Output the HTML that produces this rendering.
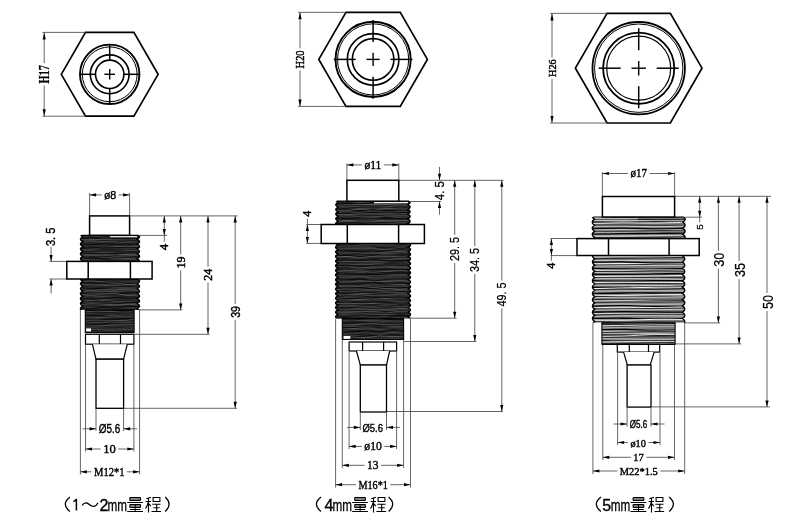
<!DOCTYPE html>
<html><head><meta charset="utf-8"><style>
html,body{margin:0;padding:0;background:#fff;}
body{width:790px;height:522px;overflow:hidden;font-family:"Liberation Sans",sans-serif;}
svg{display:block;will-change:transform;}
</style></head><body>
<svg width="790" height="522" viewBox="0 0 790 522">
<rect width="790" height="522" fill="#fff"/>
<path d="M61.3 74.3 L85.5 32.38 L133.9 32.38 L158.1 74.3 L133.9 116.22 L85.5 116.22 Z" stroke="#000" stroke-width="1.7" fill="none"/>
<circle cx="109.7" cy="74.3" r="29.7" stroke="#000" stroke-width="1.9" fill="none"/>
<circle cx="109.7" cy="74.3" r="27.4" stroke="#000" stroke-width="1.0" fill="none"/>
<circle cx="109.7" cy="74.3" r="19.4" stroke="#000" stroke-width="1.6" fill="none"/>
<circle cx="109.7" cy="74.3" r="14.2" stroke="#000" stroke-width="1.6" fill="none"/>
<line x1="79.7" y1="74.3" x2="95.5" y2="74.3" stroke="#000" stroke-width="1.5"/>
<line x1="109.7" y1="44.3" x2="109.7" y2="60.1" stroke="#000" stroke-width="1.5"/>
<line x1="123.9" y1="74.3" x2="139.7" y2="74.3" stroke="#000" stroke-width="1.5"/>
<line x1="109.7" y1="88.5" x2="109.7" y2="104.3" stroke="#000" stroke-width="1.5"/>
<line x1="104.4" y1="74.3" x2="115" y2="74.3" stroke="#000" stroke-width="1.4"/>
<line x1="109.7" y1="69" x2="109.7" y2="79.6" stroke="#000" stroke-width="1.4"/>
<line x1="42.4" y1="32.38" x2="85.5" y2="32.38" stroke="#555" stroke-width="0.9"/>
<line x1="42.4" y1="116.22" x2="85.5" y2="116.22" stroke="#555" stroke-width="0.9"/>
<line x1="44.2" y1="32.38" x2="44.2" y2="63.05" stroke="#555" stroke-width="0.9"/>
<line x1="44.2" y1="85.55" x2="44.2" y2="116.22" stroke="#555" stroke-width="0.9"/>
<path d="M44.2 32.38 L45.8 39.38 L42.6 39.38 Z" fill="#000"/>
<path d="M44.2 116.22 L42.6 109.22 L45.8 109.22 Z" fill="#000"/>
<text x="44" y="74.3" font-family="Liberation Serif" font-size="14.5" font-weight="bold" text-anchor="middle" dominant-baseline="central" textLength="18.5" lengthAdjust="spacingAndGlyphs" transform="rotate(-90 44 74.3)" fill="#000" stroke="#000" stroke-width="0.2">H17</text>
<path d="M318.8 59.4 L345.95 12.37 L400.25 12.37 L427.4 59.4 L400.25 106.43 L345.95 106.43 Z" stroke="#000" stroke-width="1.7" fill="none"/>
<circle cx="373.1" cy="59.4" r="37.6" stroke="#000" stroke-width="1.9" fill="none"/>
<circle cx="373.1" cy="59.4" r="35.6" stroke="#000" stroke-width="1.0" fill="none"/>
<circle cx="373.1" cy="59.4" r="25.8" stroke="#000" stroke-width="1.6" fill="none"/>
<circle cx="373.1" cy="59.4" r="20.8" stroke="#000" stroke-width="1.6" fill="none"/>
<line x1="333.8" y1="59.4" x2="355.7" y2="59.4" stroke="#000" stroke-width="1.5"/>
<line x1="373.1" y1="20.1" x2="373.1" y2="42" stroke="#000" stroke-width="1.5"/>
<line x1="390.5" y1="59.4" x2="412.4" y2="59.4" stroke="#000" stroke-width="1.5"/>
<line x1="373.1" y1="76.8" x2="373.1" y2="98.7" stroke="#000" stroke-width="1.5"/>
<line x1="366.5" y1="59.4" x2="379.7" y2="59.4" stroke="#000" stroke-width="1.4"/>
<line x1="373.1" y1="52.8" x2="373.1" y2="66" stroke="#000" stroke-width="1.4"/>
<line x1="298.2" y1="12.37" x2="345.95" y2="12.37" stroke="#555" stroke-width="0.9"/>
<line x1="298.2" y1="106.43" x2="345.95" y2="106.43" stroke="#555" stroke-width="0.9"/>
<line x1="300" y1="12.37" x2="300" y2="48.4" stroke="#555" stroke-width="0.9"/>
<line x1="300" y1="70.4" x2="300" y2="106.43" stroke="#555" stroke-width="0.9"/>
<path d="M300 12.37 L301.6 19.37 L298.4 19.37 Z" fill="#000"/>
<path d="M300 106.43 L298.4 99.43 L301.6 99.43 Z" fill="#000"/>
<text x="300.3" y="59.4" font-family="Liberation Serif" font-size="12.5" font-weight="normal" text-anchor="middle" dominant-baseline="central" textLength="18" lengthAdjust="spacingAndGlyphs" transform="rotate(-90 300.3 59.4)" fill="#000" stroke="#000" stroke-width="0.45">H20</text>
<path d="M575.4 68.2 L607.05 13.38 L670.35 13.38 L702 68.2 L670.35 123.02 L607.05 123.02 Z" stroke="#000" stroke-width="1.7" fill="none"/>
<circle cx="638.7" cy="68.2" r="46.2" stroke="#000" stroke-width="1.8" fill="none"/>
<circle cx="638.7" cy="68.2" r="44.2" stroke="#000" stroke-width="1.0" fill="none"/>
<circle cx="638.7" cy="68.2" r="35.6" stroke="#000" stroke-width="1.8" fill="none"/>
<circle cx="638.7" cy="68.2" r="32" stroke="#000" stroke-width="1.2" fill="none"/>
<line x1="598.7" y1="68.2" x2="620.7" y2="68.2" stroke="#000" stroke-width="1.5"/>
<line x1="638.7" y1="28.2" x2="638.7" y2="50.2" stroke="#000" stroke-width="1.5"/>
<line x1="656.7" y1="68.2" x2="678.7" y2="68.2" stroke="#000" stroke-width="1.5"/>
<line x1="638.7" y1="86.2" x2="638.7" y2="108.2" stroke="#000" stroke-width="1.5"/>
<line x1="631.5" y1="68.2" x2="645.9" y2="68.2" stroke="#000" stroke-width="1.4"/>
<line x1="638.7" y1="61" x2="638.7" y2="75.4" stroke="#000" stroke-width="1.4"/>
<line x1="550.2" y1="13.38" x2="607.05" y2="13.38" stroke="#555" stroke-width="0.9"/>
<line x1="550.2" y1="123.02" x2="607.05" y2="123.02" stroke="#555" stroke-width="0.9"/>
<line x1="552" y1="13.38" x2="552" y2="57.45" stroke="#555" stroke-width="0.9"/>
<line x1="552" y1="78.95" x2="552" y2="123.02" stroke="#555" stroke-width="0.9"/>
<path d="M552 13.38 L553.6 20.38 L550.4 20.38 Z" fill="#000"/>
<path d="M552 123.02 L550.4 116.02 L553.6 116.02 Z" fill="#000"/>
<text x="552.3" y="68.2" font-family="Liberation Serif" font-size="11" font-weight="normal" text-anchor="middle" dominant-baseline="central" textLength="17.5" lengthAdjust="spacingAndGlyphs" transform="rotate(-90 552.3 68.2)" fill="#000" stroke="#000" stroke-width="0.4">H26</text>
<line x1="89.6" y1="193" x2="89.6" y2="215" stroke="#555" stroke-width="0.9"/>
<line x1="129.6" y1="193" x2="129.6" y2="215" stroke="#555" stroke-width="0.9"/>
<line x1="130" y1="215.9" x2="237.5" y2="215.9" stroke="#555" stroke-width="0.9"/>
<line x1="140" y1="235.4" x2="167" y2="235.4" stroke="#555" stroke-width="0.9"/>
<line x1="140" y1="309.9" x2="182.3" y2="309.9" stroke="#555" stroke-width="0.9"/>
<line x1="134.5" y1="334.3" x2="209.5" y2="334.3" stroke="#555" stroke-width="0.9"/>
<line x1="124" y1="408.3" x2="237" y2="408.3" stroke="#555" stroke-width="0.9"/>
<line x1="49.5" y1="261.4" x2="66.8" y2="261.4" stroke="#555" stroke-width="0.9"/>
<line x1="49.5" y1="279" x2="66.8" y2="279" stroke="#555" stroke-width="0.9"/>
<line x1="96" y1="409" x2="96" y2="431" stroke="#555" stroke-width="0.9"/>
<line x1="123.6" y1="409" x2="123.6" y2="431" stroke="#555" stroke-width="0.9"/>
<line x1="85.5" y1="345" x2="85.5" y2="451.5" stroke="#555" stroke-width="0.9"/>
<line x1="133.9" y1="345" x2="133.9" y2="451.5" stroke="#555" stroke-width="0.9"/>
<line x1="80.4" y1="310" x2="80.4" y2="474.5" stroke="#555" stroke-width="0.9"/>
<line x1="139.6" y1="310" x2="139.6" y2="474.5" stroke="#555" stroke-width="0.9"/>
<clipPath id="th1b"><rect x="76.4" y="235.3" width="67.2" height="26.1"/></clipPath>
<g clip-path="url(#th1b)">
<clipPath id="th1"><path d="M137.2 226.95 L82.8 226.95 L82.8 226.95 Q78 229.4 82.8 231.85 L82.8 231.85 Q78 234.3 82.8 236.75 L82.8 236.75 Q78 239.2 82.8 241.65 L82.8 241.65 Q78 244.1 82.8 246.55 L82.8 246.55 Q78 249 82.8 251.45 L82.8 251.45 Q78 253.9 82.8 256.35 L82.8 256.35 Q78 258.8 82.8 261.25 L82.8 261.25 Q78 263.7 82.8 266.15 L82.8 266.15 Q78 268.6 82.8 271.05 L82.8 271.05 Q78 273.5 82.8 275.95 L82.8 275.95 Q78 278.4 82.8 280.85 L137.2 283.3 L137.2 283.3 Q142 280.85 137.2 278.4 L137.2 278.4 Q142 275.95 137.2 273.5 L137.2 273.5 Q142 271.05 137.2 268.6 L137.2 268.6 Q142 266.15 137.2 263.7 L137.2 263.7 Q142 261.25 137.2 258.8 L137.2 258.8 Q142 256.35 137.2 253.9 L137.2 253.9 Q142 251.45 137.2 249 L137.2 249 Q142 246.55 137.2 244.1 L137.2 244.1 Q142 241.65 137.2 239.2 L137.2 239.2 Q142 236.75 137.2 234.3 L137.2 234.3 Q142 231.85 137.2 229.4 L137.2 229.4 Q142 226.95 137.2 224.5 Z"/></clipPath>
<g clip-path="url(#th1)">
<path d="M137.2 226.95 L82.8 226.95 L82.8 226.95 Q78 229.4 82.8 231.85 L82.8 231.85 Q78 234.3 82.8 236.75 L82.8 236.75 Q78 239.2 82.8 241.65 L82.8 241.65 Q78 244.1 82.8 246.55 L82.8 246.55 Q78 249 82.8 251.45 L82.8 251.45 Q78 253.9 82.8 256.35 L82.8 256.35 Q78 258.8 82.8 261.25 L82.8 261.25 Q78 263.7 82.8 266.15 L82.8 266.15 Q78 268.6 82.8 271.05 L82.8 271.05 Q78 273.5 82.8 275.95 L82.8 275.95 Q78 278.4 82.8 280.85 L137.2 283.3 L137.2 283.3 Q142 280.85 137.2 278.4 L137.2 278.4 Q142 275.95 137.2 273.5 L137.2 273.5 Q142 271.05 137.2 268.6 L137.2 268.6 Q142 266.15 137.2 263.7 L137.2 263.7 Q142 261.25 137.2 258.8 L137.2 258.8 Q142 256.35 137.2 253.9 L137.2 253.9 Q142 251.45 137.2 249 L137.2 249 Q142 246.55 137.2 244.1 L137.2 244.1 Q142 241.65 137.2 239.2 L137.2 239.2 Q142 236.75 137.2 234.3 L137.2 234.3 Q142 231.85 137.2 229.4 L137.2 229.4 Q142 226.95 137.2 224.5 Z" fill="#2c2c2c"/>
<path d="M79.4 229.46 C81.44 229.46 87.56 229.62 91.64 229.48 C95.72 229.34 99.8 228.57 103.88 228.61 C107.96 228.64 112.04 229.53 116.12 229.69 C120.2 229.85 124.28 229.73 128.36 229.58 C132.44 229.43 138.56 228.93 140.6 228.8" stroke="#050505" stroke-width="0.9" fill="none"/>
<path d="M79.4 230.5 C81.44 230.47 87.56 230.44 91.64 230.29 C95.72 230.15 99.8 229.83 103.88 229.66 C107.96 229.49 112.04 229.13 116.12 229.25 C120.2 229.38 124.28 230.41 128.36 230.41 C132.44 230.41 138.56 229.45 140.6 229.26" stroke="#8a8a8a" stroke-width="0.5" fill="none"/>
<path d="M79.4 231.66 C81.44 231.73 87.56 232.14 91.64 232.08 C95.72 232.01 99.8 231.52 103.88 231.26 C107.96 231.01 112.04 230.73 116.12 230.52 C120.2 230.31 124.28 230.09 128.36 230.02 C132.44 229.96 138.56 230.14 140.6 230.16" stroke="#111" stroke-width="0.7" fill="none"/>
<path d="M79.4 232.23 C81.44 232.28 87.56 232.47 91.64 232.49 C95.72 232.5 99.8 232.54 103.88 232.32 C107.96 232.1 112.04 231.15 116.12 231.14 C120.2 231.14 124.28 232.21 128.36 232.29 C132.44 232.38 138.56 231.75 140.6 231.64" stroke="#737373" stroke-width="0.45" fill="none"/>
<path d="M79.4 233.46 C81.44 233.52 87.56 233.91 91.64 233.79 C95.72 233.68 99.8 232.93 103.88 232.76 C107.96 232.59 112.04 232.72 116.12 232.79 C120.2 232.85 124.28 232.95 128.36 233.15 C132.44 233.36 138.56 233.85 140.6 233.99" stroke="#0a0a0a" stroke-width="0.7" fill="none"/>
<path d="M79.4 234.16 C81.44 234.09 87.56 233.64 91.64 233.71 C95.72 233.78 99.8 234.67 103.88 234.59 C107.96 234.51 112.04 233.41 116.12 233.23 C120.2 233.05 124.28 233.51 128.36 233.51 C132.44 233.51 138.56 233.28 140.6 233.23" stroke="#5a5a5a" stroke-width="0.4" fill="none"/>
<path d="M79.4 234.25 C81.44 234.23 87.56 234.11 91.64 234.13 C95.72 234.14 99.8 234.59 103.88 234.35 C107.96 234.11 112.04 232.99 116.12 232.69 C120.2 232.38 124.28 232.51 128.36 232.53 C132.44 232.55 138.56 232.75 140.6 232.79" stroke="#050505" stroke-width="0.9" fill="none"/>
<path d="M79.4 235.21 C81.44 235.16 87.56 234.9 91.64 234.9 C95.72 234.9 99.8 235.29 103.88 235.24 C107.96 235.19 112.04 234.81 116.12 234.61 C120.2 234.42 124.28 234.22 128.36 234.06 C132.44 233.91 138.56 233.75 140.6 233.69" stroke="#8a8a8a" stroke-width="0.5" fill="none"/>
<path d="M79.4 236.45 C81.44 236.43 87.56 236.45 91.64 236.33 C95.72 236.2 99.8 235.76 103.88 235.69 C107.96 235.61 112.04 236.06 116.12 235.89 C120.2 235.71 124.28 234.77 128.36 234.66 C132.44 234.54 138.56 235.09 140.6 235.18" stroke="#111" stroke-width="0.7" fill="none"/>
<path d="M79.4 237.22 C81.44 237.06 87.56 236.26 91.64 236.27 C95.72 236.28 99.8 237.11 103.88 237.28 C107.96 237.44 112.04 237.5 116.12 237.28 C120.2 237.06 124.28 236.21 128.36 235.97 C132.44 235.73 138.56 235.85 140.6 235.83" stroke="#737373" stroke-width="0.45" fill="none"/>
<path d="M79.4 237.91 C81.44 237.8 87.56 237.28 91.64 237.24 C95.72 237.21 99.8 237.82 103.88 237.72 C107.96 237.61 112.04 236.86 116.12 236.63 C120.2 236.39 124.28 236.26 128.36 236.3 C132.44 236.33 138.56 236.75 140.6 236.85" stroke="#0a0a0a" stroke-width="0.7" fill="none"/>
<path d="M79.4 238.67 C81.44 238.68 87.56 238.7 91.64 238.72 C95.72 238.75 99.8 238.86 103.88 238.82 C107.96 238.78 112.04 238.68 116.12 238.49 C120.2 238.29 124.28 237.82 128.36 237.65 C132.44 237.47 138.56 237.47 140.6 237.44" stroke="#5a5a5a" stroke-width="0.4" fill="none"/>
<path d="M79.4 239.08 C81.44 238.89 87.56 237.93 91.64 237.96 C95.72 237.99 99.8 239.18 103.88 239.25 C107.96 239.31 112.04 238.53 116.12 238.36 C120.2 238.18 124.28 238.19 128.36 238.2 C132.44 238.22 138.56 238.4 140.6 238.43" stroke="#050505" stroke-width="0.9" fill="none"/>
<path d="M79.4 239.84 C81.44 239.85 87.56 239.96 91.64 239.89 C95.72 239.81 99.8 239.32 103.88 239.38 C107.96 239.43 112.04 240.16 116.12 240.21 C120.2 240.27 124.28 239.86 128.36 239.7 C132.44 239.54 138.56 239.31 140.6 239.23" stroke="#8a8a8a" stroke-width="0.5" fill="none"/>
<path d="M79.4 240.86 C81.44 240.98 87.56 241.61 91.64 241.59 C95.72 241.56 99.8 240.85 103.88 240.72 C107.96 240.59 112.04 240.97 116.12 240.79 C120.2 240.61 124.28 239.69 128.36 239.63 C132.44 239.56 138.56 240.28 140.6 240.41" stroke="#111" stroke-width="0.7" fill="none"/>
<path d="M79.4 241.89 C81.44 241.83 87.56 241.64 91.64 241.57 C95.72 241.51 99.8 241.47 103.88 241.49 C107.96 241.52 112.04 241.71 116.12 241.71 C120.2 241.71 124.28 241.56 128.36 241.5 C132.44 241.43 138.56 241.33 140.6 241.3" stroke="#737373" stroke-width="0.45" fill="none"/>
<path d="M79.4 242.87 C81.44 242.81 87.56 242.43 91.64 242.5 C95.72 242.58 99.8 243.4 103.88 243.31 C107.96 243.22 112.04 242.35 116.12 241.96 C120.2 241.56 124.28 241 128.36 240.95 C132.44 240.9 138.56 241.52 140.6 241.63" stroke="#0a0a0a" stroke-width="0.7" fill="none"/>
<path d="M79.4 243.21 C81.44 243.05 87.56 242.39 91.64 242.23 C95.72 242.07 99.8 242.24 103.88 242.23 C107.96 242.22 112.04 242.08 116.12 242.18 C120.2 242.27 124.28 242.68 128.36 242.78 C132.44 242.89 138.56 242.79 140.6 242.79" stroke="#5a5a5a" stroke-width="0.4" fill="none"/>
<path d="M79.4 244.49 C81.44 244.46 87.56 244.36 91.64 244.3 C95.72 244.25 99.8 244.18 103.88 244.15 C107.96 244.13 112.04 244.21 116.12 244.18 C120.2 244.14 124.28 244 128.36 243.96 C132.44 243.93 138.56 243.96 140.6 243.96" stroke="#050505" stroke-width="0.9" fill="none"/>
<path d="M79.4 245.26 C81.44 245.34 87.56 245.73 91.64 245.73 C95.72 245.73 99.8 245.25 103.88 245.26 C107.96 245.27 112.04 245.6 116.12 245.79 C120.2 245.97 124.28 246.41 128.36 246.38 C132.44 246.36 138.56 245.76 140.6 245.64" stroke="#8a8a8a" stroke-width="0.5" fill="none"/>
<path d="M79.4 245.68 C81.44 245.69 87.56 245.72 91.64 245.71 C95.72 245.7 99.8 245.69 103.88 245.63 C107.96 245.56 112.04 245.43 116.12 245.32 C120.2 245.22 124.28 245.12 128.36 245 C132.44 244.88 138.56 244.67 140.6 244.61" stroke="#111" stroke-width="0.7" fill="none"/>
<path d="M79.4 247.06 C81.44 247.14 87.56 247.45 91.64 247.56 C95.72 247.68 99.8 247.93 103.88 247.76 C107.96 247.6 112.04 246.67 116.12 246.6 C120.2 246.53 124.28 247.35 128.36 247.34 C132.44 247.32 138.56 246.65 140.6 246.51" stroke="#737373" stroke-width="0.45" fill="none"/>
<path d="M79.4 247.95 C81.44 247.81 87.56 246.95 91.64 247.11 C95.72 247.27 99.8 248.65 103.88 248.92 C107.96 249.18 112.04 248.66 116.12 248.7 C120.2 248.74 124.28 249.22 128.36 249.16 C132.44 249.09 138.56 248.45 140.6 248.3" stroke="#0a0a0a" stroke-width="0.7" fill="none"/>
<path d="M79.4 248.9 C81.44 248.92 87.56 249.23 91.64 249.04 C95.72 248.86 99.8 247.88 103.88 247.79 C107.96 247.7 112.04 248.31 116.12 248.5 C120.2 248.7 124.28 249.05 128.36 248.96 C132.44 248.86 138.56 248.1 140.6 247.92" stroke="#5a5a5a" stroke-width="0.4" fill="none"/>
<path d="M79.4 248.75 C81.44 248.59 87.56 247.9 91.64 247.75 C95.72 247.59 99.8 247.82 103.88 247.81 C107.96 247.8 112.04 247.76 116.12 247.67 C120.2 247.58 124.28 247.24 128.36 247.28 C132.44 247.32 138.56 247.82 140.6 247.92" stroke="#050505" stroke-width="0.9" fill="none"/>
<path d="M79.4 250.38 C81.44 250.38 87.56 250.27 91.64 250.38 C95.72 250.48 99.8 250.91 103.88 251.01 C107.96 251.11 112.04 251.03 116.12 250.98 C120.2 250.93 124.28 250.75 128.36 250.71 C132.44 250.67 138.56 250.73 140.6 250.73" stroke="#8a8a8a" stroke-width="0.5" fill="none"/>
<path d="M79.4 250.8 C81.44 250.81 87.56 250.97 91.64 250.88 C95.72 250.8 99.8 250.35 103.88 250.28 C107.96 250.2 112.04 250.33 116.12 250.45 C120.2 250.56 124.28 250.91 128.36 250.94 C132.44 250.98 138.56 250.71 140.6 250.66" stroke="#111" stroke-width="0.7" fill="none"/>
<path d="M79.4 251.8 C81.44 251.8 87.56 251.74 91.64 251.79 C95.72 251.84 99.8 252.08 103.88 252.09 C107.96 252.1 112.04 252.01 116.12 251.86 C120.2 251.71 124.28 251.39 128.36 251.19 C132.44 250.99 138.56 250.75 140.6 250.66" stroke="#737373" stroke-width="0.45" fill="none"/>
<path d="M79.4 252.33 C81.44 252.17 87.56 251.57 91.64 251.38 C95.72 251.18 99.8 251.16 103.88 251.17 C107.96 251.19 112.04 251.35 116.12 251.44 C120.2 251.53 124.28 251.67 128.36 251.71 C132.44 251.75 138.56 251.67 140.6 251.66" stroke="#0a0a0a" stroke-width="0.7" fill="none"/>
<path d="M79.4 253.62 C81.44 253.54 87.56 253.09 91.64 253.14 C95.72 253.19 99.8 253.86 103.88 253.92 C107.96 253.98 112.04 253.58 116.12 253.5 C120.2 253.42 124.28 253.48 128.36 253.46 C132.44 253.44 138.56 253.41 140.6 253.4" stroke="#5a5a5a" stroke-width="0.4" fill="none"/>
<path d="M79.4 253.71 C81.44 253.64 87.56 253.23 91.64 253.27 C95.72 253.3 99.8 253.91 103.88 253.91 C107.96 253.92 112.04 253.43 116.12 253.3 C120.2 253.16 124.28 253.14 128.36 253.1 C132.44 253.07 138.56 253.09 140.6 253.08" stroke="#050505" stroke-width="0.9" fill="none"/>
<path d="M79.4 254.86 C81.44 254.91 87.56 255.1 91.64 255.13 C95.72 255.17 99.8 255.08 103.88 255.08 C107.96 255.08 112.04 255.28 116.12 255.14 C120.2 255 124.28 254.37 128.36 254.24 C132.44 254.1 138.56 254.3 140.6 254.32" stroke="#8a8a8a" stroke-width="0.5" fill="none"/>
<path d="M79.4 256 C81.44 256.18 87.56 256.98 91.64 257.09 C95.72 257.19 99.8 256.92 103.88 256.65 C107.96 256.37 112.04 255.36 116.12 255.44 C120.2 255.52 124.28 256.93 128.36 257.11 C132.44 257.29 138.56 256.62 140.6 256.52" stroke="#111" stroke-width="0.7" fill="none"/>
<path d="M79.4 256.86 C81.44 256.75 87.56 256.37 91.64 256.21 C95.72 256.04 99.8 255.85 103.88 255.88 C107.96 255.92 112.04 256.41 116.12 256.41 C120.2 256.4 124.28 256.02 128.36 255.83 C132.44 255.65 138.56 255.39 140.6 255.3" stroke="#737373" stroke-width="0.45" fill="none"/>
<path d="M79.4 257.4 C81.44 257.25 87.56 256.71 91.64 256.5 C95.72 256.29 99.8 255.99 103.88 256.12 C107.96 256.24 112.04 257.07 116.12 257.27 C120.2 257.47 124.28 257.5 128.36 257.32 C132.44 257.14 138.56 256.4 140.6 256.21" stroke="#0a0a0a" stroke-width="0.7" fill="none"/>
<path d="M79.4 258.09 C81.44 258.24 87.56 259.1 91.64 259 C95.72 258.9 99.8 257.61 103.88 257.48 C107.96 257.36 112.04 258.17 116.12 258.25 C120.2 258.34 124.28 258.02 128.36 258 C132.44 257.97 138.56 258.1 140.6 258.12" stroke="#5a5a5a" stroke-width="0.4" fill="none"/>
<path d="M79.4 259.18 C81.44 259.03 87.56 258.35 91.64 258.27 C95.72 258.2 99.8 258.41 103.88 258.71 C107.96 259.01 112.04 259.92 116.12 260.06 C120.2 260.21 124.28 259.67 128.36 259.58 C132.44 259.48 138.56 259.51 140.6 259.49" stroke="#050505" stroke-width="0.9" fill="none"/>
<path d="M79.4 259.8 C81.44 259.89 87.56 260.2 91.64 260.36 C95.72 260.53 99.8 260.91 103.88 260.78 C107.96 260.65 112.04 259.85 116.12 259.56 C120.2 259.27 124.28 258.97 128.36 259.04 C132.44 259.11 138.56 259.82 140.6 259.98" stroke="#8a8a8a" stroke-width="0.5" fill="none"/>
<path d="M79.4 260.82 C81.44 260.79 87.56 260.63 91.64 260.65 C95.72 260.67 99.8 261.09 103.88 260.94 C107.96 260.78 112.04 259.9 116.12 259.72 C120.2 259.53 124.28 259.89 128.36 259.83 C132.44 259.76 138.56 259.41 140.6 259.33" stroke="#111" stroke-width="0.7" fill="none"/>
<path d="M79.4 261.23 C81.44 261.23 87.56 261.16 91.64 261.19 C95.72 261.23 99.8 261.41 103.88 261.46 C107.96 261.51 112.04 261.84 116.12 261.48 C120.2 261.12 124.28 259.54 128.36 259.29 C132.44 259.04 138.56 259.86 140.6 259.98" stroke="#737373" stroke-width="0.45" fill="none"/>
<path d="M79.4 262.81 C81.44 262.75 87.56 262.48 91.64 262.42 C95.72 262.35 99.8 262.37 103.88 262.42 C107.96 262.46 112.04 262.73 116.12 262.68 C120.2 262.63 124.28 262.18 128.36 262.13 C132.44 262.07 138.56 262.3 140.6 262.34" stroke="#0a0a0a" stroke-width="0.7" fill="none"/>
<path d="M79.4 262.93 C81.44 263.01 87.56 263.34 91.64 263.4 C95.72 263.46 99.8 263.24 103.88 263.27 C107.96 263.29 112.04 263.41 116.12 263.55 C120.2 263.7 124.28 264.2 128.36 264.14 C132.44 264.09 138.56 263.38 140.6 263.23" stroke="#5a5a5a" stroke-width="0.4" fill="none"/>
<path d="M79.4 263.44 C81.44 263.55 87.56 264.17 91.64 264.13 C95.72 264.09 99.8 263.29 103.88 263.21 C107.96 263.14 112.04 263.63 116.12 263.69 C120.2 263.74 124.28 263.53 128.36 263.53 C132.44 263.52 138.56 263.63 140.6 263.65" stroke="#050505" stroke-width="0.9" fill="none"/>
<path d="M79.4 264.44 C81.44 264.3 87.56 263.51 91.64 263.61 C95.72 263.71 99.8 265.07 103.88 265.04 C107.96 265.01 112.04 263.56 116.12 263.42 C120.2 263.28 124.28 264.12 128.36 264.19 C132.44 264.25 138.56 263.85 140.6 263.79" stroke="#8a8a8a" stroke-width="0.5" fill="none"/>
<path d="M79.4 265.62 C81.44 265.73 87.56 266.32 91.64 266.31 C95.72 266.3 99.8 265.66 103.88 265.56 C107.96 265.45 112.04 265.76 116.12 265.7 C120.2 265.63 124.28 265.08 128.36 265.15 C132.44 265.23 138.56 265.99 140.6 266.16" stroke="#111" stroke-width="0.7" fill="none"/>
<path d="M79.4 266.04 C81.44 266.16 87.56 266.96 91.64 266.75 C95.72 266.54 99.8 265.09 103.88 264.77 C107.96 264.45 112.04 264.71 116.12 264.84 C120.2 264.97 124.28 265.53 128.36 265.58 C132.44 265.62 138.56 265.2 140.6 265.12" stroke="#737373" stroke-width="0.45" fill="none"/>
<path d="M79.4 267.26 C81.44 267.37 87.56 268.15 91.64 267.92 C95.72 267.69 99.8 266.07 103.88 265.87 C107.96 265.68 112.04 266.7 116.12 266.74 C120.2 266.79 124.28 266.28 128.36 266.17 C132.44 266.06 138.56 266.09 140.6 266.07" stroke="#0a0a0a" stroke-width="0.7" fill="none"/>
<path d="M79.4 267.99 C81.44 267.83 87.56 267.19 91.64 267.08 C95.72 266.97 99.8 267.21 103.88 267.33 C107.96 267.45 112.04 267.85 116.12 267.79 C120.2 267.73 124.28 267.15 128.36 266.99 C132.44 266.82 138.56 266.84 140.6 266.82" stroke="#5a5a5a" stroke-width="0.4" fill="none"/>
<path d="M79.4 268.82 C81.44 268.72 87.56 268.09 91.64 268.23 C95.72 268.38 99.8 269.56 103.88 269.71 C107.96 269.87 112.04 269.32 116.12 269.18 C120.2 269.05 124.28 268.93 128.36 268.93 C132.44 268.92 138.56 269.12 140.6 269.15" stroke="#050505" stroke-width="0.9" fill="none"/>
<path d="M79.4 269.59 C81.44 269.57 87.56 269.56 91.64 269.45 C95.72 269.33 99.8 268.71 103.88 268.92 C107.96 269.14 112.04 270.69 116.12 270.72 C120.2 270.76 124.28 269.24 128.36 269.11 C132.44 268.98 138.56 269.81 140.6 269.95" stroke="#8a8a8a" stroke-width="0.5" fill="none"/>
<path d="M79.4 270.15 C81.44 270.08 87.56 269.84 91.64 269.77 C95.72 269.7 99.8 269.61 103.88 269.72 C107.96 269.83 112.04 270.24 116.12 270.44 C120.2 270.64 124.28 270.97 128.36 270.92 C132.44 270.87 138.56 270.27 140.6 270.14" stroke="#111" stroke-width="0.7" fill="none"/>
<path d="M79.4 271.17 C81.44 271.22 87.56 271.43 91.64 271.49 C95.72 271.55 99.8 271.55 103.88 271.55 C107.96 271.54 112.04 271.65 116.12 271.47 C120.2 271.3 124.28 270.5 128.36 270.51 C132.44 270.53 138.56 271.39 140.6 271.57" stroke="#737373" stroke-width="0.45" fill="none"/>
<path d="M79.4 272 C81.44 272.06 87.56 272.51 91.64 272.37 C95.72 272.22 99.8 271.18 103.88 271.15 C107.96 271.12 112.04 272.09 116.12 272.21 C120.2 272.33 124.28 271.91 128.36 271.86 C132.44 271.81 138.56 271.89 140.6 271.89" stroke="#0a0a0a" stroke-width="0.7" fill="none"/>
<path d="M79.4 273.07 C81.44 272.95 87.56 272.46 91.64 272.36 C95.72 272.27 99.8 272.29 103.88 272.49 C107.96 272.7 112.04 273.68 116.12 273.58 C120.2 273.47 124.28 272.08 128.36 271.87 C132.44 271.67 138.56 272.27 140.6 272.35" stroke="#5a5a5a" stroke-width="0.4" fill="none"/>
<path d="M79.4 273.79 C81.44 273.63 87.56 272.78 91.64 272.85 C95.72 272.93 99.8 274.29 103.88 274.24 C107.96 274.19 112.04 272.59 116.12 272.57 C120.2 272.55 124.28 273.99 128.36 274.12 C132.44 274.25 138.56 273.49 140.6 273.36" stroke="#050505" stroke-width="0.9" fill="none"/>
<path d="M79.4 274.35 C81.44 274.44 87.56 274.91 91.64 274.89 C95.72 274.87 99.8 274.24 103.88 274.24 C107.96 274.23 112.04 274.62 116.12 274.85 C120.2 275.09 124.28 275.67 128.36 275.66 C132.44 275.65 138.56 274.92 140.6 274.77" stroke="#8a8a8a" stroke-width="0.5" fill="none"/>
<path d="M79.4 275.1 C81.44 274.99 87.56 274.42 91.64 274.45 C95.72 274.48 99.8 275.37 103.88 275.28 C107.96 275.19 112.04 274.17 116.12 273.9 C120.2 273.64 124.28 273.67 128.36 273.67 C132.44 273.68 138.56 273.9 140.6 273.95" stroke="#111" stroke-width="0.7" fill="none"/>
<path d="M79.4 276.29 C81.44 276.25 87.56 276.07 91.64 276.06 C95.72 276.06 99.8 276.41 103.88 276.26 C107.96 276.11 112.04 275.36 116.12 275.16 C120.2 274.96 124.28 274.91 128.36 275.05 C132.44 275.18 138.56 275.82 140.6 275.97" stroke="#737373" stroke-width="0.45" fill="none"/>
<path d="M79.4 276.8 C81.44 276.84 87.56 276.98 91.64 277.04 C95.72 277.1 99.8 277.48 103.88 277.16 C107.96 276.85 112.04 275.46 116.12 275.16 C120.2 274.86 124.28 275.36 128.36 275.38 C132.44 275.41 138.56 275.33 140.6 275.32" stroke="#0a0a0a" stroke-width="0.7" fill="none"/>
<path d="M79.4 277.52 C81.44 277.55 87.56 277.72 91.64 277.72 C95.72 277.71 99.8 277.47 103.88 277.51 C107.96 277.55 112.04 278 116.12 277.94 C120.2 277.87 124.28 277.29 128.36 277.11 C132.44 276.93 138.56 276.92 140.6 276.88" stroke="#5a5a5a" stroke-width="0.4" fill="none"/>
<path d="M79.4 278.04 C81.44 278 87.56 277.91 91.64 277.81 C95.72 277.7 99.8 277.6 103.88 277.41 C107.96 277.21 112.04 276.6 116.12 276.65 C120.2 276.69 124.28 277.58 128.36 277.68 C132.44 277.78 138.56 277.34 140.6 277.27" stroke="#050505" stroke-width="0.9" fill="none"/>
<path d="M79.4 279.37 C81.44 279.32 87.56 279.24 91.64 279.09 C95.72 278.95 99.8 278.53 103.88 278.5 C107.96 278.46 112.04 278.85 116.12 278.88 C120.2 278.91 124.28 278.62 128.36 278.69 C132.44 278.77 138.56 279.22 140.6 279.33" stroke="#8a8a8a" stroke-width="0.5" fill="none"/>
<path d="M79.4 280.23 C81.44 280.05 87.56 279.21 91.64 279.14 C95.72 279.06 99.8 279.84 103.88 279.78 C107.96 279.71 112.04 278.98 116.12 278.75 C120.2 278.53 124.28 278.39 128.36 278.43 C132.44 278.47 138.56 278.88 140.6 278.97" stroke="#111" stroke-width="0.7" fill="none"/>
<path d="M79.4 280.79 C81.44 280.89 87.56 281.29 91.64 281.39 C95.72 281.5 99.8 281.47 103.88 281.39 C107.96 281.31 112.04 280.98 116.12 280.91 C120.2 280.85 124.28 281.05 128.36 281.02 C132.44 280.99 138.56 280.79 140.6 280.74" stroke="#737373" stroke-width="0.45" fill="none"/>
<path d="M79.4 282.28 C81.44 282.26 87.56 282.14 91.64 282.17 C95.72 282.19 99.8 282.44 103.88 282.44 C107.96 282.44 112.04 282.23 116.12 282.15 C120.2 282.07 124.28 282.06 128.36 281.97 C132.44 281.88 138.56 281.68 140.6 281.62" stroke="#0a0a0a" stroke-width="0.7" fill="none"/>
<path d="M79.4 282.93 C81.44 282.82 87.56 282.36 91.64 282.27 C95.72 282.18 99.8 282.24 103.88 282.37 C107.96 282.5 112.04 283.05 116.12 283.06 C120.2 283.07 124.28 282.52 128.36 282.43 C132.44 282.34 138.56 282.49 140.6 282.51" stroke="#5a5a5a" stroke-width="0.4" fill="none"/>
<line x1="110" y1="236.6" x2="137" y2="236.6" stroke="#e8e8e8" stroke-width="1.2"/>
</g>
<path d="M137.2 226.95 L82.8 226.95 L82.8 226.95 Q78 229.4 82.8 231.85 L82.8 231.85 Q78 234.3 82.8 236.75 L82.8 236.75 Q78 239.2 82.8 241.65 L82.8 241.65 Q78 244.1 82.8 246.55 L82.8 246.55 Q78 249 82.8 251.45 L82.8 251.45 Q78 253.9 82.8 256.35 L82.8 256.35 Q78 258.8 82.8 261.25 L82.8 261.25 Q78 263.7 82.8 266.15 L82.8 266.15 Q78 268.6 82.8 271.05 L82.8 271.05 Q78 273.5 82.8 275.95 L82.8 275.95 Q78 278.4 82.8 280.85 L137.2 283.3 L137.2 283.3 Q142 280.85 137.2 278.4 L137.2 278.4 Q142 275.95 137.2 273.5 L137.2 273.5 Q142 271.05 137.2 268.6 L137.2 268.6 Q142 266.15 137.2 263.7 L137.2 263.7 Q142 261.25 137.2 258.8 L137.2 258.8 Q142 256.35 137.2 253.9 L137.2 253.9 Q142 251.45 137.2 249 L137.2 249 Q142 246.55 137.2 244.1 L137.2 244.1 Q142 241.65 137.2 239.2 L137.2 239.2 Q142 236.75 137.2 234.3 L137.2 234.3 Q142 231.85 137.2 229.4 L137.2 229.4 Q142 226.95 137.2 224.5 Z" fill="none" stroke="#000" stroke-width="1.4"/>
</g>
<clipPath id="th2b"><rect x="76.4" y="279" width="67.2" height="30.9"/></clipPath>
<g clip-path="url(#th2b)">
<clipPath id="th2"><path d="M137.2 271.43 L82.8 271.43 L82.8 271.43 Q78 273.9 82.8 276.38 L82.8 276.38 Q78 278.85 82.8 281.33 L82.8 281.32 Q78 283.8 82.8 286.28 L82.8 286.27 Q78 288.75 82.8 291.23 L82.8 291.22 Q78 293.7 82.8 296.18 L82.8 296.18 Q78 298.65 82.8 301.13 L82.8 301.12 Q78 303.6 82.8 306.08 L82.8 306.07 Q78 308.55 82.8 311.03 L82.8 311.02 Q78 313.5 82.8 315.98 L82.8 315.97 Q78 318.45 82.8 320.93 L82.8 320.93 Q78 323.4 82.8 325.88 L82.8 325.88 Q78 328.35 82.8 330.83 L137.2 333.3 L137.2 333.3 Q142 330.83 137.2 328.35 L137.2 328.35 Q142 325.88 137.2 323.4 L137.2 323.4 Q142 320.93 137.2 318.45 L137.2 318.45 Q142 315.97 137.2 313.5 L137.2 313.5 Q142 311.02 137.2 308.55 L137.2 308.55 Q142 306.07 137.2 303.6 L137.2 303.6 Q142 301.12 137.2 298.65 L137.2 298.65 Q142 296.18 137.2 293.7 L137.2 293.7 Q142 291.22 137.2 288.75 L137.2 288.75 Q142 286.27 137.2 283.8 L137.2 283.8 Q142 281.32 137.2 278.85 L137.2 278.85 Q142 276.38 137.2 273.9 L137.2 273.9 Q142 271.43 137.2 268.95 Z"/></clipPath>
<g clip-path="url(#th2)">
<path d="M137.2 271.43 L82.8 271.43 L82.8 271.43 Q78 273.9 82.8 276.38 L82.8 276.38 Q78 278.85 82.8 281.33 L82.8 281.32 Q78 283.8 82.8 286.28 L82.8 286.27 Q78 288.75 82.8 291.23 L82.8 291.22 Q78 293.7 82.8 296.18 L82.8 296.18 Q78 298.65 82.8 301.13 L82.8 301.12 Q78 303.6 82.8 306.08 L82.8 306.07 Q78 308.55 82.8 311.03 L82.8 311.02 Q78 313.5 82.8 315.98 L82.8 315.97 Q78 318.45 82.8 320.93 L82.8 320.93 Q78 323.4 82.8 325.88 L82.8 325.88 Q78 328.35 82.8 330.83 L137.2 333.3 L137.2 333.3 Q142 330.83 137.2 328.35 L137.2 328.35 Q142 325.88 137.2 323.4 L137.2 323.4 Q142 320.93 137.2 318.45 L137.2 318.45 Q142 315.97 137.2 313.5 L137.2 313.5 Q142 311.02 137.2 308.55 L137.2 308.55 Q142 306.07 137.2 303.6 L137.2 303.6 Q142 301.12 137.2 298.65 L137.2 298.65 Q142 296.18 137.2 293.7 L137.2 293.7 Q142 291.22 137.2 288.75 L137.2 288.75 Q142 286.27 137.2 283.8 L137.2 283.8 Q142 281.32 137.2 278.85 L137.2 278.85 Q142 276.38 137.2 273.9 L137.2 273.9 Q142 271.43 137.2 268.95 Z" fill="#2c2c2c"/>
<path d="M79.4 273.86 C81.44 273.99 87.56 274.67 91.64 274.64 C95.72 274.6 99.8 273.81 103.88 273.65 C107.96 273.48 112.04 273.64 116.12 273.66 C120.2 273.67 124.28 273.77 128.36 273.74 C132.44 273.71 138.56 273.53 140.6 273.49" stroke="#050505" stroke-width="0.9" fill="none"/>
<path d="M79.4 274.64 C81.44 274.67 87.56 274.74 91.64 274.8 C95.72 274.87 99.8 275.24 103.88 275.03 C107.96 274.82 112.04 273.74 116.12 273.54 C120.2 273.35 124.28 273.76 128.36 273.87 C132.44 273.97 138.56 274.11 140.6 274.16" stroke="#8a8a8a" stroke-width="0.5" fill="none"/>
<path d="M79.4 275.45 C81.44 275.52 87.56 276.02 91.64 275.88 C95.72 275.74 99.8 274.5 103.88 274.61 C107.96 274.72 112.04 276.21 116.12 276.53 C120.2 276.85 124.28 276.68 128.36 276.53 C132.44 276.38 138.56 275.78 140.6 275.63" stroke="#111" stroke-width="0.7" fill="none"/>
<path d="M79.4 276.75 C81.44 276.62 87.56 276.19 91.64 276.01 C95.72 275.83 99.8 275.57 103.88 275.68 C107.96 275.78 112.04 276.66 116.12 276.65 C120.2 276.65 124.28 275.69 128.36 275.67 C132.44 275.64 138.56 276.36 140.6 276.5" stroke="#737373" stroke-width="0.45" fill="none"/>
<path d="M79.4 277.36 C81.44 277.17 87.56 276.29 91.64 276.21 C95.72 276.13 99.8 276.8 103.88 276.87 C107.96 276.93 112.04 276.55 116.12 276.61 C120.2 276.66 124.28 277.25 128.36 277.2 C132.44 277.14 138.56 276.45 140.6 276.3" stroke="#0a0a0a" stroke-width="0.7" fill="none"/>
<path d="M79.4 278.37 C81.44 278.36 87.56 278.29 91.64 278.33 C95.72 278.37 99.8 278.65 103.88 278.62 C107.96 278.59 112.04 278.31 116.12 278.17 C120.2 278.03 124.28 277.77 128.36 277.77 C132.44 277.78 138.56 278.11 140.6 278.18" stroke="#5a5a5a" stroke-width="0.4" fill="none"/>
<path d="M79.4 279.25 C81.44 279.38 87.56 279.94 91.64 280.05 C95.72 280.16 99.8 280.04 103.88 279.9 C107.96 279.76 112.04 279.35 116.12 279.23 C120.2 279.11 124.28 279.08 128.36 279.18 C132.44 279.28 138.56 279.73 140.6 279.84" stroke="#050505" stroke-width="0.9" fill="none"/>
<path d="M79.4 279.67 C81.44 279.71 87.56 280.04 91.64 279.91 C95.72 279.79 99.8 278.96 103.88 278.89 C107.96 278.82 112.04 279.6 116.12 279.5 C120.2 279.4 124.28 278.5 128.36 278.29 C132.44 278.08 138.56 278.24 140.6 278.23" stroke="#8a8a8a" stroke-width="0.5" fill="none"/>
<path d="M79.4 281.1 C81.44 280.94 87.56 280.23 91.64 280.15 C95.72 280.07 99.8 280.3 103.88 280.62 C107.96 280.94 112.04 281.97 116.12 282.08 C120.2 282.18 124.28 281.37 128.36 281.25 C132.44 281.13 138.56 281.34 140.6 281.36" stroke="#111" stroke-width="0.7" fill="none"/>
<path d="M79.4 281.96 C81.44 281.79 87.56 280.96 91.64 280.96 C95.72 280.95 99.8 281.74 103.88 281.93 C107.96 282.11 112.04 282.25 116.12 282.08 C120.2 281.91 124.28 281.06 128.36 280.92 C132.44 280.77 138.56 281.18 140.6 281.23" stroke="#737373" stroke-width="0.45" fill="none"/>
<path d="M79.4 282.23 C81.44 282.36 87.56 282.96 91.64 282.99 C95.72 283.01 99.8 282.74 103.88 282.4 C107.96 282.06 112.04 281.18 116.12 280.95 C120.2 280.72 124.28 280.96 128.36 281.03 C132.44 281.1 138.56 281.31 140.6 281.36" stroke="#0a0a0a" stroke-width="0.7" fill="none"/>
<path d="M79.4 282.99 C81.44 283.04 87.56 283.49 91.64 283.29 C95.72 283.08 99.8 281.93 103.88 281.75 C107.96 281.58 112.04 282.23 116.12 282.22 C120.2 282.22 124.28 281.82 128.36 281.71 C132.44 281.59 138.56 281.55 140.6 281.52" stroke="#5a5a5a" stroke-width="0.4" fill="none"/>
<path d="M79.4 283.55 C81.44 283.43 87.56 282.77 91.64 282.82 C95.72 282.87 99.8 283.85 103.88 283.84 C107.96 283.84 112.04 282.87 116.12 282.79 C120.2 282.72 124.28 283.27 128.36 283.4 C132.44 283.53 138.56 283.54 140.6 283.56" stroke="#050505" stroke-width="0.9" fill="none"/>
<path d="M79.4 284.56 C81.44 284.68 87.56 285.27 91.64 285.3 C95.72 285.33 99.8 285.05 103.88 284.76 C107.96 284.48 112.04 283.6 116.12 283.56 C120.2 283.52 124.28 284.53 128.36 284.52 C132.44 284.52 138.56 283.72 140.6 283.55" stroke="#8a8a8a" stroke-width="0.5" fill="none"/>
<path d="M79.4 285.45 C81.44 285.54 87.56 286.01 91.64 286.01 C95.72 286.01 99.8 285.74 103.88 285.44 C107.96 285.14 112.04 284.14 116.12 284.21 C120.2 284.28 124.28 285.76 128.36 285.84 C132.44 285.93 138.56 284.9 140.6 284.72" stroke="#111" stroke-width="0.7" fill="none"/>
<path d="M79.4 286.29 C81.44 286.35 87.56 286.76 91.64 286.63 C95.72 286.51 99.8 285.77 103.88 285.54 C107.96 285.31 112.04 285.42 116.12 285.27 C120.2 285.11 124.28 284.62 128.36 284.61 C132.44 284.61 138.56 285.15 140.6 285.26" stroke="#737373" stroke-width="0.45" fill="none"/>
<path d="M79.4 287.18 C81.44 287.09 87.56 286.59 91.64 286.61 C95.72 286.62 99.8 287.24 103.88 287.26 C107.96 287.28 112.04 286.81 116.12 286.74 C120.2 286.67 124.28 286.82 128.36 286.84 C132.44 286.86 138.56 286.86 140.6 286.87" stroke="#0a0a0a" stroke-width="0.7" fill="none"/>
<path d="M79.4 288.62 C81.44 288.63 87.56 288.58 91.64 288.66 C95.72 288.75 99.8 289.31 103.88 289.14 C107.96 288.97 112.04 287.94 116.12 287.67 C120.2 287.39 124.28 287.43 128.36 287.5 C132.44 287.57 138.56 287.99 140.6 288.09" stroke="#5a5a5a" stroke-width="0.4" fill="none"/>
<path d="M79.4 289.08 C81.44 289 87.56 288.71 91.64 288.62 C95.72 288.53 99.8 288.36 103.88 288.54 C107.96 288.71 112.04 289.41 116.12 289.68 C120.2 289.94 124.28 290.18 128.36 290.12 C132.44 290.05 138.56 289.42 140.6 289.28" stroke="#050505" stroke-width="0.9" fill="none"/>
<path d="M79.4 289.5 C81.44 289.64 87.56 290.29 91.64 290.36 C95.72 290.43 99.8 290.02 103.88 289.9 C107.96 289.78 112.04 289.77 116.12 289.63 C120.2 289.5 124.28 289.04 128.36 289.1 C132.44 289.16 138.56 289.84 140.6 289.99" stroke="#8a8a8a" stroke-width="0.5" fill="none"/>
<path d="M79.4 290.26 C81.44 290.19 87.56 289.74 91.64 289.84 C95.72 289.95 99.8 290.84 103.88 290.88 C107.96 290.92 112.04 290.01 116.12 290.09 C120.2 290.16 124.28 291.21 128.36 291.32 C132.44 291.44 138.56 290.87 140.6 290.78" stroke="#111" stroke-width="0.7" fill="none"/>
<path d="M79.4 291.55 C81.44 291.41 87.56 290.7 91.64 290.71 C95.72 290.72 99.8 291.71 103.88 291.61 C107.96 291.51 112.04 290.34 116.12 290.11 C120.2 289.89 124.28 290.16 128.36 290.24 C132.44 290.32 138.56 290.54 140.6 290.6" stroke="#737373" stroke-width="0.45" fill="none"/>
<path d="M79.4 292.51 C81.44 292.56 87.56 292.85 91.64 292.79 C95.72 292.74 99.8 292.06 103.88 292.18 C107.96 292.3 112.04 293.52 116.12 293.51 C120.2 293.5 124.28 292.26 128.36 292.14 C132.44 292.02 138.56 292.68 140.6 292.79" stroke="#0a0a0a" stroke-width="0.7" fill="none"/>
<path d="M79.4 292.82 C81.44 292.77 87.56 292.72 91.64 292.51 C95.72 292.29 99.8 291.69 103.88 291.54 C107.96 291.38 112.04 291.53 116.12 291.57 C120.2 291.6 124.28 291.71 128.36 291.75 C132.44 291.79 138.56 291.8 140.6 291.81" stroke="#5a5a5a" stroke-width="0.4" fill="none"/>
<path d="M79.4 293.76 C81.44 293.67 87.56 293.18 91.64 293.22 C95.72 293.26 99.8 293.9 103.88 294.02 C107.96 294.13 112.04 294.1 116.12 293.93 C120.2 293.77 124.28 293.27 128.36 293.02 C132.44 292.78 138.56 292.54 140.6 292.45" stroke="#050505" stroke-width="0.9" fill="none"/>
<path d="M79.4 294.84 C81.44 294.71 87.56 294.24 91.64 294.06 C95.72 293.88 99.8 293.85 103.88 293.79 C107.96 293.73 112.04 293.42 116.12 293.69 C120.2 293.96 124.28 295.27 128.36 295.41 C132.44 295.55 138.56 294.68 140.6 294.53" stroke="#8a8a8a" stroke-width="0.5" fill="none"/>
<path d="M79.4 295.74 C81.44 295.6 87.56 294.81 91.64 294.89 C95.72 294.97 99.8 296.03 103.88 296.22 C107.96 296.41 112.04 295.95 116.12 296.02 C120.2 296.08 124.28 296.58 128.36 296.62 C132.44 296.66 138.56 296.32 140.6 296.26" stroke="#111" stroke-width="0.7" fill="none"/>
<path d="M79.4 296.28 C81.44 296.16 87.56 295.49 91.64 295.55 C95.72 295.6 99.8 296.35 103.88 296.61 C107.96 296.87 112.04 296.95 116.12 297.11 C120.2 297.27 124.28 297.6 128.36 297.56 C132.44 297.52 138.56 296.99 140.6 296.88" stroke="#737373" stroke-width="0.45" fill="none"/>
<path d="M79.4 297.6 C81.44 297.7 87.56 298.04 91.64 298.18 C95.72 298.31 99.8 298.56 103.88 298.41 C107.96 298.26 112.04 297.35 116.12 297.27 C120.2 297.19 124.28 297.89 128.36 297.93 C132.44 297.98 138.56 297.61 140.6 297.55" stroke="#0a0a0a" stroke-width="0.7" fill="none"/>
<path d="M79.4 298.48 C81.44 298.46 87.56 298.26 91.64 298.37 C95.72 298.49 99.8 299.01 103.88 299.18 C107.96 299.35 112.04 299.44 116.12 299.39 C120.2 299.34 124.28 298.97 128.36 298.87 C132.44 298.77 138.56 298.81 140.6 298.79" stroke="#5a5a5a" stroke-width="0.4" fill="none"/>
<path d="M79.4 298.75 C81.44 298.75 87.56 298.78 91.64 298.76 C95.72 298.75 99.8 298.88 103.88 298.66 C107.96 298.45 112.04 297.5 116.12 297.46 C120.2 297.41 124.28 298.33 128.36 298.42 C132.44 298.51 138.56 298.06 140.6 297.99" stroke="#050505" stroke-width="0.9" fill="none"/>
<path d="M79.4 300.03 C81.44 300.12 87.56 300.57 91.64 300.56 C95.72 300.54 99.8 299.92 103.88 299.95 C107.96 299.97 112.04 300.62 116.12 300.71 C120.2 300.79 124.28 300.52 128.36 300.46 C132.44 300.41 138.56 300.39 140.6 300.37" stroke="#8a8a8a" stroke-width="0.5" fill="none"/>
<path d="M79.4 300.48 C81.44 300.35 87.56 299.6 91.64 299.7 C95.72 299.8 99.8 301.08 103.88 301.08 C107.96 301.08 112.04 299.72 116.12 299.69 C120.2 299.66 124.28 300.71 128.36 300.88 C132.44 301.05 138.56 300.75 140.6 300.73" stroke="#111" stroke-width="0.7" fill="none"/>
<path d="M79.4 301.36 C81.44 301.39 87.56 301.61 91.64 301.54 C95.72 301.46 99.8 301.02 103.88 300.91 C107.96 300.81 112.04 300.86 116.12 300.93 C120.2 301 124.28 301.43 128.36 301.32 C132.44 301.21 138.56 300.44 140.6 300.26" stroke="#737373" stroke-width="0.45" fill="none"/>
<path d="M79.4 302.17 C81.44 302.05 87.56 301.5 91.64 301.45 C95.72 301.41 99.8 302.03 103.88 301.89 C107.96 301.76 112.04 300.9 116.12 300.63 C120.2 300.35 124.28 300.25 128.36 300.25 C132.44 300.24 138.56 300.53 140.6 300.59" stroke="#0a0a0a" stroke-width="0.7" fill="none"/>
<path d="M79.4 303.43 C81.44 303.41 87.56 303.16 91.64 303.28 C95.72 303.4 99.8 304.2 103.88 304.15 C107.96 304.11 112.04 303.08 116.12 302.99 C120.2 302.91 124.28 303.6 128.36 303.64 C132.44 303.69 138.56 303.34 140.6 303.28" stroke="#5a5a5a" stroke-width="0.4" fill="none"/>
<path d="M79.4 303.36 C81.44 303.44 87.56 303.75 91.64 303.84 C95.72 303.93 99.8 303.95 103.88 303.93 C107.96 303.91 112.04 303.95 116.12 303.73 C120.2 303.51 124.28 302.78 128.36 302.61 C132.44 302.44 138.56 302.69 140.6 302.71" stroke="#050505" stroke-width="0.9" fill="none"/>
<path d="M79.4 304.66 C81.44 304.51 87.56 303.81 91.64 303.75 C95.72 303.69 99.8 304.11 103.88 304.29 C107.96 304.46 112.04 304.73 116.12 304.79 C120.2 304.85 124.28 304.8 128.36 304.63 C132.44 304.46 138.56 303.9 140.6 303.75" stroke="#8a8a8a" stroke-width="0.5" fill="none"/>
<path d="M79.4 305.65 C81.44 305.59 87.56 305.38 91.64 305.3 C95.72 305.22 99.8 305.09 103.88 305.18 C107.96 305.27 112.04 305.78 116.12 305.85 C120.2 305.91 124.28 305.54 128.36 305.59 C132.44 305.64 138.56 306.05 140.6 306.14" stroke="#111" stroke-width="0.7" fill="none"/>
<path d="M79.4 306.09 C81.44 306.11 87.56 306.26 91.64 306.21 C95.72 306.16 99.8 305.96 103.88 305.81 C107.96 305.66 112.04 305.24 116.12 305.31 C120.2 305.38 124.28 306.21 128.36 306.22 C132.44 306.24 138.56 305.54 140.6 305.4" stroke="#737373" stroke-width="0.45" fill="none"/>
<path d="M79.4 307.7 C81.44 307.54 87.56 306.92 91.64 306.73 C95.72 306.53 99.8 306.29 103.88 306.52 C107.96 306.75 112.04 308.12 116.12 308.08 C120.2 308.04 124.28 306.46 128.36 306.3 C132.44 306.13 138.56 306.96 140.6 307.09" stroke="#0a0a0a" stroke-width="0.7" fill="none"/>
<path d="M79.4 308.22 C81.44 308.15 87.56 307.7 91.64 307.77 C95.72 307.85 99.8 308.79 103.88 308.67 C107.96 308.55 112.04 307.29 116.12 307.05 C120.2 306.81 124.28 307.08 128.36 307.22 C132.44 307.36 138.56 307.77 140.6 307.88" stroke="#5a5a5a" stroke-width="0.4" fill="none"/>
<path d="M79.4 308.51 C81.44 308.57 87.56 309.05 91.64 308.86 C95.72 308.67 99.8 307.7 103.88 307.37 C107.96 307.04 112.04 307.03 116.12 306.87 C120.2 306.7 124.28 306.35 128.36 306.37 C132.44 306.39 138.56 306.87 140.6 306.97" stroke="#050505" stroke-width="0.9" fill="none"/>
<path d="M79.4 309.64 C81.44 309.67 87.56 309.77 91.64 309.78 C95.72 309.79 99.8 309.69 103.88 309.71 C107.96 309.72 112.04 309.83 116.12 309.89 C120.2 309.95 124.28 310.21 128.36 310.07 C132.44 309.92 138.56 309.2 140.6 309.03" stroke="#8a8a8a" stroke-width="0.5" fill="none"/>
<path d="M79.4 310.58 C81.44 310.53 87.56 310.48 91.64 310.3 C95.72 310.11 99.8 309.7 103.88 309.47 C107.96 309.24 112.04 308.88 116.12 308.9 C120.2 308.92 124.28 309.51 128.36 309.59 C132.44 309.68 138.56 309.45 140.6 309.42" stroke="#111" stroke-width="0.7" fill="none"/>
<path d="M79.4 311.44 C81.44 311.33 87.56 310.88 91.64 310.75 C95.72 310.62 99.8 310.59 103.88 310.65 C107.96 310.71 112.04 311.14 116.12 311.11 C120.2 311.09 124.28 310.67 128.36 310.52 C132.44 310.37 138.56 310.28 140.6 310.24" stroke="#737373" stroke-width="0.45" fill="none"/>
<path d="M79.4 312.35 C81.44 312.32 87.56 312.05 91.64 312.15 C95.72 312.26 99.8 312.79 103.88 312.96 C107.96 313.14 112.04 313.44 116.12 313.2 C120.2 312.97 124.28 311.71 128.36 311.58 C132.44 311.45 138.56 312.28 140.6 312.42" stroke="#0a0a0a" stroke-width="0.7" fill="none"/>
<path d="M79.4 313.35 C81.44 313.23 87.56 312.62 91.64 312.61 C95.72 312.59 99.8 313.09 103.88 313.25 C107.96 313.42 112.04 313.44 116.12 313.6 C120.2 313.75 124.28 314.2 128.36 314.16 C132.44 314.12 138.56 313.48 140.6 313.34" stroke="#5a5a5a" stroke-width="0.4" fill="none"/>
<path d="M79.4 313.4 C81.44 313.52 87.56 314.01 91.64 314.09 C95.72 314.17 99.8 313.86 103.88 313.86 C107.96 313.85 112.04 314.22 116.12 314.08 C120.2 313.95 124.28 313.22 128.36 313.05 C132.44 312.88 138.56 313.05 140.6 313.05" stroke="#050505" stroke-width="0.9" fill="none"/>
<path d="M79.4 314.61 C81.44 314.65 87.56 314.8 91.64 314.83 C95.72 314.85 99.8 314.89 103.88 314.79 C107.96 314.68 112.04 314.31 116.12 314.2 C120.2 314.09 124.28 314.25 128.36 314.13 C132.44 314 138.56 313.57 140.6 313.46" stroke="#8a8a8a" stroke-width="0.5" fill="none"/>
<path d="M79.4 315.15 C81.44 315.32 87.56 316 91.64 316.19 C95.72 316.37 99.8 316.38 103.88 316.26 C107.96 316.14 112.04 315.49 116.12 315.45 C120.2 315.42 124.28 316.02 128.36 316.04 C132.44 316.05 138.56 315.62 140.6 315.53" stroke="#111" stroke-width="0.7" fill="none"/>
<path d="M79.4 316.08 C81.44 316.21 87.56 316.89 91.64 316.87 C95.72 316.85 99.8 316.17 103.88 315.94 C107.96 315.71 112.04 315.43 116.12 315.49 C120.2 315.54 124.28 316.12 128.36 316.28 C132.44 316.45 138.56 316.45 140.6 316.48" stroke="#737373" stroke-width="0.45" fill="none"/>
<path d="M79.4 317.25 C81.44 317.25 87.56 317.4 91.64 317.25 C95.72 317.09 99.8 316.23 103.88 316.35 C107.96 316.46 112.04 317.91 116.12 317.93 C120.2 317.94 124.28 316.55 128.36 316.45 C132.44 316.36 138.56 317.19 140.6 317.34" stroke="#0a0a0a" stroke-width="0.7" fill="none"/>
<path d="M79.4 318.19 C81.44 318.1 87.56 317.61 91.64 317.62 C95.72 317.64 99.8 318.43 103.88 318.28 C107.96 318.14 112.04 317.04 116.12 316.74 C120.2 316.45 124.28 316.48 128.36 316.52 C132.44 316.56 138.56 316.9 140.6 316.98" stroke="#5a5a5a" stroke-width="0.4" fill="none"/>
<path d="M79.4 318.46 C81.44 318.58 87.56 319.08 91.64 319.14 C95.72 319.2 99.8 318.8 103.88 318.84 C107.96 318.87 112.04 319.42 116.12 319.35 C120.2 319.28 124.28 318.59 128.36 318.44 C132.44 318.29 138.56 318.45 140.6 318.46" stroke="#050505" stroke-width="0.9" fill="none"/>
<path d="M79.4 319.8 C81.44 319.66 87.56 319.05 91.64 318.96 C95.72 318.87 99.8 319.36 103.88 319.29 C107.96 319.22 112.04 318.56 116.12 318.53 C120.2 318.51 124.28 319.15 128.36 319.13 C132.44 319.1 138.56 318.51 140.6 318.39" stroke="#8a8a8a" stroke-width="0.5" fill="none"/>
<path d="M79.4 320.44 C81.44 320.54 87.56 321.05 91.64 321.04 C95.72 321.03 99.8 320.59 103.88 320.38 C107.96 320.17 112.04 319.89 116.12 319.8 C120.2 319.71 124.28 319.81 128.36 319.84 C132.44 319.88 138.56 319.97 140.6 319.99" stroke="#111" stroke-width="0.7" fill="none"/>
<path d="M79.4 321.45 C81.44 321.36 87.56 320.8 91.64 320.94 C95.72 321.08 99.8 322.02 103.88 322.3 C107.96 322.58 112.04 322.7 116.12 322.61 C120.2 322.53 124.28 321.93 128.36 321.8 C132.44 321.67 138.56 321.83 140.6 321.83" stroke="#737373" stroke-width="0.45" fill="none"/>
<path d="M79.4 322.22 C81.44 322.19 87.56 322.14 91.64 322.06 C95.72 321.98 99.8 321.82 103.88 321.76 C107.96 321.71 112.04 321.97 116.12 321.74 C120.2 321.5 124.28 320.46 128.36 320.35 C132.44 320.24 138.56 320.94 140.6 321.06" stroke="#0a0a0a" stroke-width="0.7" fill="none"/>
<path d="M79.4 323.28 C81.44 323.23 87.56 322.92 91.64 322.99 C95.72 323.06 99.8 323.67 103.88 323.7 C107.96 323.72 112.04 323.26 116.12 323.13 C120.2 322.99 124.28 322.94 128.36 322.89 C132.44 322.84 138.56 322.83 140.6 322.82" stroke="#5a5a5a" stroke-width="0.4" fill="none"/>
<path d="M79.4 323.55 C81.44 323.52 87.56 323.46 91.64 323.34 C95.72 323.21 99.8 322.76 103.88 322.8 C107.96 322.84 112.04 323.52 116.12 323.59 C120.2 323.67 124.28 323.48 128.36 323.24 C132.44 322.99 138.56 322.29 140.6 322.1" stroke="#050505" stroke-width="0.9" fill="none"/>
<path d="M79.4 324.21 C81.44 324.06 87.56 323.41 91.64 323.35 C95.72 323.29 99.8 323.66 103.88 323.85 C107.96 324.04 112.04 324.38 116.12 324.5 C120.2 324.62 124.28 324.7 128.36 324.56 C132.44 324.42 138.56 323.8 140.6 323.65" stroke="#8a8a8a" stroke-width="0.5" fill="none"/>
<path d="M79.4 325.26 C81.44 325.13 87.56 324.49 91.64 324.46 C95.72 324.44 99.8 324.95 103.88 325.14 C107.96 325.32 112.04 325.79 116.12 325.57 C120.2 325.35 124.28 324 128.36 323.8 C132.44 323.6 138.56 324.27 140.6 324.36" stroke="#111" stroke-width="0.7" fill="none"/>
<path d="M79.4 326.35 C81.44 326.19 87.56 325.62 91.64 325.42 C95.72 325.23 99.8 325.12 103.88 325.18 C107.96 325.24 112.04 325.86 116.12 325.79 C120.2 325.72 124.28 324.92 128.36 324.75 C132.44 324.58 138.56 324.79 140.6 324.8" stroke="#737373" stroke-width="0.45" fill="none"/>
<path d="M79.4 327 C81.44 326.86 87.56 326.1 91.64 326.16 C95.72 326.22 99.8 327.37 103.88 327.36 C107.96 327.35 112.04 326.19 116.12 326.1 C120.2 326.01 124.28 326.72 128.36 326.83 C132.44 326.94 138.56 326.77 140.6 326.76" stroke="#0a0a0a" stroke-width="0.7" fill="none"/>
<path d="M79.4 327.66 C81.44 327.63 87.56 327.58 91.64 327.48 C95.72 327.38 99.8 327.19 103.88 327.06 C107.96 326.93 112.04 326.79 116.12 326.71 C120.2 326.62 124.28 326.59 128.36 326.55 C132.44 326.51 138.56 326.5 140.6 326.49" stroke="#5a5a5a" stroke-width="0.4" fill="none"/>
<path d="M79.4 328.37 C81.44 328.23 87.56 327.57 91.64 327.53 C95.72 327.49 99.8 328.08 103.88 328.14 C107.96 328.2 112.04 328.02 116.12 327.9 C120.2 327.78 124.28 327.56 128.36 327.43 C132.44 327.3 138.56 327.18 140.6 327.12" stroke="#050505" stroke-width="0.9" fill="none"/>
<path d="M79.4 329.62 C81.44 329.73 87.56 330.39 91.64 330.28 C95.72 330.18 99.8 329.04 103.88 328.98 C107.96 328.93 112.04 329.77 116.12 329.95 C120.2 330.13 124.28 330.14 128.36 330.04 C132.44 329.94 138.56 329.48 140.6 329.37" stroke="#8a8a8a" stroke-width="0.5" fill="none"/>
<path d="M79.4 330.55 C81.44 330.46 87.56 329.92 91.64 330 C95.72 330.08 99.8 331.13 103.88 331.04 C107.96 330.94 112.04 329.48 116.12 329.45 C120.2 329.41 124.28 330.79 128.36 330.83 C132.44 330.86 138.56 329.84 140.6 329.65" stroke="#111" stroke-width="0.7" fill="none"/>
<path d="M79.4 331.38 C81.44 331.25 87.56 330.61 91.64 330.6 C95.72 330.59 99.8 331.39 103.88 331.31 C107.96 331.23 112.04 330.42 116.12 330.12 C120.2 329.82 124.28 329.54 128.36 329.53 C132.44 329.53 138.56 329.99 140.6 330.08" stroke="#737373" stroke-width="0.45" fill="none"/>
<path d="M79.4 332.33 C81.44 332.4 87.56 332.94 91.64 332.77 C95.72 332.6 99.8 331.49 103.88 331.31 C107.96 331.14 112.04 331.59 116.12 331.73 C120.2 331.87 124.28 332.17 128.36 332.16 C132.44 332.15 138.56 331.74 140.6 331.66" stroke="#0a0a0a" stroke-width="0.7" fill="none"/>
<path d="M79.4 332.42 C81.44 332.44 87.56 332.49 91.64 332.55 C95.72 332.61 99.8 332.76 103.88 332.78 C107.96 332.8 112.04 333 116.12 332.66 C120.2 332.32 124.28 330.96 128.36 330.72 C132.44 330.49 138.56 331.17 140.6 331.26" stroke="#5a5a5a" stroke-width="0.4" fill="none"/>
</g>
<path d="M137.2 271.43 L82.8 271.43 L82.8 271.43 Q78 273.9 82.8 276.38 L82.8 276.38 Q78 278.85 82.8 281.33 L82.8 281.32 Q78 283.8 82.8 286.28 L82.8 286.27 Q78 288.75 82.8 291.23 L82.8 291.22 Q78 293.7 82.8 296.18 L82.8 296.18 Q78 298.65 82.8 301.13 L82.8 301.12 Q78 303.6 82.8 306.08 L82.8 306.07 Q78 308.55 82.8 311.03 L82.8 311.02 Q78 313.5 82.8 315.98 L82.8 315.97 Q78 318.45 82.8 320.93 L82.8 320.93 Q78 323.4 82.8 325.88 L82.8 325.88 Q78 328.35 82.8 330.83 L137.2 333.3 L137.2 333.3 Q142 330.83 137.2 328.35 L137.2 328.35 Q142 325.88 137.2 323.4 L137.2 323.4 Q142 320.93 137.2 318.45 L137.2 318.45 Q142 315.97 137.2 313.5 L137.2 313.5 Q142 311.02 137.2 308.55 L137.2 308.55 Q142 306.07 137.2 303.6 L137.2 303.6 Q142 301.12 137.2 298.65 L137.2 298.65 Q142 296.18 137.2 293.7 L137.2 293.7 Q142 291.22 137.2 288.75 L137.2 288.75 Q142 286.27 137.2 283.8 L137.2 283.8 Q142 281.32 137.2 278.85 L137.2 278.85 Q142 276.38 137.2 273.9 L137.2 273.9 Q142 271.43 137.2 268.95 Z" fill="none" stroke="#000" stroke-width="1.4"/>
</g>
<clipPath id="th3"><rect x="85.3" y="309.9" width="48.8" height="22.7"/></clipPath>
<g clip-path="url(#th3)">
<rect x="85.3" y="309.9" width="48.8" height="22.7" fill="#2a2a2a"/>
<path d="M84.3 306.7 C86.42 306.75 92.77 307.13 97 307 C101.23 306.86 105.47 306.14 109.7 305.91 C113.93 305.68 118.17 305.5 122.4 305.61 C126.63 305.71 132.98 306.39 135.1 306.55" stroke="#050505" stroke-width="0.9" fill="none"/>
<path d="M84.3 307.53 C86.42 307.59 92.77 307.92 97 307.9 C101.23 307.88 105.47 307.57 109.7 307.41 C113.93 307.26 118.17 307.13 122.4 306.98 C126.63 306.84 132.98 306.61 135.1 306.53" stroke="#808080" stroke-width="0.5" fill="none"/>
<path d="M84.3 308.49 C86.42 308.37 92.77 307.78 97 307.75 C101.23 307.72 105.47 308.31 109.7 308.3 C113.93 308.29 118.17 307.7 122.4 307.71 C126.63 307.72 132.98 308.24 135.1 308.35" stroke="#111" stroke-width="0.7" fill="none"/>
<path d="M84.3 309.54 C86.42 309.59 92.77 310.08 97 309.81 C101.23 309.55 105.47 308.12 109.7 307.96 C113.93 307.79 118.17 308.8 122.4 308.81 C126.63 308.83 132.98 308.2 135.1 308.07" stroke="#6a6a6a" stroke-width="0.45" fill="none"/>
<path d="M84.3 310 C86.42 310.08 92.77 310.72 97 310.5 C101.23 310.28 105.47 309 109.7 308.68 C113.93 308.36 118.17 308.48 122.4 308.59 C126.63 308.69 132.98 309.17 135.1 309.29" stroke="#0a0a0a" stroke-width="0.7" fill="none"/>
<path d="M84.3 311.14 C86.42 310.98 92.77 310.08 97 310.2 C101.23 310.32 105.47 311.63 109.7 311.87 C113.93 312.12 118.17 311.88 122.4 311.67 C126.63 311.47 132.98 310.83 135.1 310.66" stroke="#555" stroke-width="0.4" fill="none"/>
<path d="M84.3 310.95 C86.42 310.8 92.77 310.17 97 310.05 C101.23 309.94 105.47 310.14 109.7 310.24 C113.93 310.35 118.17 310.69 122.4 310.69 C126.63 310.7 132.98 310.35 135.1 310.28" stroke="#050505" stroke-width="0.9" fill="none"/>
<path d="M84.3 311.9 C86.42 311.75 92.77 311.1 97 310.99 C101.23 310.87 105.47 310.96 109.7 311.21 C113.93 311.46 118.17 312.38 122.4 312.48 C126.63 312.59 132.98 311.94 135.1 311.83" stroke="#808080" stroke-width="0.5" fill="none"/>
<path d="M84.3 312.91 C86.42 312.91 92.77 312.99 97 312.93 C101.23 312.87 105.47 312.65 109.7 312.52 C113.93 312.39 118.17 312.22 122.4 312.17 C126.63 312.12 132.98 312.22 135.1 312.23" stroke="#111" stroke-width="0.7" fill="none"/>
<path d="M84.3 313.38 C86.42 313.54 92.77 314.16 97 314.32 C101.23 314.48 105.47 314.44 109.7 314.33 C113.93 314.23 118.17 313.87 122.4 313.71 C126.63 313.55 132.98 313.44 135.1 313.38" stroke="#6a6a6a" stroke-width="0.45" fill="none"/>
<path d="M84.3 314.55 C86.42 314.58 92.77 314.74 97 314.73 C101.23 314.72 105.47 314.76 109.7 314.5 C113.93 314.24 118.17 313.3 122.4 313.18 C126.63 313.05 132.98 313.66 135.1 313.75" stroke="#0a0a0a" stroke-width="0.7" fill="none"/>
<path d="M84.3 315.14 C86.42 315.11 92.77 314.92 97 314.96 C101.23 315 105.47 315.43 109.7 315.36 C113.93 315.29 118.17 314.71 122.4 314.54 C126.63 314.37 132.98 314.37 135.1 314.34" stroke="#555" stroke-width="0.4" fill="none"/>
<path d="M84.3 315.42 C86.42 315.41 92.77 315.31 97 315.34 C101.23 315.36 105.47 315.62 109.7 315.57 C113.93 315.52 118.17 315.01 122.4 315.03 C126.63 315.04 132.98 315.53 135.1 315.63" stroke="#050505" stroke-width="0.9" fill="none"/>
<path d="M84.3 316.65 C86.42 316.71 92.77 317.2 97 317.01 C101.23 316.81 105.47 315.62 109.7 315.48 C113.93 315.35 118.17 316.12 122.4 316.19 C126.63 316.26 132.98 315.95 135.1 315.91" stroke="#808080" stroke-width="0.5" fill="none"/>
<path d="M84.3 317.27 C86.42 317.11 92.77 316.41 97 316.33 C101.23 316.25 105.47 316.69 109.7 316.79 C113.93 316.88 118.17 316.84 122.4 316.91 C126.63 316.97 132.98 317.15 135.1 317.2" stroke="#111" stroke-width="0.7" fill="none"/>
<path d="M84.3 318.41 C86.42 318.33 92.77 318.18 97 317.96 C101.23 317.73 105.47 317.27 109.7 317.08 C113.93 316.9 118.17 316.88 122.4 316.86 C126.63 316.83 132.98 316.91 135.1 316.92" stroke="#6a6a6a" stroke-width="0.45" fill="none"/>
<path d="M84.3 319.19 C86.42 319.2 92.77 319.08 97 319.28 C101.23 319.47 105.47 320.42 109.7 320.35 C113.93 320.29 118.17 319.01 122.4 318.91 C126.63 318.8 132.98 319.57 135.1 319.7" stroke="#0a0a0a" stroke-width="0.7" fill="none"/>
<path d="M84.3 320.23 C86.42 320.09 92.77 319.39 97 319.41 C101.23 319.42 105.47 320.15 109.7 320.33 C113.93 320.5 118.17 320.6 122.4 320.45 C126.63 320.3 132.98 319.6 135.1 319.43" stroke="#555" stroke-width="0.4" fill="none"/>
<path d="M84.3 319.95 C86.42 320 92.77 320.37 97 320.24 C101.23 320.1 105.47 319.39 109.7 319.13 C113.93 318.87 118.17 318.7 122.4 318.67 C126.63 318.64 132.98 318.89 135.1 318.94" stroke="#050505" stroke-width="0.9" fill="none"/>
<path d="M84.3 320.86 C86.42 320.83 92.77 320.68 97 320.72 C101.23 320.75 105.47 321.07 109.7 321.07 C113.93 321.07 118.17 321.01 122.4 320.72 C126.63 320.43 132.98 319.57 135.1 319.34" stroke="#808080" stroke-width="0.5" fill="none"/>
<path d="M84.3 322.07 C86.42 321.95 92.77 321.36 97 321.33 C101.23 321.29 105.47 321.83 109.7 321.87 C113.93 321.91 118.17 321.8 122.4 321.57 C126.63 321.35 132.98 320.7 135.1 320.52" stroke="#111" stroke-width="0.7" fill="none"/>
<path d="M84.3 322.95 C86.42 322.91 92.77 322.83 97 322.73 C101.23 322.63 105.47 322.42 109.7 322.36 C113.93 322.3 118.17 322.47 122.4 322.38 C126.63 322.3 132.98 321.94 135.1 321.86" stroke="#6a6a6a" stroke-width="0.45" fill="none"/>
<path d="M84.3 323.56 C86.42 323.71 92.77 324.54 97 324.47 C101.23 324.39 105.47 323.28 109.7 323.12 C113.93 322.96 118.17 323.35 122.4 323.5 C126.63 323.65 132.98 323.95 135.1 324.04" stroke="#0a0a0a" stroke-width="0.7" fill="none"/>
<path d="M84.3 324.73 C86.42 324.83 92.77 325.44 97 325.37 C101.23 325.29 105.47 324.43 109.7 324.26 C113.93 324.1 118.17 324.47 122.4 324.38 C126.63 324.29 132.98 323.85 135.1 323.74" stroke="#555" stroke-width="0.4" fill="none"/>
<path d="M84.3 325.05 C86.42 324.93 92.77 324.51 97 324.33 C101.23 324.16 105.47 323.95 109.7 323.99 C113.93 324.03 118.17 324.58 122.4 324.57 C126.63 324.55 132.98 324.02 135.1 323.92" stroke="#050505" stroke-width="0.9" fill="none"/>
<path d="M84.3 325.95 C86.42 326.02 92.77 326.53 97 326.39 C101.23 326.25 105.47 325.46 109.7 325.13 C113.93 324.81 118.17 324.53 122.4 324.45 C126.63 324.36 132.98 324.6 135.1 324.64" stroke="#808080" stroke-width="0.5" fill="none"/>
<path d="M84.3 326.56 C86.42 326.6 92.77 326.73 97 326.81 C101.23 326.9 105.47 326.92 109.7 327.08 C113.93 327.25 118.17 327.81 122.4 327.81 C126.63 327.82 132.98 327.23 135.1 327.11" stroke="#111" stroke-width="0.7" fill="none"/>
<path d="M84.3 327.75 C86.42 327.72 92.77 327.57 97 327.6 C101.23 327.64 105.47 327.79 109.7 327.96 C113.93 328.13 118.17 328.63 122.4 328.61 C126.63 328.58 132.98 327.95 135.1 327.82" stroke="#6a6a6a" stroke-width="0.45" fill="none"/>
<path d="M84.3 328.52 C86.42 328.45 92.77 328.2 97 328.13 C101.23 328.06 105.47 327.99 109.7 328.09 C113.93 328.2 118.17 328.73 122.4 328.75 C126.63 328.76 132.98 328.29 135.1 328.19" stroke="#0a0a0a" stroke-width="0.7" fill="none"/>
<path d="M84.3 329.02 C86.42 329.02 92.77 329.04 97 329.05 C101.23 329.05 105.47 329.15 109.7 329.05 C113.93 328.94 118.17 328.71 122.4 328.44 C126.63 328.18 132.98 327.62 135.1 327.46" stroke="#555" stroke-width="0.4" fill="none"/>
<path d="M84.3 329.74 C86.42 329.77 92.77 329.78 97 329.91 C101.23 330.04 105.47 330.54 109.7 330.52 C113.93 330.5 118.17 329.86 122.4 329.8 C126.63 329.74 132.98 330.09 135.1 330.14" stroke="#050505" stroke-width="0.9" fill="none"/>
<path d="M84.3 330.01 C86.42 329.91 92.77 329.35 97 329.43 C101.23 329.5 105.47 330.41 109.7 330.47 C113.93 330.52 118.17 329.98 122.4 329.77 C126.63 329.56 132.98 329.28 135.1 329.19" stroke="#808080" stroke-width="0.5" fill="none"/>
<path d="M84.3 331.18 C86.42 331.05 92.77 330.38 97 330.37 C101.23 330.36 105.47 330.96 109.7 331.13 C113.93 331.31 118.17 331.44 122.4 331.41 C126.63 331.38 132.98 331.03 135.1 330.95" stroke="#111" stroke-width="0.7" fill="none"/>
<path d="M84.3 331.83 C86.42 331.76 92.77 331.53 97 331.38 C101.23 331.24 105.47 330.95 109.7 330.95 C113.93 330.96 118.17 331.44 122.4 331.41 C126.63 331.38 132.98 330.88 135.1 330.77" stroke="#6a6a6a" stroke-width="0.45" fill="none"/>
<path d="M84.3 332.54 C86.42 332.42 92.77 331.87 97 331.82 C101.23 331.76 105.47 332.2 109.7 332.23 C113.93 332.26 118.17 332.19 122.4 332.01 C126.63 331.83 132.98 331.28 135.1 331.14" stroke="#0a0a0a" stroke-width="0.7" fill="none"/>
<path d="M84.3 333.64 C86.42 333.61 92.77 333.6 97 333.48 C101.23 333.36 105.47 332.84 109.7 332.92 C113.93 333 118.17 333.76 122.4 333.95 C126.63 334.15 132.98 334.07 135.1 334.09" stroke="#555" stroke-width="0.4" fill="none"/>
<path d="M84.3 333.92 C86.42 333.92 92.77 334.1 97 333.95 C101.23 333.8 105.47 333.24 109.7 333 C113.93 332.75 118.17 332.54 122.4 332.49 C126.63 332.44 132.98 332.67 135.1 332.71" stroke="#050505" stroke-width="0.9" fill="none"/>
<path d="M84.3 334.73 C86.42 334.59 92.77 333.87 97 333.87 C101.23 333.86 105.47 334.56 109.7 334.69 C113.93 334.82 118.17 334.56 122.4 334.65 C126.63 334.73 132.98 335.12 135.1 335.21" stroke="#808080" stroke-width="0.5" fill="none"/>
<path d="M84.3 335.45 C86.42 335.33 92.77 334.64 97 334.73 C101.23 334.81 105.47 335.92 109.7 335.96 C113.93 336 118.17 335.16 122.4 334.96 C126.63 334.77 132.98 334.83 135.1 334.8" stroke="#111" stroke-width="0.7" fill="none"/>
<path d="M84.3 336.62 C86.42 336.55 92.77 336.3 97 336.24 C101.23 336.17 105.47 336.19 109.7 336.21 C113.93 336.23 118.17 336.51 122.4 336.37 C126.63 336.23 132.98 335.54 135.1 335.37" stroke="#6a6a6a" stroke-width="0.45" fill="none"/>
<path d="M84.3 337.17 C86.42 337.26 92.77 337.67 97 337.73 C101.23 337.79 105.47 337.79 109.7 337.54 C113.93 337.28 118.17 336.34 122.4 336.18 C126.63 336.02 132.98 336.51 135.1 336.58" stroke="#0a0a0a" stroke-width="0.7" fill="none"/>
<path d="M84.3 338.08 C86.42 338.05 92.77 337.82 97 337.89 C101.23 337.95 105.47 338.37 109.7 338.46 C113.93 338.56 118.17 338.51 122.4 338.46 C126.63 338.41 132.98 338.2 135.1 338.15" stroke="#555" stroke-width="0.4" fill="none"/>
<path d="M84.3 338.88 C86.42 338.92 92.77 339.23 97 339.15 C101.23 339.06 105.47 338.4 109.7 338.39 C113.93 338.38 118.17 339.04 122.4 339.06 C126.63 339.08 132.98 338.59 135.1 338.5" stroke="#050505" stroke-width="0.9" fill="none"/>
<path d="M84.3 339.27 C86.42 339.2 92.77 338.97 97 338.86 C101.23 338.76 105.47 338.75 109.7 338.63 C113.93 338.52 118.17 338.14 122.4 338.16 C126.63 338.19 132.98 338.67 135.1 338.77" stroke="#808080" stroke-width="0.5" fill="none"/>
<path d="M84.3 340.01 C86.42 339.91 92.77 339.6 97 339.41 C101.23 339.23 105.47 338.75 109.7 338.9 C113.93 339.05 118.17 340.2 122.4 340.31 C126.63 340.43 132.98 339.72 135.1 339.61" stroke="#111" stroke-width="0.7" fill="none"/>
<path d="M84.3 340.83 C86.42 340.88 92.77 341.14 97 341.14 C101.23 341.14 105.47 340.71 109.7 340.84 C113.93 340.97 118.17 341.84 122.4 341.92 C126.63 341.99 132.98 341.39 135.1 341.29" stroke="#6a6a6a" stroke-width="0.45" fill="none"/>
<path d="M84.3 342.22 C86.42 342.06 92.77 341.28 97 341.25 C101.23 341.23 105.47 341.9 109.7 342.06 C113.93 342.22 118.17 342.36 122.4 342.24 C126.63 342.12 132.98 341.48 135.1 341.33" stroke="#0a0a0a" stroke-width="0.7" fill="none"/>
<path d="M84.3 342.67 C86.42 342.65 92.77 342.48 97 342.53 C101.23 342.58 105.47 343.01 109.7 342.97 C113.93 342.93 118.17 342.32 122.4 342.3 C126.63 342.27 132.98 342.72 135.1 342.8" stroke="#555" stroke-width="0.4" fill="none"/>
</g>
<rect x="85.3" y="309.9" width="48.8" height="22.7" fill="none" stroke="#000" stroke-width="1.1"/>
<line x1="81.4" y1="235.3" x2="138.6" y2="235.3" stroke="#000" stroke-width="1.2"/>
<rect x="86.1" y="328.4" width="4.9" height="3" fill="#fff"/>
<rect x="89.6" y="215.9" width="40" height="19.4" stroke="#000" stroke-width="1.5" fill="#fff"/>
<rect x="66.8" y="261.4" width="85.3" height="17.6" stroke="#000" stroke-width="1.5" fill="#fff"/>
<line x1="88.2" y1="261.4" x2="88.2" y2="279" stroke="#000" stroke-width="1.5"/>
<line x1="130.4" y1="261.4" x2="130.4" y2="279" stroke="#000" stroke-width="1.5"/>
<rect x="85.5" y="334.3" width="48.4" height="9.9" stroke="#000" stroke-width="1.2" fill="#fff"/>
<line x1="99.3" y1="334.3" x2="99.3" y2="344.2" stroke="#000" stroke-width="1.2"/>
<line x1="120.5" y1="334.3" x2="120.5" y2="344.2" stroke="#000" stroke-width="1.2"/>
<path d="M92.4 344.2 L96 359.2 L123.6 359.2 L127.3 344.2" stroke="#000" stroke-width="1.2" fill="#fff"/>
<rect x="96" y="359.2" width="27.6" height="49.1" stroke="#000" stroke-width="1.3" fill="#fff"/>
<line x1="89.6" y1="194.9" x2="101.7" y2="194.9" stroke="#555" stroke-width="0.9"/>
<line x1="118.7" y1="194.9" x2="129.6" y2="194.9" stroke="#555" stroke-width="0.9"/>
<path d="M89.6 194.9 L96.1 193.3 L96.1 196.5 Z" fill="#000"/>
<path d="M129.6 194.9 L123.1 196.5 L123.1 193.3 Z" fill="#000"/>
<text x="110.2" y="194.9" font-family="Liberation Serif" font-size="13" font-weight="normal" text-anchor="middle" dominant-baseline="central" textLength="12" lengthAdjust="spacingAndGlyphs" fill="#000" stroke="#000" stroke-width="0.4">ø8</text>
<line x1="164.3" y1="215.9" x2="164.3" y2="241.75" stroke="#555" stroke-width="0.9"/>
<path d="M164.3 215.9 L165.9 222.4 L162.7 222.4 Z" fill="#000"/>
<path d="M164.3 235.4 L162.7 228.9 L165.9 228.9 Z" fill="#000"/>
<text x="164.3" y="247" font-family="Liberation Serif" font-size="12.5" font-weight="normal" text-anchor="middle" dominant-baseline="central" textLength="6.5" lengthAdjust="spacingAndGlyphs" transform="rotate(-90 164.3 247)" fill="#000" stroke="#000" stroke-width="0.45">4</text>
<line x1="180.7" y1="215.9" x2="180.7" y2="254.5" stroke="#555" stroke-width="0.9"/>
<line x1="180.7" y1="270.5" x2="180.7" y2="309.9" stroke="#555" stroke-width="0.9"/>
<path d="M180.7 215.9 L182.3 222.4 L179.1 222.4 Z" fill="#000"/>
<path d="M180.7 309.9 L179.1 303.4 L182.3 303.4 Z" fill="#000"/>
<text x="180.7" y="262.5" font-family="Liberation Serif" font-size="13" font-weight="normal" text-anchor="middle" dominant-baseline="central" textLength="12" lengthAdjust="spacingAndGlyphs" transform="rotate(-90 180.7 262.5)" fill="#000" stroke="#000" stroke-width="0.45">19</text>
<line x1="208" y1="215.9" x2="208" y2="266.7" stroke="#555" stroke-width="0.9"/>
<line x1="208" y1="282.7" x2="208" y2="334.3" stroke="#555" stroke-width="0.9"/>
<path d="M208 215.9 L209.6 222.4 L206.4 222.4 Z" fill="#000"/>
<path d="M208 334.3 L206.4 327.8 L209.6 327.8 Z" fill="#000"/>
<text x="208" y="274.7" font-family="Liberation Serif" font-size="13" font-weight="normal" text-anchor="middle" dominant-baseline="central" textLength="12" lengthAdjust="spacingAndGlyphs" transform="rotate(-90 208 274.7)" fill="#000" stroke="#000" stroke-width="0.45">24</text>
<line x1="235.2" y1="215.9" x2="235.2" y2="304" stroke="#555" stroke-width="0.9"/>
<line x1="235.2" y1="319.8" x2="235.2" y2="408.3" stroke="#555" stroke-width="0.9"/>
<path d="M235.2 215.9 L236.8 222.4 L233.6 222.4 Z" fill="#000"/>
<path d="M235.2 408.3 L233.6 401.8 L236.8 401.8 Z" fill="#000"/>
<text x="235.2" y="311.9" font-family="Liberation Sans" font-size="13" font-weight="normal" text-anchor="middle" dominant-baseline="central" textLength="11.8" lengthAdjust="spacingAndGlyphs" transform="rotate(-90 235.2 311.9)" fill="#000" stroke="#000" stroke-width="0.4">39</text>
<line x1="51.1" y1="246.9" x2="51.1" y2="261.4" stroke="#555" stroke-width="0.9"/>
<line x1="51.1" y1="279" x2="51.1" y2="293.5" stroke="#555" stroke-width="0.9"/>
<path d="M51.1 261.4 L49.5 254.9 L52.7 254.9 Z" fill="#000"/>
<path d="M51.1 279 L52.7 285.5 L49.5 285.5 Z" fill="#000"/>
<text x="51.1" y="236.8" font-family="Liberation Sans" font-size="12.5" font-weight="normal" text-anchor="middle" dominant-baseline="central" textLength="18.5" lengthAdjust="spacingAndGlyphs" transform="rotate(-90 51.1 236.8)" fill="#000" stroke="#000" stroke-width="0.4">3. 5</text>
<line x1="82.5" y1="428.8" x2="96" y2="428.8" stroke="#555" stroke-width="0.9"/>
<line x1="123.6" y1="428.8" x2="137.1" y2="428.8" stroke="#555" stroke-width="0.9"/>
<path d="M96 428.8 L89.5 430.4 L89.5 427.2 Z" fill="#000"/>
<path d="M123.6 428.8 L130.1 427.2 L130.1 430.4 Z" fill="#000"/>
<text x="109.6" y="428.8" font-family="Liberation Sans" font-size="12.5" font-weight="normal" text-anchor="middle" dominant-baseline="central" textLength="21.5" lengthAdjust="spacingAndGlyphs" fill="#000" stroke="#000" stroke-width="0.4">Ø5.6</text>
<line x1="85.5" y1="449" x2="100.65" y2="449" stroke="#555" stroke-width="0.9"/>
<line x1="118.15" y1="449" x2="133.9" y2="449" stroke="#555" stroke-width="0.9"/>
<path d="M85.5 449 L92 447.4 L92 450.6 Z" fill="#000"/>
<path d="M133.9 449 L127.4 450.6 L127.4 447.4 Z" fill="#000"/>
<text x="109.4" y="449" font-family="Liberation Serif" font-size="12.5" font-weight="normal" text-anchor="middle" dominant-baseline="central" textLength="12.5" lengthAdjust="spacingAndGlyphs" fill="#000" stroke="#000" stroke-width="0.4">10</text>
<line x1="80.4" y1="471.8" x2="91.55" y2="471.8" stroke="#555" stroke-width="0.9"/>
<line x1="127.05" y1="471.8" x2="139.6" y2="471.8" stroke="#555" stroke-width="0.9"/>
<path d="M80.4 471.8 L86.9 470.2 L86.9 473.4 Z" fill="#000"/>
<path d="M139.6 471.8 L133.1 473.4 L133.1 470.2 Z" fill="#000"/>
<text x="109.3" y="471.8" font-family="Liberation Serif" font-size="12" font-weight="normal" text-anchor="middle" dominant-baseline="central" textLength="30.5" lengthAdjust="spacingAndGlyphs" fill="#000" stroke="#000" stroke-width="0.4">M12*1</text>
<line x1="346.9" y1="163.3" x2="346.9" y2="180" stroke="#555" stroke-width="0.9"/>
<line x1="398.8" y1="163.3" x2="398.8" y2="180" stroke="#555" stroke-width="0.9"/>
<line x1="399" y1="180.3" x2="503.5" y2="180.3" stroke="#555" stroke-width="0.9"/>
<line x1="410.5" y1="201.5" x2="441" y2="201.5" stroke="#555" stroke-width="0.9"/>
<line x1="411" y1="318.2" x2="456.6" y2="318.2" stroke="#555" stroke-width="0.9"/>
<line x1="404" y1="341.5" x2="476.5" y2="341.5" stroke="#555" stroke-width="0.9"/>
<line x1="387" y1="411.5" x2="503" y2="411.5" stroke="#555" stroke-width="0.9"/>
<line x1="306.3" y1="224.5" x2="321.2" y2="224.5" stroke="#555" stroke-width="0.9"/>
<line x1="306.3" y1="243.4" x2="321.2" y2="243.4" stroke="#555" stroke-width="0.9"/>
<line x1="360.3" y1="413" x2="360.3" y2="430" stroke="#555" stroke-width="0.9"/>
<line x1="386.5" y1="413" x2="386.5" y2="430" stroke="#555" stroke-width="0.9"/>
<line x1="349.1" y1="352" x2="349.1" y2="449" stroke="#555" stroke-width="0.9"/>
<line x1="396.6" y1="352" x2="396.6" y2="449" stroke="#555" stroke-width="0.9"/>
<line x1="342.3" y1="340" x2="342.3" y2="468" stroke="#555" stroke-width="0.9"/>
<line x1="403.6" y1="340" x2="403.6" y2="468" stroke="#555" stroke-width="0.9"/>
<line x1="335.6" y1="319" x2="335.6" y2="487.5" stroke="#555" stroke-width="0.9"/>
<line x1="410.5" y1="319" x2="410.5" y2="487.5" stroke="#555" stroke-width="0.9"/>
<clipPath id="th4b"><rect x="331.7" y="201.2" width="82.5" height="23.3"/></clipPath>
<g clip-path="url(#th4b)">
<clipPath id="th4"><path d="M407.8 192.95 L338.1 192.95 L338.1 192.95 Q333.3 195.3 338.1 197.65 L338.1 197.65 Q333.3 200 338.1 202.35 L338.1 202.35 Q333.3 204.7 338.1 207.05 L338.1 207.05 Q333.3 209.4 338.1 211.75 L338.1 211.75 Q333.3 214.1 338.1 216.45 L338.1 216.45 Q333.3 218.8 338.1 221.15 L338.1 221.15 Q333.3 223.5 338.1 225.85 L338.1 225.85 Q333.3 228.2 338.1 230.55 L338.1 230.55 Q333.3 232.9 338.1 235.25 L338.1 235.25 Q333.3 237.6 338.1 239.95 L407.8 242.3 L407.8 242.3 Q412.6 239.95 407.8 237.6 L407.8 237.6 Q412.6 235.25 407.8 232.9 L407.8 232.9 Q412.6 230.55 407.8 228.2 L407.8 228.2 Q412.6 225.85 407.8 223.5 L407.8 223.5 Q412.6 221.15 407.8 218.8 L407.8 218.8 Q412.6 216.45 407.8 214.1 L407.8 214.1 Q412.6 211.75 407.8 209.4 L407.8 209.4 Q412.6 207.05 407.8 204.7 L407.8 204.7 Q412.6 202.35 407.8 200 L407.8 200 Q412.6 197.65 407.8 195.3 L407.8 195.3 Q412.6 192.95 407.8 190.6 Z"/></clipPath>
<g clip-path="url(#th4)">
<path d="M407.8 192.95 L338.1 192.95 L338.1 192.95 Q333.3 195.3 338.1 197.65 L338.1 197.65 Q333.3 200 338.1 202.35 L338.1 202.35 Q333.3 204.7 338.1 207.05 L338.1 207.05 Q333.3 209.4 338.1 211.75 L338.1 211.75 Q333.3 214.1 338.1 216.45 L338.1 216.45 Q333.3 218.8 338.1 221.15 L338.1 221.15 Q333.3 223.5 338.1 225.85 L338.1 225.85 Q333.3 228.2 338.1 230.55 L338.1 230.55 Q333.3 232.9 338.1 235.25 L338.1 235.25 Q333.3 237.6 338.1 239.95 L407.8 242.3 L407.8 242.3 Q412.6 239.95 407.8 237.6 L407.8 237.6 Q412.6 235.25 407.8 232.9 L407.8 232.9 Q412.6 230.55 407.8 228.2 L407.8 228.2 Q412.6 225.85 407.8 223.5 L407.8 223.5 Q412.6 221.15 407.8 218.8 L407.8 218.8 Q412.6 216.45 407.8 214.1 L407.8 214.1 Q412.6 211.75 407.8 209.4 L407.8 209.4 Q412.6 207.05 407.8 204.7 L407.8 204.7 Q412.6 202.35 407.8 200 L407.8 200 Q412.6 197.65 407.8 195.3 L407.8 195.3 Q412.6 192.95 407.8 190.6 Z" fill="#2c2c2c"/>
<path d="M334.7 195.62 C336.82 195.71 343.2 196.01 347.45 196.14 C351.7 196.27 355.95 196.58 360.2 196.4 C364.45 196.23 368.7 195.19 372.95 195.1 C377.2 195 381.45 195.63 385.7 195.84 C389.95 196.05 394.2 196.41 398.45 196.36 C402.7 196.31 409.07 195.67 411.2 195.53" stroke="#050505" stroke-width="0.9" fill="none"/>
<path d="M334.7 196.54 C336.82 196.42 343.2 195.87 347.45 195.82 C351.7 195.77 355.95 195.99 360.2 196.25 C364.45 196.5 368.7 197.48 372.95 197.36 C377.2 197.23 381.45 195.76 385.7 195.52 C389.95 195.27 394.2 195.78 398.45 195.89 C402.7 196.01 409.07 196.15 411.2 196.2" stroke="#8a8a8a" stroke-width="0.5" fill="none"/>
<path d="M334.7 197.45 C336.82 197.33 343.2 196.86 347.45 196.76 C351.7 196.67 355.95 196.68 360.2 196.88 C364.45 197.08 368.7 197.99 372.95 197.96 C377.2 197.93 381.45 196.9 385.7 196.71 C389.95 196.52 394.2 196.77 398.45 196.79 C402.7 196.81 409.07 196.83 411.2 196.83" stroke="#111" stroke-width="0.7" fill="none"/>
<path d="M334.7 197.99 C336.82 197.99 343.2 198.13 347.45 198 C351.7 197.87 355.95 197.17 360.2 197.21 C364.45 197.24 368.7 198.23 372.95 198.22 C377.2 198.21 381.45 197.32 385.7 197.17 C389.95 197.02 394.2 197.16 398.45 197.32 C402.7 197.48 409.07 198.02 411.2 198.16" stroke="#737373" stroke-width="0.45" fill="none"/>
<path d="M334.7 198.58 C336.82 198.5 343.2 198.07 347.45 198.13 C351.7 198.19 355.95 198.98 360.2 198.93 C364.45 198.89 368.7 198.06 372.95 197.87 C377.2 197.67 381.45 197.81 385.7 197.76 C389.95 197.71 394.2 197.44 398.45 197.56 C402.7 197.69 409.07 198.35 411.2 198.5" stroke="#0a0a0a" stroke-width="0.7" fill="none"/>
<path d="M334.7 199.69 C336.82 199.61 343.2 199.25 347.45 199.18 C351.7 199.11 355.95 199.32 360.2 199.27 C364.45 199.21 368.7 198.71 372.95 198.87 C377.2 199.02 381.45 200.07 385.7 200.18 C389.95 200.29 394.2 199.57 398.45 199.54 C402.7 199.51 409.07 199.91 411.2 199.98" stroke="#5a5a5a" stroke-width="0.4" fill="none"/>
<path d="M334.7 199.71 C336.82 199.74 343.2 199.91 347.45 199.88 C351.7 199.85 355.95 199.7 360.2 199.55 C364.45 199.39 368.7 198.87 372.95 198.93 C377.2 198.98 381.45 199.74 385.7 199.87 C389.95 199.99 394.2 199.73 398.45 199.67 C402.7 199.62 409.07 199.56 411.2 199.53" stroke="#050505" stroke-width="0.9" fill="none"/>
<path d="M334.7 200.89 C336.82 200.99 343.2 201.49 347.45 201.54 C351.7 201.59 355.95 201.35 360.2 201.2 C364.45 201.05 368.7 200.67 372.95 200.65 C377.2 200.62 381.45 201.16 385.7 201.05 C389.95 200.95 394.2 200.25 398.45 200.02 C402.7 199.78 409.07 199.71 411.2 199.65" stroke="#8a8a8a" stroke-width="0.5" fill="none"/>
<path d="M334.7 201.66 C336.82 201.66 343.2 201.72 347.45 201.65 C351.7 201.59 355.95 201.38 360.2 201.25 C364.45 201.12 368.7 200.78 372.95 200.86 C377.2 200.95 381.45 201.69 385.7 201.75 C389.95 201.81 394.2 201.46 398.45 201.22 C402.7 200.98 409.07 200.47 411.2 200.32" stroke="#111" stroke-width="0.7" fill="none"/>
<path d="M334.7 202.28 C336.82 202.12 343.2 201.27 347.45 201.34 C351.7 201.41 355.95 202.57 360.2 202.69 C364.45 202.82 368.7 202.03 372.95 202.08 C377.2 202.13 381.45 202.74 385.7 202.97 C389.95 203.2 394.2 203.53 398.45 203.47 C402.7 203.41 409.07 202.76 411.2 202.62" stroke="#737373" stroke-width="0.45" fill="none"/>
<path d="M334.7 203.55 C336.82 203.4 343.2 202.61 347.45 202.67 C351.7 202.73 355.95 203.88 360.2 203.91 C364.45 203.94 368.7 202.89 372.95 202.82 C377.2 202.76 381.45 203.44 385.7 203.51 C389.95 203.59 394.2 203.26 398.45 203.28 C402.7 203.3 409.07 203.57 411.2 203.63" stroke="#0a0a0a" stroke-width="0.7" fill="none"/>
<path d="M334.7 203.89 C336.82 203.75 343.2 203.16 347.45 203.08 C351.7 203 355.95 203.42 360.2 203.42 C364.45 203.42 368.7 202.94 372.95 203.08 C377.2 203.22 381.45 204.17 385.7 204.24 C389.95 204.32 394.2 203.58 398.45 203.53 C402.7 203.48 409.07 203.86 411.2 203.93" stroke="#5a5a5a" stroke-width="0.4" fill="none"/>
<path d="M334.7 204.34 C336.82 204.2 343.2 203.6 347.45 203.52 C351.7 203.43 355.95 203.99 360.2 203.84 C364.45 203.68 368.7 202.84 372.95 202.59 C377.2 202.34 381.45 202.22 385.7 202.36 C389.95 202.49 394.2 203.31 398.45 203.39 C402.7 203.46 409.07 202.89 411.2 202.8" stroke="#050505" stroke-width="0.9" fill="none"/>
<path d="M334.7 205.66 C336.82 205.56 343.2 205.27 347.45 205.07 C351.7 204.87 355.95 204.56 360.2 204.48 C364.45 204.39 368.7 204.55 372.95 204.56 C377.2 204.58 381.45 204.66 385.7 204.57 C389.95 204.48 394.2 204.05 398.45 204.01 C402.7 203.98 409.07 204.3 411.2 204.36" stroke="#8a8a8a" stroke-width="0.5" fill="none"/>
<path d="M334.7 206.24 C336.82 206.15 343.2 205.71 347.45 205.66 C351.7 205.62 355.95 205.85 360.2 205.99 C364.45 206.12 368.7 206.5 372.95 206.47 C377.2 206.44 381.45 206.01 385.7 205.81 C389.95 205.6 394.2 205.33 398.45 205.22 C402.7 205.11 409.07 205.16 411.2 205.14" stroke="#111" stroke-width="0.7" fill="none"/>
<path d="M334.7 206.89 C336.82 206.9 343.2 207.06 347.45 206.96 C351.7 206.86 355.95 206.3 360.2 206.3 C364.45 206.31 368.7 206.89 372.95 206.99 C377.2 207.09 381.45 207.16 385.7 206.92 C389.95 206.67 394.2 205.7 398.45 205.49 C402.7 205.29 409.07 205.67 411.2 205.7" stroke="#737373" stroke-width="0.45" fill="none"/>
<path d="M334.7 208.12 C336.82 208.15 343.2 208.5 347.45 208.31 C351.7 208.13 355.95 207.19 360.2 207 C364.45 206.81 368.7 206.99 372.95 207.2 C377.2 207.4 381.45 208.26 385.7 208.24 C389.95 208.22 394.2 207.26 398.45 207.08 C402.7 206.9 409.07 207.16 411.2 207.17" stroke="#0a0a0a" stroke-width="0.7" fill="none"/>
<path d="M334.7 209.31 C336.82 209.4 343.2 209.91 347.45 209.86 C351.7 209.81 355.95 209.27 360.2 208.99 C364.45 208.7 368.7 208.14 372.95 208.14 C377.2 208.14 381.45 208.98 385.7 208.98 C389.95 208.97 394.2 208.19 398.45 208.12 C402.7 208.05 409.07 208.5 411.2 208.58" stroke="#5a5a5a" stroke-width="0.4" fill="none"/>
<path d="M334.7 209.73 C336.82 209.74 343.2 209.65 347.45 209.78 C351.7 209.92 355.95 210.56 360.2 210.56 C364.45 210.56 368.7 209.79 372.95 209.8 C377.2 209.81 381.45 210.58 385.7 210.63 C389.95 210.68 394.2 210.27 398.45 210.12 C402.7 209.96 409.07 209.75 411.2 209.68" stroke="#050505" stroke-width="0.9" fill="none"/>
<path d="M334.7 210.08 C336.82 210.17 343.2 210.8 347.45 210.62 C351.7 210.43 355.95 208.97 360.2 208.97 C364.45 208.96 368.7 210.64 372.95 210.57 C377.2 210.5 381.45 208.66 385.7 208.53 C389.95 208.4 394.2 209.69 398.45 209.79 C402.7 209.89 409.07 209.24 411.2 209.13" stroke="#8a8a8a" stroke-width="0.5" fill="none"/>
<path d="M334.7 211.28 C336.82 211.29 343.2 211.38 347.45 211.37 C351.7 211.35 355.95 211.33 360.2 211.21 C364.45 211.09 368.7 210.79 372.95 210.65 C377.2 210.51 381.45 210.52 385.7 210.38 C389.95 210.23 394.2 209.76 398.45 209.79 C402.7 209.82 409.07 210.44 411.2 210.57" stroke="#111" stroke-width="0.7" fill="none"/>
<path d="M334.7 212.11 C336.82 212.08 343.2 211.78 347.45 211.92 C351.7 212.06 355.95 212.91 360.2 212.94 C364.45 212.96 368.7 212.25 372.95 212.07 C377.2 211.89 381.45 211.69 385.7 211.84 C389.95 212 394.2 212.89 398.45 212.99 C402.7 213.09 409.07 212.54 411.2 212.45" stroke="#737373" stroke-width="0.45" fill="none"/>
<path d="M334.7 213.27 C336.82 213.35 343.2 213.91 347.45 213.78 C351.7 213.64 355.95 212.55 360.2 212.44 C364.45 212.33 368.7 213.2 372.95 213.12 C377.2 213.03 381.45 211.93 385.7 211.92 C389.95 211.91 394.2 213.09 398.45 213.08 C402.7 213.07 409.07 212.07 411.2 211.87" stroke="#0a0a0a" stroke-width="0.7" fill="none"/>
<path d="M334.7 213.5 C336.82 213.32 343.2 212.6 347.45 212.41 C351.7 212.23 355.95 212.44 360.2 212.39 C364.45 212.34 368.7 211.94 372.95 212.11 C377.2 212.27 381.45 213.46 385.7 213.38 C389.95 213.29 394.2 211.76 398.45 211.59 C402.7 211.41 409.07 212.23 411.2 212.35" stroke="#5a5a5a" stroke-width="0.4" fill="none"/>
<path d="M334.7 213.79 C336.82 213.65 343.2 212.87 347.45 212.9 C351.7 212.93 355.95 214.09 360.2 213.99 C364.45 213.88 368.7 212.36 372.95 212.27 C377.2 212.18 381.45 213.39 385.7 213.44 C389.95 213.5 394.2 212.72 398.45 212.6 C402.7 212.48 409.07 212.7 411.2 212.72" stroke="#050505" stroke-width="0.9" fill="none"/>
<path d="M334.7 214.76 C336.82 214.74 343.2 214.77 347.45 214.63 C351.7 214.48 355.95 213.99 360.2 213.89 C364.45 213.78 368.7 214.01 372.95 213.99 C377.2 213.98 381.45 213.82 385.7 213.8 C389.95 213.79 394.2 213.94 398.45 213.92 C402.7 213.89 409.07 213.71 411.2 213.66" stroke="#8a8a8a" stroke-width="0.5" fill="none"/>
<path d="M334.7 216.05 C336.82 216.06 343.2 216.09 347.45 216.11 C351.7 216.12 355.95 216.31 360.2 216.16 C364.45 216 368.7 215.2 372.95 215.16 C377.2 215.12 381.45 216.06 385.7 215.94 C389.95 215.81 394.2 214.56 398.45 214.41 C402.7 214.27 409.07 214.97 411.2 215.09" stroke="#111" stroke-width="0.7" fill="none"/>
<path d="M334.7 216.68 C336.82 216.53 343.2 215.79 347.45 215.79 C351.7 215.8 355.95 216.53 360.2 216.72 C364.45 216.92 368.7 217.08 372.95 216.97 C377.2 216.87 381.45 216.31 385.7 216.1 C389.95 215.89 394.2 215.74 398.45 215.7 C402.7 215.66 409.07 215.83 411.2 215.86" stroke="#737373" stroke-width="0.45" fill="none"/>
<path d="M334.7 217.95 C336.82 218.01 343.2 218.25 347.45 218.3 C351.7 218.36 355.95 218.23 360.2 218.26 C364.45 218.3 368.7 218.44 372.95 218.52 C377.2 218.6 381.45 218.69 385.7 218.74 C389.95 218.79 394.2 218.83 398.45 218.8 C402.7 218.76 409.07 218.57 411.2 218.53" stroke="#0a0a0a" stroke-width="0.7" fill="none"/>
<path d="M334.7 218.36 C336.82 218.44 343.2 218.81 347.45 218.86 C351.7 218.91 355.95 218.74 360.2 218.67 C364.45 218.6 368.7 218.54 372.95 218.45 C377.2 218.36 381.45 218.24 385.7 218.14 C389.95 218.04 394.2 217.79 398.45 217.83 C402.7 217.88 409.07 218.32 411.2 218.42" stroke="#5a5a5a" stroke-width="0.4" fill="none"/>
<path d="M334.7 218.81 C336.82 218.77 343.2 218.75 347.45 218.59 C351.7 218.44 355.95 217.76 360.2 217.86 C364.45 217.95 368.7 219.22 372.95 219.16 C377.2 219.09 381.45 217.51 385.7 217.45 C389.95 217.39 394.2 218.72 398.45 218.79 C402.7 218.87 409.07 218.03 411.2 217.88" stroke="#050505" stroke-width="0.9" fill="none"/>
<path d="M334.7 219.79 C336.82 219.93 343.2 220.71 347.45 220.62 C351.7 220.54 355.95 219.45 360.2 219.27 C364.45 219.09 368.7 219.25 372.95 219.54 C377.2 219.84 381.45 220.9 385.7 221.06 C389.95 221.21 394.2 220.6 398.45 220.45 C402.7 220.31 409.07 220.24 411.2 220.2" stroke="#8a8a8a" stroke-width="0.5" fill="none"/>
<path d="M334.7 220.25 C336.82 220.09 343.2 219.4 347.45 219.28 C351.7 219.15 355.95 219.59 360.2 219.52 C364.45 219.46 368.7 219.04 372.95 218.9 C377.2 218.75 381.45 218.72 385.7 218.65 C389.95 218.59 394.2 218.4 398.45 218.49 C402.7 218.59 409.07 219.11 411.2 219.23" stroke="#111" stroke-width="0.7" fill="none"/>
<path d="M334.7 221.36 C336.82 221.36 343.2 221.32 347.45 221.37 C351.7 221.43 355.95 221.65 360.2 221.69 C364.45 221.74 368.7 221.84 372.95 221.65 C377.2 221.47 381.45 220.6 385.7 220.61 C389.95 220.63 394.2 221.63 398.45 221.75 C402.7 221.87 409.07 221.4 411.2 221.33" stroke="#737373" stroke-width="0.45" fill="none"/>
<path d="M334.7 222.33 C336.82 222.46 343.2 223.19 347.45 223.14 C351.7 223.08 355.95 222.14 360.2 222.01 C364.45 221.88 368.7 222.29 372.95 222.36 C377.2 222.43 381.45 222.53 385.7 222.43 C389.95 222.32 394.2 221.86 398.45 221.73 C402.7 221.6 409.07 221.66 411.2 221.65" stroke="#0a0a0a" stroke-width="0.7" fill="none"/>
<path d="M334.7 222.75 C336.82 222.65 343.2 222.3 347.45 222.13 C351.7 221.97 355.95 221.77 360.2 221.74 C364.45 221.71 368.7 222.07 372.95 221.96 C377.2 221.86 381.45 221.04 385.7 221.1 C389.95 221.16 394.2 222.23 398.45 222.31 C402.7 222.38 409.07 221.69 411.2 221.57" stroke="#5a5a5a" stroke-width="0.4" fill="none"/>
<path d="M334.7 223.71 C336.82 223.58 343.2 223.02 347.45 222.91 C351.7 222.81 355.95 222.83 360.2 223.08 C364.45 223.33 368.7 224.2 372.95 224.41 C377.2 224.62 381.45 224.4 385.7 224.33 C389.95 224.26 394.2 224.14 398.45 224 C402.7 223.87 409.07 223.6 411.2 223.52" stroke="#050505" stroke-width="0.9" fill="none"/>
<path d="M334.7 224.74 C336.82 224.63 343.2 224.21 347.45 224.12 C351.7 224.04 355.95 224.23 360.2 224.23 C364.45 224.22 368.7 224.2 372.95 224.11 C377.2 224.02 381.45 223.84 385.7 223.7 C389.95 223.56 394.2 223.29 398.45 223.27 C402.7 223.25 409.07 223.54 411.2 223.59" stroke="#8a8a8a" stroke-width="0.5" fill="none"/>
<path d="M334.7 225.54 C336.82 225.53 343.2 225.44 347.45 225.48 C351.7 225.52 355.95 225.97 360.2 225.77 C364.45 225.56 368.7 224.47 372.95 224.24 C377.2 224.01 381.45 224.4 385.7 224.41 C389.95 224.42 394.2 224.31 398.45 224.29 C402.7 224.28 409.07 224.33 411.2 224.34" stroke="#111" stroke-width="0.7" fill="none"/>
<path d="M334.7 225.91 C336.82 226.05 343.2 226.84 347.45 226.74 C351.7 226.64 355.95 225.56 360.2 225.31 C364.45 225.06 368.7 225.08 372.95 225.25 C377.2 225.43 381.45 226.21 385.7 226.38 C389.95 226.55 394.2 226.28 398.45 226.27 C402.7 226.26 409.07 226.32 411.2 226.33" stroke="#737373" stroke-width="0.45" fill="none"/>
<path d="M334.7 226.65 C336.82 226.79 343.2 227.42 347.45 227.46 C351.7 227.49 355.95 227.13 360.2 226.88 C364.45 226.63 368.7 226.09 372.95 225.98 C377.2 225.88 381.45 225.97 385.7 226.24 C389.95 226.51 394.2 227.46 398.45 227.58 C402.7 227.7 409.07 227.06 411.2 226.96" stroke="#0a0a0a" stroke-width="0.7" fill="none"/>
<path d="M334.7 227.88 C336.82 228.01 343.2 228.83 347.45 228.64 C351.7 228.46 355.95 226.88 360.2 226.76 C364.45 226.64 368.7 227.71 372.95 227.93 C377.2 228.16 381.45 228.11 385.7 228.13 C389.95 228.14 394.2 228.16 398.45 228.01 C402.7 227.87 409.07 227.38 411.2 227.26" stroke="#5a5a5a" stroke-width="0.4" fill="none"/>
<path d="M334.7 227.88 C336.82 227.9 343.2 227.96 347.45 228 C351.7 228.04 355.95 228.25 360.2 228.12 C364.45 227.98 368.7 227.06 372.95 227.17 C377.2 227.28 381.45 228.5 385.7 228.77 C389.95 229.04 394.2 228.93 398.45 228.77 C402.7 228.61 409.07 227.98 411.2 227.83" stroke="#050505" stroke-width="0.9" fill="none"/>
<path d="M334.7 228.83 C336.82 228.83 343.2 228.88 347.45 228.84 C351.7 228.8 355.95 228.68 360.2 228.6 C364.45 228.51 368.7 228.4 372.95 228.31 C377.2 228.22 381.45 227.94 385.7 228.05 C389.95 228.16 394.2 228.91 398.45 228.97 C402.7 229.04 409.07 228.53 411.2 228.45" stroke="#8a8a8a" stroke-width="0.5" fill="none"/>
<path d="M334.7 229.99 C336.82 229.98 343.2 230.01 347.45 229.91 C351.7 229.8 355.95 229.27 360.2 229.36 C364.45 229.46 368.7 230.36 372.95 230.49 C377.2 230.61 381.45 230.37 385.7 230.13 C389.95 229.88 394.2 229.14 398.45 229.01 C402.7 228.89 409.07 229.32 411.2 229.39" stroke="#111" stroke-width="0.7" fill="none"/>
<path d="M334.7 230.63 C336.82 230.66 343.2 230.72 347.45 230.83 C351.7 230.94 355.95 231.22 360.2 231.29 C364.45 231.36 368.7 231.58 372.95 231.27 C377.2 230.97 381.45 229.52 385.7 229.47 C389.95 229.43 394.2 230.88 398.45 231.01 C402.7 231.13 409.07 230.34 411.2 230.2" stroke="#737373" stroke-width="0.45" fill="none"/>
<path d="M334.7 231.34 C336.82 231.42 343.2 231.95 347.45 231.82 C351.7 231.7 355.95 230.78 360.2 230.58 C364.45 230.38 368.7 230.68 372.95 230.63 C377.2 230.58 381.45 230.21 385.7 230.26 C389.95 230.31 394.2 230.82 398.45 230.94 C402.7 231.07 409.07 231 411.2 231.01" stroke="#0a0a0a" stroke-width="0.7" fill="none"/>
<path d="M334.7 232.7 C336.82 232.74 343.2 233.07 347.45 232.94 C351.7 232.82 355.95 231.97 360.2 231.94 C364.45 231.91 368.7 232.8 372.95 232.77 C377.2 232.74 381.45 232 385.7 231.75 C389.95 231.51 394.2 231.4 398.45 231.29 C402.7 231.18 409.07 231.13 411.2 231.1" stroke="#5a5a5a" stroke-width="0.4" fill="none"/>
<path d="M334.7 232.73 C336.82 232.72 343.2 232.62 347.45 232.7 C351.7 232.78 355.95 233.13 360.2 233.21 C364.45 233.29 368.7 233.13 372.95 233.18 C377.2 233.24 381.45 233.65 385.7 233.54 C389.95 233.44 394.2 232.63 398.45 232.54 C402.7 232.45 409.07 232.92 411.2 233" stroke="#050505" stroke-width="0.9" fill="none"/>
<path d="M334.7 233.52 C336.82 233.53 343.2 233.76 347.45 233.57 C351.7 233.38 355.95 232.63 360.2 232.37 C364.45 232.11 368.7 231.99 372.95 232 C377.2 232.01 381.45 232.29 385.7 232.44 C389.95 232.58 394.2 232.88 398.45 232.86 C402.7 232.85 409.07 232.43 411.2 232.34" stroke="#8a8a8a" stroke-width="0.5" fill="none"/>
<path d="M334.7 234.43 C336.82 234.28 343.2 233.41 347.45 233.52 C351.7 233.63 355.95 234.86 360.2 235.07 C364.45 235.28 368.7 234.82 372.95 234.77 C377.2 234.72 381.45 234.91 385.7 234.77 C389.95 234.62 394.2 234.12 398.45 233.91 C402.7 233.69 409.07 233.55 411.2 233.47" stroke="#111" stroke-width="0.7" fill="none"/>
<path d="M334.7 235.39 C336.82 235.31 343.2 234.87 347.45 234.9 C351.7 234.94 355.95 235.61 360.2 235.62 C364.45 235.63 368.7 235.25 372.95 234.98 C377.2 234.71 381.45 233.93 385.7 233.99 C389.95 234.05 394.2 235.26 398.45 235.33 C402.7 235.4 409.07 234.55 411.2 234.4" stroke="#737373" stroke-width="0.45" fill="none"/>
<path d="M334.7 236.71 C336.82 236.53 343.2 235.72 347.45 235.63 C351.7 235.55 355.95 236.16 360.2 236.2 C364.45 236.24 368.7 235.85 372.95 235.87 C377.2 235.89 381.45 236.49 385.7 236.31 C389.95 236.14 394.2 235.01 398.45 234.82 C402.7 234.62 409.07 235.08 411.2 235.13" stroke="#0a0a0a" stroke-width="0.7" fill="none"/>
<path d="M334.7 237.52 C336.82 237.38 343.2 236.56 347.45 236.67 C351.7 236.79 355.95 238.04 360.2 238.2 C364.45 238.36 368.7 237.73 372.95 237.63 C377.2 237.52 381.45 237.79 385.7 237.55 C389.95 237.3 394.2 236.31 398.45 236.16 C402.7 236.02 409.07 236.6 411.2 236.68" stroke="#5a5a5a" stroke-width="0.4" fill="none"/>
<path d="M334.7 237.97 C336.82 237.93 343.2 237.68 347.45 237.75 C351.7 237.82 355.95 238.57 360.2 238.4 C364.45 238.24 368.7 237.08 372.95 236.74 C377.2 236.41 381.45 236.29 385.7 236.41 C389.95 236.52 394.2 237.32 398.45 237.43 C402.7 237.54 409.07 237.11 411.2 237.04" stroke="#050505" stroke-width="0.9" fill="none"/>
<path d="M334.7 238.55 C336.82 238.72 343.2 239.59 347.45 239.57 C351.7 239.55 355.95 238.49 360.2 238.44 C364.45 238.39 368.7 239.38 372.95 239.29 C377.2 239.2 381.45 237.9 385.7 237.92 C389.95 237.93 394.2 239.2 398.45 239.39 C402.7 239.57 409.07 239.09 411.2 239.03" stroke="#8a8a8a" stroke-width="0.5" fill="none"/>
<path d="M334.7 239.34 C336.82 239.25 343.2 238.82 347.45 238.76 C351.7 238.7 355.95 238.98 360.2 238.98 C364.45 238.99 368.7 238.9 372.95 238.8 C377.2 238.7 381.45 238.56 385.7 238.36 C389.95 238.17 394.2 237.63 398.45 237.64 C402.7 237.66 409.07 238.31 411.2 238.44" stroke="#111" stroke-width="0.7" fill="none"/>
<path d="M334.7 239.81 C336.82 239.88 343.2 240.36 347.45 240.25 C351.7 240.14 355.95 239.35 360.2 239.14 C364.45 238.92 368.7 238.87 372.95 238.95 C377.2 239.03 381.45 239.82 385.7 239.61 C389.95 239.4 394.2 237.91 398.45 237.69 C402.7 237.46 409.07 238.16 411.2 238.26" stroke="#737373" stroke-width="0.45" fill="none"/>
<path d="M334.7 241.38 C336.82 241.37 343.2 241.21 347.45 241.3 C351.7 241.39 355.95 242.03 360.2 241.91 C364.45 241.79 368.7 240.69 372.95 240.61 C377.2 240.52 381.45 241.39 385.7 241.4 C389.95 241.42 394.2 240.65 398.45 240.71 C402.7 240.76 409.07 241.57 411.2 241.74" stroke="#0a0a0a" stroke-width="0.7" fill="none"/>
<path d="M334.7 242.02 C336.82 242.18 343.2 242.92 347.45 242.96 C351.7 243 355.95 242.26 360.2 242.25 C364.45 242.24 368.7 242.84 372.95 242.92 C377.2 243 381.45 242.97 385.7 242.73 C389.95 242.49 394.2 241.5 398.45 241.48 C402.7 241.45 409.07 242.37 411.2 242.55" stroke="#5a5a5a" stroke-width="0.4" fill="none"/>
<line x1="374" y1="202.6" x2="408" y2="202.6" stroke="#f0f0f0" stroke-width="1.2"/>
</g>
<path d="M407.8 192.95 L338.1 192.95 L338.1 192.95 Q333.3 195.3 338.1 197.65 L338.1 197.65 Q333.3 200 338.1 202.35 L338.1 202.35 Q333.3 204.7 338.1 207.05 L338.1 207.05 Q333.3 209.4 338.1 211.75 L338.1 211.75 Q333.3 214.1 338.1 216.45 L338.1 216.45 Q333.3 218.8 338.1 221.15 L338.1 221.15 Q333.3 223.5 338.1 225.85 L338.1 225.85 Q333.3 228.2 338.1 230.55 L338.1 230.55 Q333.3 232.9 338.1 235.25 L338.1 235.25 Q333.3 237.6 338.1 239.95 L407.8 242.3 L407.8 242.3 Q412.6 239.95 407.8 237.6 L407.8 237.6 Q412.6 235.25 407.8 232.9 L407.8 232.9 Q412.6 230.55 407.8 228.2 L407.8 228.2 Q412.6 225.85 407.8 223.5 L407.8 223.5 Q412.6 221.15 407.8 218.8 L407.8 218.8 Q412.6 216.45 407.8 214.1 L407.8 214.1 Q412.6 211.75 407.8 209.4 L407.8 209.4 Q412.6 207.05 407.8 204.7 L407.8 204.7 Q412.6 202.35 407.8 200 L407.8 200 Q412.6 197.65 407.8 195.3 L407.8 195.3 Q412.6 192.95 407.8 190.6 Z" fill="none" stroke="#000" stroke-width="1.4"/>
</g>
<clipPath id="th5b"><rect x="331.5" y="243.5" width="83.1" height="74.9"/></clipPath>
<g clip-path="url(#th5b)">
<clipPath id="th5"><path d="M408.2 235.6 L337.9 235.6 L337.9 235.6 Q333.1 237.92 337.9 240.24 L337.9 240.24 Q333.1 242.56 337.9 244.88 L337.9 244.88 Q333.1 247.2 337.9 249.52 L337.9 249.52 Q333.1 251.84 337.9 254.16 L337.9 254.16 Q333.1 256.48 337.9 258.8 L337.9 258.8 Q333.1 261.12 337.9 263.44 L337.9 263.44 Q333.1 265.76 337.9 268.08 L337.9 268.08 Q333.1 270.4 337.9 272.72 L337.9 272.72 Q333.1 275.04 337.9 277.36 L337.9 277.36 Q333.1 279.68 337.9 282 L337.9 282 Q333.1 284.32 337.9 286.64 L337.9 286.64 Q333.1 288.96 337.9 291.28 L337.9 291.28 Q333.1 293.6 337.9 295.92 L337.9 295.92 Q333.1 298.24 337.9 300.56 L337.9 300.56 Q333.1 302.88 337.9 305.2 L337.9 305.2 Q333.1 307.52 337.9 309.84 L337.9 309.84 Q333.1 312.16 337.9 314.48 L337.9 314.48 Q333.1 316.8 337.9 319.12 L337.9 319.12 Q333.1 321.44 337.9 323.76 L337.9 323.76 Q333.1 326.08 337.9 328.4 L337.9 328.4 Q333.1 330.72 337.9 333.04 L337.9 333.04 Q333.1 335.36 337.9 337.68 L408.2 340 L408.2 340 Q413 337.68 408.2 335.36 L408.2 335.36 Q413 333.04 408.2 330.72 L408.2 330.72 Q413 328.4 408.2 326.08 L408.2 326.08 Q413 323.76 408.2 321.44 L408.2 321.44 Q413 319.12 408.2 316.8 L408.2 316.8 Q413 314.48 408.2 312.16 L408.2 312.16 Q413 309.84 408.2 307.52 L408.2 307.52 Q413 305.2 408.2 302.88 L408.2 302.88 Q413 300.56 408.2 298.24 L408.2 298.24 Q413 295.92 408.2 293.6 L408.2 293.6 Q413 291.28 408.2 288.96 L408.2 288.96 Q413 286.64 408.2 284.32 L408.2 284.32 Q413 282 408.2 279.68 L408.2 279.68 Q413 277.36 408.2 275.04 L408.2 275.04 Q413 272.72 408.2 270.4 L408.2 270.4 Q413 268.08 408.2 265.76 L408.2 265.76 Q413 263.44 408.2 261.12 L408.2 261.12 Q413 258.8 408.2 256.48 L408.2 256.48 Q413 254.16 408.2 251.84 L408.2 251.84 Q413 249.52 408.2 247.2 L408.2 247.2 Q413 244.88 408.2 242.56 L408.2 242.56 Q413 240.24 408.2 237.92 L408.2 237.92 Q413 235.6 408.2 233.28 Z"/></clipPath>
<g clip-path="url(#th5)">
<path d="M408.2 235.6 L337.9 235.6 L337.9 235.6 Q333.1 237.92 337.9 240.24 L337.9 240.24 Q333.1 242.56 337.9 244.88 L337.9 244.88 Q333.1 247.2 337.9 249.52 L337.9 249.52 Q333.1 251.84 337.9 254.16 L337.9 254.16 Q333.1 256.48 337.9 258.8 L337.9 258.8 Q333.1 261.12 337.9 263.44 L337.9 263.44 Q333.1 265.76 337.9 268.08 L337.9 268.08 Q333.1 270.4 337.9 272.72 L337.9 272.72 Q333.1 275.04 337.9 277.36 L337.9 277.36 Q333.1 279.68 337.9 282 L337.9 282 Q333.1 284.32 337.9 286.64 L337.9 286.64 Q333.1 288.96 337.9 291.28 L337.9 291.28 Q333.1 293.6 337.9 295.92 L337.9 295.92 Q333.1 298.24 337.9 300.56 L337.9 300.56 Q333.1 302.88 337.9 305.2 L337.9 305.2 Q333.1 307.52 337.9 309.84 L337.9 309.84 Q333.1 312.16 337.9 314.48 L337.9 314.48 Q333.1 316.8 337.9 319.12 L337.9 319.12 Q333.1 321.44 337.9 323.76 L337.9 323.76 Q333.1 326.08 337.9 328.4 L337.9 328.4 Q333.1 330.72 337.9 333.04 L337.9 333.04 Q333.1 335.36 337.9 337.68 L408.2 340 L408.2 340 Q413 337.68 408.2 335.36 L408.2 335.36 Q413 333.04 408.2 330.72 L408.2 330.72 Q413 328.4 408.2 326.08 L408.2 326.08 Q413 323.76 408.2 321.44 L408.2 321.44 Q413 319.12 408.2 316.8 L408.2 316.8 Q413 314.48 408.2 312.16 L408.2 312.16 Q413 309.84 408.2 307.52 L408.2 307.52 Q413 305.2 408.2 302.88 L408.2 302.88 Q413 300.56 408.2 298.24 L408.2 298.24 Q413 295.92 408.2 293.6 L408.2 293.6 Q413 291.28 408.2 288.96 L408.2 288.96 Q413 286.64 408.2 284.32 L408.2 284.32 Q413 282 408.2 279.68 L408.2 279.68 Q413 277.36 408.2 275.04 L408.2 275.04 Q413 272.72 408.2 270.4 L408.2 270.4 Q413 268.08 408.2 265.76 L408.2 265.76 Q413 263.44 408.2 261.12 L408.2 261.12 Q413 258.8 408.2 256.48 L408.2 256.48 Q413 254.16 408.2 251.84 L408.2 251.84 Q413 249.52 408.2 247.2 L408.2 247.2 Q413 244.88 408.2 242.56 L408.2 242.56 Q413 240.24 408.2 237.92 L408.2 237.92 Q413 235.6 408.2 233.28 Z" fill="#2c2c2c"/>
<path d="M334.5 237.65 C336.64 237.69 343.07 237.92 347.35 237.91 C351.63 237.9 355.92 237.73 360.2 237.58 C364.48 237.44 368.77 236.94 373.05 237.04 C377.33 237.14 381.62 237.99 385.9 238.18 C390.18 238.37 394.47 238.3 398.75 238.2 C403.03 238.1 409.46 237.67 411.6 237.57" stroke="#050505" stroke-width="0.9" fill="none"/>
<path d="M334.5 238.86 C336.64 238.76 343.07 238.44 347.35 238.25 C351.63 238.06 355.92 237.68 360.2 237.7 C364.48 237.72 368.77 238.19 373.05 238.36 C377.33 238.52 381.62 238.83 385.9 238.7 C390.18 238.58 394.47 237.64 398.75 237.59 C403.03 237.53 409.46 238.24 411.6 238.37" stroke="#8a8a8a" stroke-width="0.5" fill="none"/>
<path d="M334.5 239.92 C336.64 239.8 343.07 239.42 347.35 239.2 C351.63 238.99 355.92 238.45 360.2 238.64 C364.48 238.83 368.77 240.2 373.05 240.37 C377.33 240.54 381.62 239.77 385.9 239.67 C390.18 239.57 394.47 239.9 398.75 239.76 C403.03 239.62 409.46 238.98 411.6 238.83" stroke="#111" stroke-width="0.7" fill="none"/>
<path d="M334.5 240.56 C336.64 240.47 343.07 240.05 347.35 239.97 C351.63 239.88 355.92 240.21 360.2 240.05 C364.48 239.9 368.77 238.97 373.05 239.03 C377.33 239.1 381.62 240.45 385.9 240.45 C390.18 240.45 394.47 239.27 398.75 239.03 C403.03 238.8 409.46 239.04 411.6 239.04" stroke="#737373" stroke-width="0.45" fill="none"/>
<path d="M334.5 241.12 C336.64 241 343.07 240.25 347.35 240.41 C351.63 240.56 355.92 241.93 360.2 242.05 C364.48 242.17 368.77 241.24 373.05 241.13 C377.33 241.02 381.62 241.39 385.9 241.36 C390.18 241.33 394.47 240.98 398.75 240.98 C403.03 240.97 409.46 241.26 411.6 241.32" stroke="#0a0a0a" stroke-width="0.7" fill="none"/>
<path d="M334.5 242.08 C336.64 241.9 343.07 240.9 347.35 240.96 C351.63 241.02 355.92 242.42 360.2 242.42 C364.48 242.42 368.77 241.05 373.05 240.96 C377.33 240.86 381.62 241.93 385.9 241.85 C390.18 241.78 394.47 240.67 398.75 240.51 C403.03 240.35 409.46 240.83 411.6 240.89" stroke="#5a5a5a" stroke-width="0.4" fill="none"/>
<path d="M334.5 242.94 C336.64 243.03 343.07 243.4 347.35 243.51 C351.63 243.61 355.92 243.62 360.2 243.58 C364.48 243.55 368.77 243.27 373.05 243.28 C377.33 243.29 381.62 243.77 385.9 243.64 C390.18 243.51 394.47 242.54 398.75 242.49 C403.03 242.43 409.46 243.17 411.6 243.3" stroke="#050505" stroke-width="0.9" fill="none"/>
<path d="M334.5 243.47 C336.64 243.38 343.07 242.75 347.35 242.91 C351.63 243.06 355.92 244.15 360.2 244.39 C364.48 244.63 368.77 244.51 373.05 244.35 C377.33 244.19 381.62 243.6 385.9 243.43 C390.18 243.27 394.47 243.34 398.75 243.38 C403.03 243.42 409.46 243.64 411.6 243.69" stroke="#8a8a8a" stroke-width="0.5" fill="none"/>
<path d="M334.5 244.28 C336.64 244.43 343.07 245.23 347.35 245.15 C351.63 245.07 355.92 244.17 360.2 243.81 C364.48 243.44 368.77 243.1 373.05 242.96 C377.33 242.82 381.62 242.78 385.9 242.97 C390.18 243.16 394.47 244 398.75 244.09 C403.03 244.19 409.46 243.63 411.6 243.53" stroke="#111" stroke-width="0.7" fill="none"/>
<path d="M334.5 245.51 C336.64 245.49 343.07 245.42 347.35 245.4 C351.63 245.39 355.92 245.38 360.2 245.44 C364.48 245.49 368.77 245.89 373.05 245.75 C377.33 245.61 381.62 244.69 385.9 244.61 C390.18 244.54 394.47 245.24 398.75 245.3 C403.03 245.36 409.46 245.05 411.6 245" stroke="#737373" stroke-width="0.45" fill="none"/>
<path d="M334.5 246.09 C336.64 245.97 343.07 245.53 347.35 245.41 C351.63 245.29 355.92 245.31 360.2 245.35 C364.48 245.39 368.77 245.43 373.05 245.67 C377.33 245.91 381.62 246.8 385.9 246.79 C390.18 246.77 394.47 245.74 398.75 245.59 C403.03 245.43 409.46 245.81 411.6 245.85" stroke="#0a0a0a" stroke-width="0.7" fill="none"/>
<path d="M334.5 246.81 C336.64 246.66 343.07 246.06 347.35 245.87 C351.63 245.67 355.92 245.45 360.2 245.64 C364.48 245.82 368.77 246.79 373.05 246.98 C377.33 247.16 381.62 246.95 385.9 246.75 C390.18 246.55 394.47 245.94 398.75 245.79 C403.03 245.65 409.46 245.87 411.6 245.89" stroke="#5a5a5a" stroke-width="0.4" fill="none"/>
<path d="M334.5 247.35 C336.64 247.48 343.07 247.98 347.35 248.13 C351.63 248.27 355.92 248.4 360.2 248.23 C364.48 248.06 368.77 247.1 373.05 247.1 C377.33 247.11 381.62 248.07 385.9 248.25 C390.18 248.43 394.47 248.34 398.75 248.18 C403.03 248.01 409.46 247.39 411.6 247.23" stroke="#050505" stroke-width="0.9" fill="none"/>
<path d="M334.5 248.2 C336.64 248.21 343.07 248.26 347.35 248.24 C351.63 248.22 355.92 248.13 360.2 248.07 C364.48 248 368.77 247.68 373.05 247.87 C377.33 248.05 381.62 249.19 385.9 249.18 C390.18 249.17 394.47 247.92 398.75 247.81 C403.03 247.7 409.46 248.42 411.6 248.54" stroke="#8a8a8a" stroke-width="0.5" fill="none"/>
<path d="M334.5 248.62 C336.64 248.71 343.07 249.19 347.35 249.2 C351.63 249.2 355.92 248.61 360.2 248.64 C364.48 248.67 368.77 249.51 373.05 249.38 C377.33 249.24 381.62 248.02 385.9 247.84 C390.18 247.65 394.47 248.12 398.75 248.28 C403.03 248.44 409.46 248.7 411.6 248.79" stroke="#111" stroke-width="0.7" fill="none"/>
<path d="M334.5 249.58 C336.64 249.46 343.07 248.99 347.35 248.81 C351.63 248.63 355.92 248.48 360.2 248.5 C364.48 248.52 368.77 248.68 373.05 248.92 C377.33 249.16 381.62 249.75 385.9 249.93 C390.18 250.11 394.47 250.16 398.75 249.99 C403.03 249.82 409.46 249.09 411.6 248.91" stroke="#737373" stroke-width="0.45" fill="none"/>
<path d="M334.5 250.88 C336.64 250.78 343.07 250.17 347.35 250.29 C351.63 250.41 355.92 251.55 360.2 251.61 C364.48 251.67 368.77 250.76 373.05 250.65 C377.33 250.55 381.62 251.17 385.9 250.97 C390.18 250.77 394.47 249.58 398.75 249.48 C403.03 249.37 409.46 250.19 411.6 250.33" stroke="#0a0a0a" stroke-width="0.7" fill="none"/>
<path d="M334.5 251.15 C336.64 251.25 343.07 251.64 347.35 251.78 C351.63 251.92 355.92 252.04 360.2 251.99 C364.48 251.94 368.77 251.61 373.05 251.47 C377.33 251.33 381.62 251.15 385.9 251.16 C390.18 251.17 394.47 251.47 398.75 251.51 C403.03 251.55 409.46 251.41 411.6 251.39" stroke="#5a5a5a" stroke-width="0.4" fill="none"/>
<path d="M334.5 252.12 C336.64 252.11 343.07 252.16 347.35 252.03 C351.63 251.91 355.92 251.34 360.2 251.36 C364.48 251.39 368.77 252.33 373.05 252.19 C377.33 252.05 381.62 250.6 385.9 250.52 C390.18 250.45 394.47 251.61 398.75 251.72 C403.03 251.83 409.46 251.28 411.6 251.2" stroke="#050505" stroke-width="0.9" fill="none"/>
<path d="M334.5 253.13 C336.64 253.12 343.07 253.1 347.35 253.06 C351.63 253.02 355.92 252.9 360.2 252.9 C364.48 252.9 368.77 253.17 373.05 253.06 C377.33 252.95 381.62 252.55 385.9 252.27 C390.18 251.98 394.47 251.47 398.75 251.36 C403.03 251.24 409.46 251.54 411.6 251.58" stroke="#8a8a8a" stroke-width="0.5" fill="none"/>
<path d="M334.5 253.53 C336.64 253.68 343.07 254.52 347.35 254.42 C351.63 254.33 355.92 253.21 360.2 252.96 C364.48 252.72 368.77 252.96 373.05 252.97 C377.33 252.99 381.62 253.05 385.9 253.06 C390.18 253.06 394.47 252.84 398.75 253 C403.03 253.17 409.46 253.86 411.6 254.04" stroke="#111" stroke-width="0.7" fill="none"/>
<path d="M334.5 254.35 C336.64 254.44 343.07 254.89 347.35 254.87 C351.63 254.85 355.92 254.55 360.2 254.23 C364.48 253.91 368.77 253.07 373.05 252.96 C377.33 252.85 381.62 253.57 385.9 253.57 C390.18 253.56 394.47 253.01 398.75 252.92 C403.03 252.84 409.46 253.04 411.6 253.06" stroke="#737373" stroke-width="0.45" fill="none"/>
<path d="M334.5 255.32 C336.64 255.17 343.07 254.63 347.35 254.46 C351.63 254.29 355.92 254.3 360.2 254.31 C364.48 254.32 368.77 254.4 373.05 254.51 C377.33 254.63 381.62 255 385.9 254.99 C390.18 254.99 394.47 254.62 398.75 254.48 C403.03 254.35 409.46 254.25 411.6 254.2" stroke="#0a0a0a" stroke-width="0.7" fill="none"/>
<path d="M334.5 255.65 C336.64 255.78 343.07 256.31 347.35 256.39 C351.63 256.48 355.92 256.22 360.2 256.19 C364.48 256.16 368.77 256.47 373.05 256.22 C377.33 255.96 381.62 254.76 385.9 254.64 C390.18 254.53 394.47 255.39 398.75 255.55 C403.03 255.71 409.46 255.61 411.6 255.62" stroke="#5a5a5a" stroke-width="0.4" fill="none"/>
<path d="M334.5 256.13 C336.64 256.02 343.07 255.42 347.35 255.49 C351.63 255.57 355.92 256.55 360.2 256.58 C364.48 256.61 368.77 255.68 373.05 255.68 C377.33 255.68 381.62 256.55 385.9 256.58 C390.18 256.6 394.47 255.89 398.75 255.83 C403.03 255.76 409.46 256.15 411.6 256.21" stroke="#050505" stroke-width="0.9" fill="none"/>
<path d="M334.5 257.04 C336.64 256.96 343.07 256.44 347.35 256.54 C351.63 256.63 355.92 257.64 360.2 257.59 C364.48 257.55 368.77 256.43 373.05 256.26 C377.33 256.09 381.62 256.51 385.9 256.55 C390.18 256.59 394.47 256.56 398.75 256.52 C403.03 256.48 409.46 256.33 411.6 256.3" stroke="#8a8a8a" stroke-width="0.5" fill="none"/>
<path d="M334.5 258.6 C336.64 258.6 343.07 258.65 347.35 258.57 C351.63 258.5 355.92 258.19 360.2 258.16 C364.48 258.12 368.77 258.3 373.05 258.38 C377.33 258.46 381.62 258.83 385.9 258.61 C390.18 258.4 394.47 257.3 398.75 257.07 C403.03 256.84 409.46 257.19 411.6 257.22" stroke="#111" stroke-width="0.7" fill="none"/>
<path d="M334.5 259.19 C336.64 259.2 343.07 259.41 347.35 259.24 C351.63 259.07 355.92 258.11 360.2 258.17 C364.48 258.23 368.77 259.32 373.05 259.6 C377.33 259.88 381.62 260.03 385.9 259.85 C390.18 259.67 394.47 258.72 398.75 258.53 C403.03 258.35 409.46 258.71 411.6 258.75" stroke="#737373" stroke-width="0.45" fill="none"/>
<path d="M334.5 259.81 C336.64 259.7 343.07 259.24 347.35 259.13 C351.63 259.02 355.92 259.14 360.2 259.16 C364.48 259.18 368.77 258.98 373.05 259.25 C377.33 259.53 381.62 260.57 385.9 260.83 C390.18 261.09 394.47 260.89 398.75 260.82 C403.03 260.75 409.46 260.47 411.6 260.4" stroke="#0a0a0a" stroke-width="0.7" fill="none"/>
<path d="M334.5 260.61 C336.64 260.45 343.07 259.58 347.35 259.62 C351.63 259.65 355.92 260.7 360.2 260.83 C364.48 260.95 368.77 260.44 373.05 260.38 C377.33 260.33 381.62 260.52 385.9 260.49 C390.18 260.46 394.47 260.22 398.75 260.2 C403.03 260.18 409.46 260.35 411.6 260.38" stroke="#5a5a5a" stroke-width="0.4" fill="none"/>
<path d="M334.5 261.04 C336.64 260.86 343.07 260.04 347.35 259.95 C351.63 259.87 355.92 260.54 360.2 260.54 C364.48 260.55 368.77 259.95 373.05 259.98 C377.33 260.01 381.62 260.58 385.9 260.71 C390.18 260.84 394.47 260.89 398.75 260.76 C403.03 260.63 409.46 260.07 411.6 259.94" stroke="#050505" stroke-width="0.9" fill="none"/>
<path d="M334.5 262.23 C336.64 262.12 343.07 261.67 347.35 261.6 C351.63 261.53 355.92 261.75 360.2 261.8 C364.48 261.85 368.77 261.85 373.05 261.9 C377.33 261.95 381.62 261.97 385.9 262.09 C390.18 262.22 394.47 262.73 398.75 262.66 C403.03 262.58 409.46 261.8 411.6 261.63" stroke="#8a8a8a" stroke-width="0.5" fill="none"/>
<path d="M334.5 262.55 C336.64 262.53 343.07 262.4 347.35 262.44 C351.63 262.49 355.92 262.7 360.2 262.8 C364.48 262.91 368.77 263.07 373.05 263.06 C377.33 263.05 381.62 262.87 385.9 262.75 C390.18 262.63 394.47 262.47 398.75 262.35 C403.03 262.23 409.46 262.06 411.6 262.01" stroke="#111" stroke-width="0.7" fill="none"/>
<path d="M334.5 263.88 C336.64 263.99 343.07 264.52 347.35 264.57 C351.63 264.63 355.92 264.3 360.2 264.23 C364.48 264.17 368.77 264.34 373.05 264.18 C377.33 264.02 381.62 263.21 385.9 263.28 C390.18 263.35 394.47 264.53 398.75 264.6 C403.03 264.68 409.46 263.89 411.6 263.75" stroke="#737373" stroke-width="0.45" fill="none"/>
<path d="M334.5 264.51 C336.64 264.61 343.07 264.98 347.35 265.12 C351.63 265.26 355.92 265.31 360.2 265.35 C364.48 265.39 368.77 265.7 373.05 265.36 C377.33 265.03 381.62 263.6 385.9 263.36 C390.18 263.12 394.47 263.78 398.75 263.93 C403.03 264.08 409.46 264.21 411.6 264.26" stroke="#0a0a0a" stroke-width="0.7" fill="none"/>
<path d="M334.5 265.15 C336.64 265.01 343.07 264.34 347.35 264.31 C351.63 264.29 355.92 265.07 360.2 265.01 C364.48 264.94 368.77 264.06 373.05 263.93 C377.33 263.81 381.62 264.01 385.9 264.26 C390.18 264.5 394.47 265.39 398.75 265.42 C403.03 265.44 409.46 264.57 411.6 264.41" stroke="#5a5a5a" stroke-width="0.4" fill="none"/>
<path d="M334.5 265.95 C336.64 265.81 343.07 264.95 347.35 265.07 C351.63 265.19 355.92 266.51 360.2 266.67 C364.48 266.84 368.77 266.35 373.05 266.07 C377.33 265.79 381.62 265.13 385.9 264.98 C390.18 264.82 394.47 265.07 398.75 265.14 C403.03 265.2 409.46 265.33 411.6 265.37" stroke="#050505" stroke-width="0.9" fill="none"/>
<path d="M334.5 266.8 C336.64 266.72 343.07 266.16 347.35 266.31 C351.63 266.45 355.92 267.66 360.2 267.67 C364.48 267.69 368.77 266.63 373.05 266.4 C377.33 266.16 381.62 266.07 385.9 266.24 C390.18 266.41 394.47 267.33 398.75 267.41 C403.03 267.48 409.46 266.82 411.6 266.7" stroke="#8a8a8a" stroke-width="0.5" fill="none"/>
<path d="M334.5 267.25 C336.64 267.14 343.07 266.6 347.35 266.63 C351.63 266.66 355.92 267.39 360.2 267.41 C364.48 267.43 368.77 266.83 373.05 266.75 C377.33 266.67 381.62 266.72 385.9 266.94 C390.18 267.15 394.47 268.01 398.75 268.04 C403.03 268.08 409.46 267.29 411.6 267.14" stroke="#111" stroke-width="0.7" fill="none"/>
<path d="M334.5 268.29 C336.64 268.31 343.07 268.52 347.35 268.41 C351.63 268.3 355.92 267.82 360.2 267.63 C364.48 267.45 368.77 267.32 373.05 267.31 C377.33 267.31 381.62 267.63 385.9 267.63 C390.18 267.63 394.47 267.3 398.75 267.3 C403.03 267.3 409.46 267.59 411.6 267.65" stroke="#737373" stroke-width="0.45" fill="none"/>
<path d="M334.5 268.99 C336.64 268.85 343.07 268.01 347.35 268.15 C351.63 268.28 355.92 269.45 360.2 269.78 C364.48 270.11 368.77 270.12 373.05 270.12 C377.33 270.11 381.62 270.02 385.9 269.74 C390.18 269.47 394.47 268.5 398.75 268.46 C403.03 268.42 409.46 269.33 411.6 269.5" stroke="#0a0a0a" stroke-width="0.7" fill="none"/>
<path d="M334.5 269.94 C336.64 269.93 343.07 269.92 347.35 269.9 C351.63 269.88 355.92 270.04 360.2 269.83 C364.48 269.63 368.77 268.98 373.05 268.66 C377.33 268.35 381.62 267.93 385.9 267.94 C390.18 267.96 394.47 268.68 398.75 268.76 C403.03 268.84 409.46 268.48 411.6 268.42" stroke="#5a5a5a" stroke-width="0.4" fill="none"/>
<path d="M334.5 270.08 C336.64 270.03 343.07 269.75 347.35 269.83 C351.63 269.91 355.92 270.64 360.2 270.56 C364.48 270.48 368.77 269.66 373.05 269.36 C377.33 269.05 381.62 268.64 385.9 268.73 C390.18 268.82 394.47 269.82 398.75 269.89 C403.03 269.96 409.46 269.28 411.6 269.16" stroke="#050505" stroke-width="0.9" fill="none"/>
<path d="M334.5 271.59 C336.64 271.42 343.07 270.74 347.35 270.61 C351.63 270.48 355.92 270.72 360.2 270.82 C364.48 270.91 368.77 271.08 373.05 271.17 C377.33 271.27 381.62 271.48 385.9 271.4 C390.18 271.32 394.47 270.71 398.75 270.67 C403.03 270.63 409.46 271.07 411.6 271.15" stroke="#8a8a8a" stroke-width="0.5" fill="none"/>
<path d="M334.5 272.41 C336.64 272.55 343.07 273.16 347.35 273.3 C351.63 273.44 355.92 273.55 360.2 273.26 C364.48 272.97 368.77 271.65 373.05 271.57 C377.33 271.48 381.62 272.7 385.9 272.74 C390.18 272.77 394.47 271.79 398.75 271.78 C403.03 271.77 409.46 272.51 411.6 272.66" stroke="#111" stroke-width="0.7" fill="none"/>
<path d="M334.5 273.27 C336.64 273.36 343.07 273.9 347.35 273.8 C351.63 273.7 355.92 272.89 360.2 272.66 C364.48 272.43 368.77 272.2 373.05 272.41 C377.33 272.62 381.62 273.75 385.9 273.93 C390.18 274.12 394.47 273.62 398.75 273.52 C403.03 273.42 409.46 273.35 411.6 273.31" stroke="#737373" stroke-width="0.45" fill="none"/>
<path d="M334.5 273.98 C336.64 274.06 343.07 274.57 347.35 274.48 C351.63 274.4 355.92 273.67 360.2 273.46 C364.48 273.26 368.77 273.26 373.05 273.23 C377.33 273.21 381.62 273.33 385.9 273.31 C390.18 273.28 394.47 273.08 398.75 273.1 C403.03 273.12 409.46 273.36 411.6 273.41" stroke="#0a0a0a" stroke-width="0.7" fill="none"/>
<path d="M334.5 274.68 C336.64 274.54 343.07 274 347.35 273.88 C351.63 273.76 355.92 273.77 360.2 273.93 C364.48 274.1 368.77 274.66 373.05 274.88 C377.33 275.1 381.62 275.36 385.9 275.27 C390.18 275.19 394.47 274.4 398.75 274.36 C403.03 274.32 409.46 274.92 411.6 275.04" stroke="#5a5a5a" stroke-width="0.4" fill="none"/>
<path d="M334.5 274.86 C336.64 274.66 343.07 273.77 347.35 273.69 C351.63 273.6 355.92 274.22 360.2 274.36 C364.48 274.49 368.77 274.51 373.05 274.48 C377.33 274.45 381.62 274.44 385.9 274.18 C390.18 273.93 394.47 273.08 398.75 272.95 C403.03 272.81 409.46 273.31 411.6 273.39" stroke="#050505" stroke-width="0.9" fill="none"/>
<path d="M334.5 275.65 C336.64 275.68 343.07 275.81 347.35 275.8 C351.63 275.8 355.92 275.54 360.2 275.62 C364.48 275.69 368.77 276.13 373.05 276.26 C377.33 276.39 381.62 276.44 385.9 276.41 C390.18 276.37 394.47 276.12 398.75 276.07 C403.03 276.02 409.46 276.09 411.6 276.1" stroke="#8a8a8a" stroke-width="0.5" fill="none"/>
<path d="M334.5 276.47 C336.64 276.38 343.07 276.07 347.35 275.93 C351.63 275.79 355.92 275.56 360.2 275.62 C364.48 275.68 368.77 276.1 373.05 276.28 C377.33 276.46 381.62 276.57 385.9 276.68 C390.18 276.78 394.47 276.9 398.75 276.91 C403.03 276.91 409.46 276.72 411.6 276.69" stroke="#111" stroke-width="0.7" fill="none"/>
<path d="M334.5 277.33 C336.64 277.33 343.07 277.43 347.35 277.31 C351.63 277.2 355.92 276.53 360.2 276.64 C364.48 276.76 368.77 277.8 373.05 278.01 C377.33 278.23 381.62 277.9 385.9 277.92 C390.18 277.94 394.47 278.22 398.75 278.11 C403.03 278.01 409.46 277.43 411.6 277.29" stroke="#737373" stroke-width="0.45" fill="none"/>
<path d="M334.5 278.66 C336.64 278.72 343.07 278.96 347.35 279.03 C351.63 279.1 355.92 279.24 360.2 279.1 C364.48 278.95 368.77 278.23 373.05 278.17 C377.33 278.11 381.62 278.65 385.9 278.73 C390.18 278.82 394.47 278.87 398.75 278.67 C403.03 278.47 409.46 277.73 411.6 277.54" stroke="#0a0a0a" stroke-width="0.7" fill="none"/>
<path d="M334.5 279.13 C336.64 279.29 343.07 279.96 347.35 280.08 C351.63 280.2 355.92 280.16 360.2 279.87 C364.48 279.59 368.77 278.51 373.05 278.39 C377.33 278.27 381.62 278.92 385.9 279.15 C390.18 279.37 394.47 279.67 398.75 279.75 C403.03 279.82 409.46 279.62 411.6 279.6" stroke="#5a5a5a" stroke-width="0.4" fill="none"/>
<path d="M334.5 279.77 C336.64 279.82 343.07 280.18 347.35 280.07 C351.63 279.96 355.92 279.01 360.2 279.11 C364.48 279.21 368.77 280.53 373.05 280.66 C377.33 280.79 381.62 279.89 385.9 279.88 C390.18 279.87 394.47 280.59 398.75 280.58 C403.03 280.57 409.46 279.95 411.6 279.83" stroke="#050505" stroke-width="0.9" fill="none"/>
<path d="M334.5 280.37 C336.64 280.41 343.07 280.46 347.35 280.58 C351.63 280.71 355.92 281.03 360.2 281.12 C364.48 281.22 368.77 281.08 373.05 281.15 C377.33 281.22 381.62 281.63 385.9 281.54 C390.18 281.44 394.47 280.69 398.75 280.59 C403.03 280.5 409.46 280.91 411.6 280.97" stroke="#8a8a8a" stroke-width="0.5" fill="none"/>
<path d="M334.5 281.11 C336.64 280.98 343.07 280.37 347.35 280.35 C351.63 280.32 355.92 280.78 360.2 280.95 C364.48 281.13 368.77 281.48 373.05 281.39 C377.33 281.29 381.62 280.63 385.9 280.36 C390.18 280.09 394.47 279.78 398.75 279.78 C403.03 279.79 409.46 280.3 411.6 280.4" stroke="#111" stroke-width="0.7" fill="none"/>
<path d="M334.5 281.85 C336.64 281.86 343.07 282.1 347.35 281.9 C351.63 281.71 355.92 280.69 360.2 280.68 C364.48 280.67 368.77 281.83 373.05 281.85 C377.33 281.87 381.62 281.05 385.9 280.83 C390.18 280.61 394.47 280.45 398.75 280.51 C403.03 280.57 409.46 281.07 411.6 281.18" stroke="#737373" stroke-width="0.45" fill="none"/>
<path d="M334.5 283.5 C336.64 283.62 343.07 284.24 347.35 284.22 C351.63 284.2 355.92 283.66 360.2 283.38 C364.48 283.1 368.77 282.64 373.05 282.52 C377.33 282.41 381.62 282.61 385.9 282.68 C390.18 282.76 394.47 282.91 398.75 282.98 C403.03 283.04 409.46 283.04 411.6 283.05" stroke="#0a0a0a" stroke-width="0.7" fill="none"/>
<path d="M334.5 283.97 C336.64 284.06 343.07 284.43 347.35 284.49 C351.63 284.54 355.92 284.46 360.2 284.3 C364.48 284.14 368.77 283.59 373.05 283.52 C377.33 283.45 381.62 283.85 385.9 283.89 C390.18 283.94 394.47 283.78 398.75 283.8 C403.03 283.83 409.46 284.02 411.6 284.06" stroke="#5a5a5a" stroke-width="0.4" fill="none"/>
<path d="M334.5 284.31 C336.64 284.3 343.07 284.29 347.35 284.22 C351.63 284.15 355.92 284.11 360.2 283.89 C364.48 283.67 368.77 282.81 373.05 282.87 C377.33 282.94 381.62 284.15 385.9 284.28 C390.18 284.41 394.47 283.8 398.75 283.64 C403.03 283.47 409.46 283.35 411.6 283.3" stroke="#050505" stroke-width="0.9" fill="none"/>
<path d="M334.5 285.49 C336.64 285.57 343.07 285.79 347.35 285.96 C351.63 286.12 355.92 286.6 360.2 286.48 C364.48 286.37 368.77 285.45 373.05 285.25 C377.33 285.06 381.62 285.41 385.9 285.29 C390.18 285.17 394.47 284.48 398.75 284.51 C403.03 284.55 409.46 285.34 411.6 285.51" stroke="#8a8a8a" stroke-width="0.5" fill="none"/>
<path d="M334.5 286.21 C336.64 286.23 343.07 286.17 347.35 286.31 C351.63 286.46 355.92 287.25 360.2 287.1 C364.48 286.96 368.77 285.72 373.05 285.45 C377.33 285.17 381.62 285.29 385.9 285.46 C390.18 285.62 394.47 286.34 398.75 286.42 C403.03 286.49 409.46 285.98 411.6 285.89" stroke="#111" stroke-width="0.7" fill="none"/>
<path d="M334.5 287.12 C336.64 286.96 343.07 286.22 347.35 286.14 C351.63 286.07 355.92 286.46 360.2 286.68 C364.48 286.91 368.77 287.49 373.05 287.51 C377.33 287.52 381.62 286.91 385.9 286.76 C390.18 286.61 394.47 286.63 398.75 286.6 C403.03 286.57 409.46 286.59 411.6 286.58" stroke="#737373" stroke-width="0.45" fill="none"/>
<path d="M334.5 287.71 C336.64 287.74 343.07 287.82 347.35 287.87 C351.63 287.92 355.92 287.95 360.2 288.03 C364.48 288.1 368.77 288.33 373.05 288.33 C377.33 288.34 381.62 288.24 385.9 288.07 C390.18 287.89 394.47 287.38 398.75 287.28 C403.03 287.18 409.46 287.46 411.6 287.49" stroke="#0a0a0a" stroke-width="0.7" fill="none"/>
<path d="M334.5 288.3 C336.64 288.4 343.07 288.75 347.35 288.9 C351.63 289.05 355.92 289.38 360.2 289.19 C364.48 289 368.77 287.77 373.05 287.75 C377.33 287.73 381.62 288.83 385.9 289.07 C390.18 289.31 394.47 289.29 398.75 289.18 C403.03 289.07 409.46 288.54 411.6 288.42" stroke="#5a5a5a" stroke-width="0.4" fill="none"/>
<path d="M334.5 288.62 C336.64 288.64 343.07 288.9 347.35 288.74 C351.63 288.57 355.92 287.59 360.2 287.61 C364.48 287.62 368.77 288.83 373.05 288.82 C377.33 288.81 381.62 287.64 385.9 287.54 C390.18 287.44 394.47 288.19 398.75 288.22 C403.03 288.24 409.46 287.79 411.6 287.7" stroke="#050505" stroke-width="0.9" fill="none"/>
<path d="M334.5 289.72 C336.64 289.6 343.07 289.01 347.35 288.95 C351.63 288.89 355.92 289.24 360.2 289.35 C364.48 289.45 368.77 289.75 373.05 289.59 C377.33 289.44 381.62 288.48 385.9 288.41 C390.18 288.34 394.47 289.13 398.75 289.16 C403.03 289.2 409.46 288.7 411.6 288.6" stroke="#8a8a8a" stroke-width="0.5" fill="none"/>
<path d="M334.5 290.59 C336.64 290.54 343.07 290.41 347.35 290.3 C351.63 290.19 355.92 290.01 360.2 289.92 C364.48 289.84 368.77 289.84 373.05 289.79 C377.33 289.73 381.62 289.42 385.9 289.59 C390.18 289.77 394.47 290.7 398.75 290.84 C403.03 290.98 409.46 290.49 411.6 290.42" stroke="#111" stroke-width="0.7" fill="none"/>
<path d="M334.5 291.44 C336.64 291.53 343.07 292 347.35 291.98 C351.63 291.96 355.92 291.67 360.2 291.31 C364.48 290.95 368.77 289.87 373.05 289.82 C377.33 289.77 381.62 290.89 385.9 291.01 C390.18 291.12 394.47 290.67 398.75 290.52 C403.03 290.38 409.46 290.18 411.6 290.11" stroke="#737373" stroke-width="0.45" fill="none"/>
<path d="M334.5 292.4 C336.64 292.54 343.07 293.31 347.35 293.24 C351.63 293.17 355.92 292.11 360.2 291.98 C364.48 291.84 368.77 292.36 373.05 292.42 C377.33 292.48 381.62 292.45 385.9 292.33 C390.18 292.22 394.47 291.78 398.75 291.71 C403.03 291.64 409.46 291.87 411.6 291.9" stroke="#0a0a0a" stroke-width="0.7" fill="none"/>
<path d="M334.5 293.01 C336.64 293.06 343.07 293.31 347.35 293.29 C351.63 293.28 355.92 292.98 360.2 292.95 C364.48 292.91 368.77 293.15 373.05 293.07 C377.33 293 381.62 292.41 385.9 292.5 C390.18 292.6 394.47 293.55 398.75 293.64 C403.03 293.74 409.46 293.17 411.6 293.07" stroke="#5a5a5a" stroke-width="0.4" fill="none"/>
<path d="M334.5 293.22 C336.64 293.2 343.07 293.2 347.35 293.09 C351.63 292.99 355.92 292.56 360.2 292.6 C364.48 292.63 368.77 293.19 373.05 293.3 C377.33 293.41 381.62 293.44 385.9 293.26 C390.18 293.08 394.47 292.27 398.75 292.24 C403.03 292.2 409.46 292.9 411.6 293.03" stroke="#050505" stroke-width="0.9" fill="none"/>
<path d="M334.5 294.52 C336.64 294.59 343.07 295.04 347.35 294.91 C351.63 294.79 355.92 293.99 360.2 293.76 C364.48 293.54 368.77 293.66 373.05 293.56 C377.33 293.45 381.62 293.29 385.9 293.13 C390.18 292.96 394.47 292.56 398.75 292.59 C403.03 292.61 409.46 293.17 411.6 293.28" stroke="#8a8a8a" stroke-width="0.5" fill="none"/>
<path d="M334.5 295.11 C336.64 295.12 343.07 295.1 347.35 295.15 C351.63 295.2 355.92 295.59 360.2 295.39 C364.48 295.18 368.77 294.24 373.05 293.92 C377.33 293.61 381.62 293.46 385.9 293.49 C390.18 293.53 394.47 294.07 398.75 294.13 C403.03 294.19 409.46 293.89 411.6 293.85" stroke="#111" stroke-width="0.7" fill="none"/>
<path d="M334.5 295.84 C336.64 295.91 343.07 296.39 347.35 296.25 C351.63 296.11 355.92 295.07 360.2 295.01 C364.48 294.95 368.77 295.82 373.05 295.89 C377.33 295.96 381.62 295.69 385.9 295.45 C390.18 295.21 394.47 294.48 398.75 294.42 C403.03 294.37 409.46 295.02 411.6 295.14" stroke="#737373" stroke-width="0.45" fill="none"/>
<path d="M334.5 296.87 C336.64 296.73 343.07 296.13 347.35 296.02 C351.63 295.91 355.92 296.04 360.2 296.19 C364.48 296.33 368.77 296.7 373.05 296.89 C377.33 297.08 381.62 297.36 385.9 297.32 C390.18 297.29 394.47 296.8 398.75 296.68 C403.03 296.56 409.46 296.61 411.6 296.59" stroke="#0a0a0a" stroke-width="0.7" fill="none"/>
<path d="M334.5 297.91 C336.64 297.8 343.07 297.4 347.35 297.25 C351.63 297.1 355.92 296.9 360.2 297.02 C364.48 297.13 368.77 298.02 373.05 297.94 C377.33 297.87 381.62 296.7 385.9 296.57 C390.18 296.44 394.47 297.2 398.75 297.16 C403.03 297.12 409.46 296.47 411.6 296.33" stroke="#5a5a5a" stroke-width="0.4" fill="none"/>
<path d="M334.5 297.87 C336.64 297.98 343.07 298.5 347.35 298.57 C351.63 298.63 355.92 298.37 360.2 298.24 C364.48 298.11 368.77 298 373.05 297.78 C377.33 297.55 381.62 296.81 385.9 296.9 C390.18 296.98 394.47 298.22 398.75 298.3 C403.03 298.38 409.46 297.52 411.6 297.36" stroke="#050505" stroke-width="0.9" fill="none"/>
<path d="M334.5 298.83 C336.64 298.94 343.07 299.37 347.35 299.47 C351.63 299.57 355.92 299.5 360.2 299.45 C364.48 299.39 368.77 299.31 373.05 299.15 C377.33 299 381.62 298.54 385.9 298.51 C390.18 298.47 394.47 298.81 398.75 298.95 C403.03 299.09 409.46 299.29 411.6 299.35" stroke="#8a8a8a" stroke-width="0.5" fill="none"/>
<path d="M334.5 300.13 C336.64 300.09 343.07 299.8 347.35 299.89 C351.63 299.98 355.92 300.81 360.2 300.68 C364.48 300.56 368.77 299.34 373.05 299.16 C377.33 298.98 381.62 299.6 385.9 299.6 C390.18 299.61 394.47 299.12 398.75 299.18 C403.03 299.25 409.46 299.85 411.6 299.98" stroke="#111" stroke-width="0.7" fill="none"/>
<path d="M334.5 300.65 C336.64 300.74 343.07 301.29 347.35 301.18 C351.63 301.07 355.92 300.14 360.2 300 C364.48 299.86 368.77 300.35 373.05 300.34 C377.33 300.34 381.62 299.85 385.9 299.97 C390.18 300.1 394.47 300.96 398.75 301.1 C403.03 301.23 409.46 300.85 411.6 300.8" stroke="#737373" stroke-width="0.45" fill="none"/>
<path d="M334.5 301.67 C336.64 301.6 343.07 301.18 347.35 301.24 C351.63 301.3 355.92 302.08 360.2 302.04 C364.48 302 368.77 301.1 373.05 300.98 C377.33 300.86 381.62 301.32 385.9 301.33 C390.18 301.34 394.47 301.14 398.75 301.02 C403.03 300.9 409.46 300.66 411.6 300.58" stroke="#0a0a0a" stroke-width="0.7" fill="none"/>
<path d="M334.5 302.39 C336.64 302.34 343.07 302.18 347.35 302.06 C351.63 301.94 355.92 301.64 360.2 301.67 C364.48 301.69 368.77 302.18 373.05 302.2 C377.33 302.21 381.62 301.83 385.9 301.75 C390.18 301.68 394.47 301.7 398.75 301.74 C403.03 301.79 409.46 301.97 411.6 302.02" stroke="#5a5a5a" stroke-width="0.4" fill="none"/>
<path d="M334.5 302.63 C336.64 302.62 343.07 302.63 347.35 302.55 C351.63 302.47 355.92 302.27 360.2 302.17 C364.48 302.06 368.77 301.87 373.05 301.9 C377.33 301.92 381.62 302.03 385.9 302.33 C390.18 302.63 394.47 303.59 398.75 303.71 C403.03 303.83 409.46 303.15 411.6 303.04" stroke="#050505" stroke-width="0.9" fill="none"/>
<path d="M334.5 303.68 C336.64 303.58 343.07 303.07 347.35 303.12 C351.63 303.16 355.92 303.87 360.2 303.93 C364.48 304 368.77 303.49 373.05 303.51 C377.33 303.53 381.62 304.04 385.9 304.06 C390.18 304.08 394.47 303.71 398.75 303.62 C403.03 303.54 409.46 303.56 411.6 303.55" stroke="#8a8a8a" stroke-width="0.5" fill="none"/>
<path d="M334.5 304.54 C336.64 304.55 343.07 304.51 347.35 304.57 C351.63 304.62 355.92 304.9 360.2 304.88 C364.48 304.86 368.77 304.61 373.05 304.43 C377.33 304.26 381.62 304.02 385.9 303.85 C390.18 303.67 394.47 303.43 398.75 303.38 C403.03 303.33 409.46 303.53 411.6 303.56" stroke="#111" stroke-width="0.7" fill="none"/>
<path d="M334.5 305.75 C336.64 305.63 343.07 305.01 347.35 305.08 C351.63 305.15 355.92 305.97 360.2 306.19 C364.48 306.41 368.77 306.41 373.05 306.42 C377.33 306.43 381.62 306.19 385.9 306.27 C390.18 306.35 394.47 306.94 398.75 306.89 C403.03 306.85 409.46 306.15 411.6 306.01" stroke="#737373" stroke-width="0.45" fill="none"/>
<path d="M334.5 306.66 C336.64 306.8 343.07 307.6 347.35 307.48 C351.63 307.36 355.92 306.23 360.2 305.97 C364.48 305.7 368.77 305.74 373.05 305.89 C377.33 306.05 381.62 307.04 385.9 306.91 C390.18 306.78 394.47 305.33 398.75 305.12 C403.03 304.9 409.46 305.52 411.6 305.6" stroke="#0a0a0a" stroke-width="0.7" fill="none"/>
<path d="M334.5 306.97 C336.64 306.89 343.07 306.57 347.35 306.48 C351.63 306.39 355.92 306.27 360.2 306.43 C364.48 306.59 368.77 307.35 373.05 307.45 C377.33 307.55 381.62 307.08 385.9 307.05 C390.18 307.02 394.47 307.32 398.75 307.27 C403.03 307.22 409.46 306.84 411.6 306.75" stroke="#5a5a5a" stroke-width="0.4" fill="none"/>
<path d="M334.5 307.75 C336.64 307.89 343.07 308.47 347.35 308.59 C351.63 308.72 355.92 308.46 360.2 308.5 C364.48 308.55 368.77 308.96 373.05 308.87 C377.33 308.78 381.62 308.04 385.9 307.96 C390.18 307.89 394.47 308.4 398.75 308.42 C403.03 308.44 409.46 308.13 411.6 308.07" stroke="#050505" stroke-width="0.9" fill="none"/>
<path d="M334.5 308.46 C336.64 308.53 343.07 308.85 347.35 308.86 C351.63 308.86 355.92 308.47 360.2 308.5 C364.48 308.53 368.77 309.07 373.05 309.05 C377.33 309.04 381.62 308.55 385.9 308.4 C390.18 308.26 394.47 308.06 398.75 308.16 C403.03 308.26 409.46 308.85 411.6 308.99" stroke="#8a8a8a" stroke-width="0.5" fill="none"/>
<path d="M334.5 309.19 C336.64 308.99 343.07 308.19 347.35 307.98 C351.63 307.78 355.92 307.87 360.2 307.94 C364.48 308.02 368.77 308.3 373.05 308.45 C377.33 308.6 381.62 309.06 385.9 308.85 C390.18 308.65 394.47 307.37 398.75 307.21 C403.03 307.05 409.46 307.78 411.6 307.89" stroke="#111" stroke-width="0.7" fill="none"/>
<path d="M334.5 310.18 C336.64 310.15 343.07 310.12 347.35 309.98 C351.63 309.83 355.92 309.42 360.2 309.32 C364.48 309.22 368.77 309.33 373.05 309.4 C377.33 309.46 381.62 309.79 385.9 309.7 C390.18 309.62 394.47 309.02 398.75 308.88 C403.03 308.73 409.46 308.84 411.6 308.83" stroke="#737373" stroke-width="0.45" fill="none"/>
<path d="M334.5 310.91 C336.64 310.79 343.07 310.2 347.35 310.15 C351.63 310.1 355.92 310.42 360.2 310.61 C364.48 310.81 368.77 311.16 373.05 311.32 C377.33 311.48 381.62 311.49 385.9 311.59 C390.18 311.68 394.47 311.99 398.75 311.87 C403.03 311.76 409.46 311.08 411.6 310.92" stroke="#0a0a0a" stroke-width="0.7" fill="none"/>
<path d="M334.5 311.5 C336.64 311.43 343.07 311.03 347.35 311.09 C351.63 311.14 355.92 311.67 360.2 311.83 C364.48 312 368.77 312.28 373.05 312.08 C377.33 311.88 381.62 310.8 385.9 310.62 C390.18 310.44 394.47 310.9 398.75 311 C403.03 311.11 409.46 311.23 411.6 311.28" stroke="#5a5a5a" stroke-width="0.4" fill="none"/>
<path d="M334.5 312.51 C336.64 312.53 343.07 312.58 347.35 312.64 C351.63 312.7 355.92 313.03 360.2 312.87 C364.48 312.71 368.77 311.71 373.05 311.65 C377.33 311.6 381.62 312.66 385.9 312.53 C390.18 312.39 394.47 310.97 398.75 310.83 C403.03 310.69 409.46 311.54 411.6 311.68" stroke="#050505" stroke-width="0.9" fill="none"/>
<path d="M334.5 312.96 C336.64 312.87 343.07 312.61 347.35 312.45 C351.63 312.28 355.92 312.15 360.2 311.98 C364.48 311.8 368.77 311.27 373.05 311.39 C377.33 311.52 381.62 312.76 385.9 312.74 C390.18 312.73 394.47 311.45 398.75 311.28 C403.03 311.11 409.46 311.65 411.6 311.73" stroke="#8a8a8a" stroke-width="0.5" fill="none"/>
<path d="M334.5 313.98 C336.64 314.09 343.07 314.52 347.35 314.62 C351.63 314.71 355.92 314.65 360.2 314.55 C364.48 314.45 368.77 314.28 373.05 314.03 C377.33 313.79 381.62 313.04 385.9 313.07 C390.18 313.09 394.47 314.1 398.75 314.19 C403.03 314.28 409.46 313.7 411.6 313.6" stroke="#111" stroke-width="0.7" fill="none"/>
<path d="M334.5 314.39 C336.64 314.34 343.07 314.14 347.35 314.08 C351.63 314.02 355.92 314.05 360.2 314.04 C364.48 314.04 368.77 313.97 373.05 314.04 C377.33 314.12 381.62 314.26 385.9 314.48 C390.18 314.69 394.47 315.28 398.75 315.34 C403.03 315.4 409.46 314.92 411.6 314.83" stroke="#737373" stroke-width="0.45" fill="none"/>
<path d="M334.5 315.92 C336.64 316 343.07 316.47 347.35 316.39 C351.63 316.31 355.92 315.56 360.2 315.43 C364.48 315.29 368.77 315.56 373.05 315.59 C377.33 315.61 381.62 315.52 385.9 315.56 C390.18 315.6 394.47 315.76 398.75 315.83 C403.03 315.89 409.46 315.94 411.6 315.97" stroke="#0a0a0a" stroke-width="0.7" fill="none"/>
<path d="M334.5 316.64 C336.64 316.51 343.07 315.71 347.35 315.9 C351.63 316.09 355.92 317.45 360.2 317.76 C364.48 318.07 368.77 317.9 373.05 317.77 C377.33 317.63 381.62 316.99 385.9 316.95 C390.18 316.91 394.47 317.47 398.75 317.51 C403.03 317.56 409.46 317.27 411.6 317.23" stroke="#5a5a5a" stroke-width="0.4" fill="none"/>
<path d="M334.5 317.03 C336.64 317.03 343.07 316.97 347.35 317.06 C351.63 317.16 355.92 317.57 360.2 317.59 C364.48 317.62 368.77 317.28 373.05 317.19 C377.33 317.1 381.62 317.39 385.9 317.06 C390.18 316.73 394.47 315.41 398.75 315.21 C403.03 315 409.46 315.73 411.6 315.84" stroke="#050505" stroke-width="0.9" fill="none"/>
<path d="M334.5 317.9 C336.64 318.02 343.07 318.77 347.35 318.63 C351.63 318.49 355.92 317.21 360.2 317.06 C364.48 316.91 368.77 317.78 373.05 317.73 C377.33 317.69 381.62 316.73 385.9 316.79 C390.18 316.84 394.47 317.97 398.75 318.07 C403.03 318.16 409.46 317.49 411.6 317.37" stroke="#8a8a8a" stroke-width="0.5" fill="none"/>
<path d="M334.5 318.74 C336.64 318.64 343.07 318.31 347.35 318.11 C351.63 317.9 355.92 317.49 360.2 317.51 C364.48 317.54 368.77 318.17 373.05 318.25 C377.33 318.32 381.62 318.26 385.9 317.98 C390.18 317.7 394.47 316.72 398.75 316.59 C403.03 316.46 409.46 317.11 411.6 317.21" stroke="#111" stroke-width="0.7" fill="none"/>
<path d="M334.5 319.71 C336.64 319.71 343.07 319.63 347.35 319.68 C351.63 319.74 355.92 320.03 360.2 320.04 C364.48 320.04 368.77 319.66 373.05 319.7 C377.33 319.74 381.62 320.23 385.9 320.27 C390.18 320.31 394.47 319.95 398.75 319.95 C403.03 319.94 409.46 320.19 411.6 320.24" stroke="#737373" stroke-width="0.45" fill="none"/>
<path d="M334.5 320.23 C336.64 320.13 343.07 319.68 347.35 319.61 C351.63 319.55 355.92 319.65 360.2 319.85 C364.48 320.04 368.77 320.81 373.05 320.78 C377.33 320.76 381.62 319.94 385.9 319.72 C390.18 319.49 394.47 319.32 398.75 319.41 C403.03 319.51 409.46 320.14 411.6 320.28" stroke="#0a0a0a" stroke-width="0.7" fill="none"/>
<path d="M334.5 321.31 C336.64 321.24 343.07 321.05 347.35 320.92 C351.63 320.79 355.92 320.64 360.2 320.52 C364.48 320.4 368.77 320.26 373.05 320.2 C377.33 320.15 381.62 320.15 385.9 320.18 C390.18 320.2 394.47 320.36 398.75 320.34 C403.03 320.32 409.46 320.1 411.6 320.06" stroke="#5a5a5a" stroke-width="0.4" fill="none"/>
<path d="M334.5 321.13 C336.64 320.97 343.07 320.33 347.35 320.16 C351.63 320 355.92 320.12 360.2 320.15 C364.48 320.18 368.77 320.29 373.05 320.32 C377.33 320.35 381.62 320.31 385.9 320.33 C390.18 320.35 394.47 320.4 398.75 320.46 C403.03 320.52 409.46 320.67 411.6 320.71" stroke="#050505" stroke-width="0.9" fill="none"/>
<path d="M334.5 322.2 C336.64 322.26 343.07 322.55 347.35 322.56 C351.63 322.56 355.92 322.18 360.2 322.23 C364.48 322.28 368.77 322.78 373.05 322.86 C377.33 322.95 381.62 322.87 385.9 322.73 C390.18 322.59 394.47 322.08 398.75 322.03 C403.03 321.98 409.46 322.37 411.6 322.44" stroke="#8a8a8a" stroke-width="0.5" fill="none"/>
<path d="M334.5 323.3 C336.64 323.31 343.07 323.28 347.35 323.37 C351.63 323.46 355.92 323.78 360.2 323.81 C364.48 323.85 368.77 323.52 373.05 323.58 C377.33 323.64 381.62 324.3 385.9 324.18 C390.18 324.06 394.47 323 398.75 322.86 C403.03 322.72 409.46 323.26 411.6 323.34" stroke="#111" stroke-width="0.7" fill="none"/>
<path d="M334.5 324.13 C336.64 324.15 343.07 324.11 347.35 324.28 C351.63 324.44 355.92 325.24 360.2 325.12 C364.48 325.01 368.77 323.62 373.05 323.59 C377.33 323.56 381.62 324.85 385.9 324.94 C390.18 325.03 394.47 324.16 398.75 324.12 C403.03 324.07 409.46 324.58 411.6 324.68" stroke="#737373" stroke-width="0.45" fill="none"/>
<path d="M334.5 325.12 C336.64 325.11 343.07 325.2 347.35 325.08 C351.63 324.96 355.92 324.52 360.2 324.39 C364.48 324.26 368.77 324.13 373.05 324.3 C377.33 324.47 381.62 325.31 385.9 325.41 C390.18 325.5 394.47 325.01 398.75 324.85 C403.03 324.69 409.46 324.52 411.6 324.45" stroke="#0a0a0a" stroke-width="0.7" fill="none"/>
<path d="M334.5 325.72 C336.64 325.61 343.07 325 347.35 325.08 C351.63 325.16 355.92 326.31 360.2 326.21 C364.48 326.1 368.77 324.67 373.05 324.45 C377.33 324.23 381.62 324.81 385.9 324.9 C390.18 324.99 394.47 325.08 398.75 324.99 C403.03 324.9 409.46 324.48 411.6 324.37" stroke="#5a5a5a" stroke-width="0.4" fill="none"/>
<path d="M334.5 326.09 C336.64 326.23 343.07 326.89 347.35 326.97 C351.63 327.04 355.92 326.79 360.2 326.52 C364.48 326.26 368.77 325.51 373.05 325.37 C377.33 325.23 381.62 325.66 385.9 325.7 C390.18 325.73 394.47 325.61 398.75 325.61 C403.03 325.61 409.46 325.69 411.6 325.71" stroke="#050505" stroke-width="0.9" fill="none"/>
<path d="M334.5 327.16 C336.64 327.07 343.07 326.6 347.35 326.66 C351.63 326.72 355.92 327.45 360.2 327.5 C364.48 327.55 368.77 327.19 373.05 326.96 C377.33 326.73 381.62 326.16 385.9 326.11 C390.18 326.06 394.47 326.49 398.75 326.64 C403.03 326.8 409.46 326.97 411.6 327.04" stroke="#8a8a8a" stroke-width="0.5" fill="none"/>
<path d="M334.5 327.74 C336.64 327.77 343.07 327.79 347.35 327.89 C351.63 327.99 355.92 328.32 360.2 328.34 C364.48 328.36 368.77 328.21 373.05 328.02 C377.33 327.84 381.62 327.32 385.9 327.23 C390.18 327.14 394.47 327.59 398.75 327.49 C403.03 327.38 409.46 326.73 411.6 326.58" stroke="#111" stroke-width="0.7" fill="none"/>
<path d="M334.5 328.63 C336.64 328.75 343.07 329.53 347.35 329.36 C351.63 329.2 355.92 327.84 360.2 327.64 C364.48 327.45 368.77 328.11 373.05 328.2 C377.33 328.28 381.62 328.19 385.9 328.17 C390.18 328.14 394.47 328.02 398.75 328.05 C403.03 328.07 409.46 328.27 411.6 328.32" stroke="#737373" stroke-width="0.45" fill="none"/>
<path d="M334.5 329.5 C336.64 329.52 343.07 329.54 347.35 329.61 C351.63 329.69 355.92 330.15 360.2 329.92 C364.48 329.69 368.77 328.57 373.05 328.23 C377.33 327.89 381.62 327.94 385.9 327.89 C390.18 327.84 394.47 327.92 398.75 327.94 C403.03 327.97 409.46 328.01 411.6 328.03" stroke="#0a0a0a" stroke-width="0.7" fill="none"/>
<path d="M334.5 330.49 C336.64 330.55 343.07 331.02 347.35 330.85 C351.63 330.68 355.92 329.59 360.2 329.47 C364.48 329.35 368.77 330.01 373.05 330.13 C377.33 330.25 381.62 330.24 385.9 330.2 C390.18 330.17 394.47 330.06 398.75 329.92 C403.03 329.79 409.46 329.48 411.6 329.39" stroke="#5a5a5a" stroke-width="0.4" fill="none"/>
<path d="M334.5 330.39 C336.64 330.52 343.07 331.15 347.35 331.17 C351.63 331.19 355.92 330.49 360.2 330.52 C364.48 330.55 368.77 331.29 373.05 331.36 C377.33 331.43 381.62 331.13 385.9 330.93 C390.18 330.72 394.47 330.15 398.75 330.15 C403.03 330.14 409.46 330.77 411.6 330.89" stroke="#050505" stroke-width="0.9" fill="none"/>
<path d="M334.5 331.57 C336.64 331.56 343.07 331.67 347.35 331.53 C351.63 331.39 355.92 330.81 360.2 330.72 C364.48 330.63 368.77 330.94 373.05 331 C377.33 331.06 381.62 330.92 385.9 331.08 C390.18 331.23 394.47 331.79 398.75 331.91 C403.03 332.02 409.46 331.79 411.6 331.77" stroke="#8a8a8a" stroke-width="0.5" fill="none"/>
<path d="M334.5 332.6 C336.64 332.55 343.07 332.18 347.35 332.3 C351.63 332.42 355.92 333.37 360.2 333.32 C364.48 333.26 368.77 332.11 373.05 331.98 C377.33 331.85 381.62 332.61 385.9 332.53 C390.18 332.45 394.47 331.59 398.75 331.5 C403.03 331.4 409.46 331.9 411.6 331.98" stroke="#111" stroke-width="0.7" fill="none"/>
<path d="M334.5 333.28 C336.64 333.12 343.07 332.43 347.35 332.31 C351.63 332.19 355.92 332.62 360.2 332.56 C364.48 332.49 368.77 331.96 373.05 331.91 C377.33 331.86 381.62 332.13 385.9 332.24 C390.18 332.35 394.47 332.61 398.75 332.59 C403.03 332.56 409.46 332.16 411.6 332.08" stroke="#737373" stroke-width="0.45" fill="none"/>
<path d="M334.5 334.24 C336.64 334.24 343.07 334.35 347.35 334.22 C351.63 334.09 355.92 333.37 360.2 333.46 C364.48 333.55 368.77 334.65 373.05 334.77 C377.33 334.88 381.62 334.13 385.9 334.14 C390.18 334.16 394.47 334.83 398.75 334.87 C403.03 334.91 409.46 334.47 411.6 334.39" stroke="#0a0a0a" stroke-width="0.7" fill="none"/>
<path d="M334.5 335.28 C336.64 335.18 343.07 334.77 347.35 334.7 C351.63 334.63 355.92 334.79 360.2 334.84 C364.48 334.9 368.77 335.09 373.05 335.05 C377.33 335.01 381.62 334.77 385.9 334.62 C390.18 334.46 394.47 334.07 398.75 334.11 C403.03 334.14 409.46 334.71 411.6 334.83" stroke="#5a5a5a" stroke-width="0.4" fill="none"/>
<path d="M334.5 335.28 C336.64 335.38 343.07 335.81 347.35 335.88 C351.63 335.96 355.92 335.74 360.2 335.75 C364.48 335.76 368.77 335.96 373.05 335.97 C377.33 335.97 381.62 335.94 385.9 335.78 C390.18 335.61 394.47 335.08 398.75 334.97 C403.03 334.86 409.46 335.1 411.6 335.12" stroke="#050505" stroke-width="0.9" fill="none"/>
<path d="M334.5 336.4 C336.64 336.46 343.07 336.76 347.35 336.74 C351.63 336.73 355.92 336.58 360.2 336.33 C364.48 336.07 368.77 335.35 373.05 335.19 C377.33 335.03 381.62 335.44 385.9 335.36 C390.18 335.28 394.47 334.79 398.75 334.71 C403.03 334.64 409.46 334.89 411.6 334.92" stroke="#8a8a8a" stroke-width="0.5" fill="none"/>
<path d="M334.5 337.36 C336.64 337.43 343.07 337.71 347.35 337.81 C351.63 337.92 355.92 338.02 360.2 337.99 C364.48 337.95 368.77 337.8 373.05 337.58 C377.33 337.37 381.62 336.86 385.9 336.68 C390.18 336.5 394.47 336.49 398.75 336.49 C403.03 336.5 409.46 336.66 411.6 336.7" stroke="#111" stroke-width="0.7" fill="none"/>
<path d="M334.5 338.27 C336.64 338.18 343.07 337.74 347.35 337.71 C351.63 337.69 355.92 337.9 360.2 338.12 C364.48 338.34 368.77 338.89 373.05 339.04 C377.33 339.19 381.62 339.19 385.9 339.04 C390.18 338.89 394.47 338.22 398.75 338.16 C403.03 338.1 409.46 338.58 411.6 338.66" stroke="#737373" stroke-width="0.45" fill="none"/>
<path d="M334.5 338.8 C336.64 338.67 343.07 338.11 347.35 338.06 C351.63 338.02 355.92 338.3 360.2 338.52 C364.48 338.74 368.77 339.14 373.05 339.38 C377.33 339.62 381.62 339.83 385.9 339.96 C390.18 340.08 394.47 340.23 398.75 340.12 C403.03 340.01 409.46 339.45 411.6 339.31" stroke="#0a0a0a" stroke-width="0.7" fill="none"/>
<path d="M334.5 339.51 C336.64 339.67 343.07 340.53 347.35 340.48 C351.63 340.43 355.92 339.46 360.2 339.22 C364.48 338.98 368.77 339.05 373.05 339.04 C377.33 339.02 381.62 338.93 385.9 339.12 C390.18 339.32 394.47 340.1 398.75 340.19 C403.03 340.28 409.46 339.74 411.6 339.65" stroke="#5a5a5a" stroke-width="0.4" fill="none"/>
</g>
<path d="M408.2 235.6 L337.9 235.6 L337.9 235.6 Q333.1 237.92 337.9 240.24 L337.9 240.24 Q333.1 242.56 337.9 244.88 L337.9 244.88 Q333.1 247.2 337.9 249.52 L337.9 249.52 Q333.1 251.84 337.9 254.16 L337.9 254.16 Q333.1 256.48 337.9 258.8 L337.9 258.8 Q333.1 261.12 337.9 263.44 L337.9 263.44 Q333.1 265.76 337.9 268.08 L337.9 268.08 Q333.1 270.4 337.9 272.72 L337.9 272.72 Q333.1 275.04 337.9 277.36 L337.9 277.36 Q333.1 279.68 337.9 282 L337.9 282 Q333.1 284.32 337.9 286.64 L337.9 286.64 Q333.1 288.96 337.9 291.28 L337.9 291.28 Q333.1 293.6 337.9 295.92 L337.9 295.92 Q333.1 298.24 337.9 300.56 L337.9 300.56 Q333.1 302.88 337.9 305.2 L337.9 305.2 Q333.1 307.52 337.9 309.84 L337.9 309.84 Q333.1 312.16 337.9 314.48 L337.9 314.48 Q333.1 316.8 337.9 319.12 L337.9 319.12 Q333.1 321.44 337.9 323.76 L337.9 323.76 Q333.1 326.08 337.9 328.4 L337.9 328.4 Q333.1 330.72 337.9 333.04 L337.9 333.04 Q333.1 335.36 337.9 337.68 L408.2 340 L408.2 340 Q413 337.68 408.2 335.36 L408.2 335.36 Q413 333.04 408.2 330.72 L408.2 330.72 Q413 328.4 408.2 326.08 L408.2 326.08 Q413 323.76 408.2 321.44 L408.2 321.44 Q413 319.12 408.2 316.8 L408.2 316.8 Q413 314.48 408.2 312.16 L408.2 312.16 Q413 309.84 408.2 307.52 L408.2 307.52 Q413 305.2 408.2 302.88 L408.2 302.88 Q413 300.56 408.2 298.24 L408.2 298.24 Q413 295.92 408.2 293.6 L408.2 293.6 Q413 291.28 408.2 288.96 L408.2 288.96 Q413 286.64 408.2 284.32 L408.2 284.32 Q413 282 408.2 279.68 L408.2 279.68 Q413 277.36 408.2 275.04 L408.2 275.04 Q413 272.72 408.2 270.4 L408.2 270.4 Q413 268.08 408.2 265.76 L408.2 265.76 Q413 263.44 408.2 261.12 L408.2 261.12 Q413 258.8 408.2 256.48 L408.2 256.48 Q413 254.16 408.2 251.84 L408.2 251.84 Q413 249.52 408.2 247.2 L408.2 247.2 Q413 244.88 408.2 242.56 L408.2 242.56 Q413 240.24 408.2 237.92 L408.2 237.92 Q413 235.6 408.2 233.28 Z" fill="none" stroke="#000" stroke-width="1.4"/>
</g>
<clipPath id="th6"><rect x="342.3" y="318.4" width="61.3" height="21"/></clipPath>
<g clip-path="url(#th6)">
<rect x="342.3" y="318.4" width="61.3" height="21" fill="#2a2a2a"/>
<path d="M341.3 315.83 C343.41 315.62 349.74 314.54 353.96 314.62 C358.18 314.7 362.4 316.34 366.62 316.31 C370.84 316.27 375.06 314.8 379.28 314.42 C383.5 314.04 387.72 314.02 391.94 314.03 C396.16 314.05 402.49 314.45 404.6 314.54" stroke="#050505" stroke-width="0.9" fill="none"/>
<path d="M341.3 316.42 C343.41 316.52 349.74 317.18 353.96 317.03 C358.18 316.89 362.4 315.58 366.62 315.55 C370.84 315.52 375.06 316.86 379.28 316.84 C383.5 316.81 387.72 315.6 391.94 315.39 C396.16 315.18 402.49 315.55 404.6 315.58" stroke="#808080" stroke-width="0.5" fill="none"/>
<path d="M341.3 317.14 C343.41 317.21 349.74 317.43 353.96 317.6 C358.18 317.77 362.4 318.13 366.62 318.16 C370.84 318.2 375.06 318.09 379.28 317.82 C383.5 317.56 387.72 316.63 391.94 316.59 C396.16 316.55 402.49 317.42 404.6 317.59" stroke="#111" stroke-width="0.7" fill="none"/>
<path d="M341.3 318.08 C343.41 318 349.74 317.76 353.96 317.64 C358.18 317.51 362.4 317.17 366.62 317.33 C370.84 317.49 375.06 318.48 379.28 318.59 C383.5 318.7 387.72 318.14 391.94 318 C396.16 317.86 402.49 317.81 404.6 317.77" stroke="#6a6a6a" stroke-width="0.45" fill="none"/>
<path d="M341.3 318.96 C343.41 319.12 349.74 319.87 353.96 319.9 C358.18 319.93 362.4 319.21 366.62 319.13 C370.84 319.05 375.06 319.4 379.28 319.42 C383.5 319.44 387.72 319.33 391.94 319.27 C396.16 319.21 402.49 319.1 404.6 319.06" stroke="#0a0a0a" stroke-width="0.7" fill="none"/>
<path d="M341.3 319.05 C343.41 319 349.74 318.65 353.96 318.77 C358.18 318.9 362.4 319.56 366.62 319.81 C370.84 320.06 375.06 320.27 379.28 320.26 C383.5 320.25 387.72 319.87 391.94 319.75 C396.16 319.63 402.49 319.58 404.6 319.55" stroke="#555" stroke-width="0.4" fill="none"/>
<path d="M341.3 319.37 C343.41 319.44 349.74 319.84 353.96 319.75 C358.18 319.66 362.4 319.02 366.62 318.83 C370.84 318.64 375.06 318.47 379.28 318.6 C383.5 318.73 387.72 319.45 391.94 319.61 C396.16 319.77 402.49 319.59 404.6 319.59" stroke="#050505" stroke-width="0.9" fill="none"/>
<path d="M341.3 320.13 C343.41 320.14 349.74 320.19 353.96 320.23 C358.18 320.26 362.4 320.34 366.62 320.33 C370.84 320.33 375.06 320.13 379.28 320.21 C383.5 320.28 387.72 320.74 391.94 320.8 C396.16 320.86 402.49 320.6 404.6 320.56" stroke="#808080" stroke-width="0.5" fill="none"/>
<path d="M341.3 321.59 C343.41 321.52 349.74 321.19 353.96 321.15 C358.18 321.12 362.4 321.47 366.62 321.38 C370.84 321.3 375.06 320.69 379.28 320.63 C383.5 320.57 387.72 321.04 391.94 321.04 C396.16 321.05 402.49 320.73 404.6 320.67" stroke="#111" stroke-width="0.7" fill="none"/>
<path d="M341.3 322 C343.41 322.04 349.74 322.26 353.96 322.22 C358.18 322.19 362.4 322.04 366.62 321.8 C370.84 321.56 375.06 320.68 379.28 320.79 C383.5 320.91 387.72 322.39 391.94 322.48 C396.16 322.57 402.49 321.55 404.6 321.36" stroke="#6a6a6a" stroke-width="0.45" fill="none"/>
<path d="M341.3 322.69 C343.41 322.64 349.74 322.27 353.96 322.37 C358.18 322.47 362.4 323.15 366.62 323.29 C370.84 323.43 375.06 323.39 379.28 323.21 C383.5 323.03 387.72 322.39 391.94 322.2 C396.16 322 402.49 322.07 404.6 322.04" stroke="#0a0a0a" stroke-width="0.7" fill="none"/>
<path d="M341.3 323.36 C343.41 323.45 349.74 324.08 353.96 323.87 C358.18 323.67 362.4 322.36 366.62 322.15 C370.84 321.94 375.06 322.65 379.28 322.62 C383.5 322.59 387.72 322.06 391.94 321.95 C396.16 321.84 402.49 321.97 404.6 321.97" stroke="#555" stroke-width="0.4" fill="none"/>
<path d="M341.3 323.72 C343.41 323.59 349.74 323.15 353.96 322.94 C358.18 322.73 362.4 322.41 366.62 322.47 C370.84 322.53 375.06 323.11 379.28 323.31 C383.5 323.5 387.72 323.73 391.94 323.66 C396.16 323.6 402.49 323.03 404.6 322.91" stroke="#050505" stroke-width="0.9" fill="none"/>
<path d="M341.3 324.82 C343.41 324.84 349.74 325.2 353.96 324.97 C358.18 324.75 362.4 323.63 366.62 323.46 C370.84 323.29 375.06 323.76 379.28 323.95 C383.5 324.13 387.72 324.6 391.94 324.55 C396.16 324.5 402.49 323.81 404.6 323.66" stroke="#808080" stroke-width="0.5" fill="none"/>
<path d="M341.3 325.79 C343.41 325.89 349.74 326.41 353.96 326.37 C358.18 326.33 362.4 325.7 366.62 325.56 C370.84 325.41 375.06 325.5 379.28 325.49 C383.5 325.48 387.72 325.54 391.94 325.49 C396.16 325.45 402.49 325.25 404.6 325.21" stroke="#111" stroke-width="0.7" fill="none"/>
<path d="M341.3 326.56 C343.41 326.56 349.74 326.44 353.96 326.52 C358.18 326.59 362.4 326.97 366.62 327.03 C370.84 327.09 375.06 326.99 379.28 326.87 C383.5 326.75 387.72 326.34 391.94 326.3 C396.16 326.25 402.49 326.55 404.6 326.6" stroke="#6a6a6a" stroke-width="0.45" fill="none"/>
<path d="M341.3 327.24 C343.41 327.28 349.74 327.33 353.96 327.49 C358.18 327.66 362.4 328.39 366.62 328.2 C370.84 328.02 375.06 326.53 379.28 326.4 C383.5 326.26 387.72 327.23 391.94 327.4 C396.16 327.57 402.49 327.43 404.6 327.44" stroke="#0a0a0a" stroke-width="0.7" fill="none"/>
<path d="M341.3 327.75 C343.41 327.61 349.74 326.91 353.96 326.92 C358.18 326.93 362.4 327.76 366.62 327.79 C370.84 327.82 375.06 327.3 379.28 327.11 C383.5 326.91 387.72 326.64 391.94 326.61 C396.16 326.57 402.49 326.85 404.6 326.9" stroke="#555" stroke-width="0.4" fill="none"/>
<path d="M341.3 327.69 C343.41 327.66 349.74 327.6 353.96 327.5 C358.18 327.41 362.4 327.15 366.62 327.14 C370.84 327.13 375.06 327.36 379.28 327.44 C383.5 327.52 387.72 327.5 391.94 327.63 C396.16 327.76 402.49 328.12 404.6 328.22" stroke="#050505" stroke-width="0.9" fill="none"/>
<path d="M341.3 329.19 C343.41 329.08 349.74 328.72 353.96 328.51 C358.18 328.29 362.4 327.92 366.62 327.91 C370.84 327.89 375.06 328.45 379.28 328.41 C383.5 328.37 387.72 327.72 391.94 327.65 C396.16 327.58 402.49 327.93 404.6 327.99" stroke="#808080" stroke-width="0.5" fill="none"/>
<path d="M341.3 329.53 C343.41 329.67 349.74 330.27 353.96 330.38 C358.18 330.5 362.4 330.5 366.62 330.21 C370.84 329.91 375.06 328.77 379.28 328.62 C383.5 328.47 387.72 329.15 391.94 329.3 C396.16 329.46 402.49 329.51 404.6 329.55" stroke="#111" stroke-width="0.7" fill="none"/>
<path d="M341.3 330.65 C343.41 330.5 349.74 329.86 353.96 329.75 C358.18 329.64 362.4 330.06 366.62 330.02 C370.84 329.98 375.06 329.51 379.28 329.5 C383.5 329.48 387.72 329.99 391.94 329.93 C396.16 329.87 402.49 329.26 404.6 329.12" stroke="#6a6a6a" stroke-width="0.45" fill="none"/>
<path d="M341.3 331.38 C343.41 331.28 349.74 330.9 353.96 330.77 C358.18 330.64 362.4 330.65 366.62 330.61 C370.84 330.58 375.06 330.66 379.28 330.57 C383.5 330.48 387.72 330.01 391.94 330.05 C396.16 330.09 402.49 330.68 404.6 330.81" stroke="#0a0a0a" stroke-width="0.7" fill="none"/>
<path d="M341.3 331.97 C343.41 332.06 349.74 332.54 353.96 332.5 C358.18 332.47 362.4 332.12 366.62 331.76 C370.84 331.4 375.06 330.47 379.28 330.33 C383.5 330.2 387.72 330.9 391.94 330.97 C396.16 331.03 402.49 330.76 404.6 330.72" stroke="#555" stroke-width="0.4" fill="none"/>
<path d="M341.3 332.34 C343.41 332.29 349.74 332.27 353.96 332.01 C358.18 331.76 362.4 330.81 366.62 330.8 C370.84 330.79 375.06 332.08 379.28 331.97 C383.5 331.86 387.72 330.33 391.94 330.15 C396.16 329.96 402.49 330.72 404.6 330.84" stroke="#050505" stroke-width="0.9" fill="none"/>
<path d="M341.3 333.21 C343.41 333.34 349.74 334.06 353.96 334.01 C358.18 333.96 362.4 332.97 366.62 332.9 C370.84 332.83 375.06 333.61 379.28 333.62 C383.5 333.62 387.72 332.91 391.94 332.94 C396.16 332.97 402.49 333.63 404.6 333.77" stroke="#808080" stroke-width="0.5" fill="none"/>
<path d="M341.3 333.73 C343.41 333.85 349.74 334.57 353.96 334.43 C358.18 334.28 362.4 332.99 366.62 332.87 C370.84 332.74 375.06 333.44 379.28 333.67 C383.5 333.9 387.72 334.19 391.94 334.25 C396.16 334.31 402.49 334.07 404.6 334.03" stroke="#111" stroke-width="0.7" fill="none"/>
<path d="M341.3 334.31 C343.41 334.45 349.74 335.1 353.96 335.13 C358.18 335.16 362.4 334.65 366.62 334.48 C370.84 334.31 375.06 334.02 379.28 334.13 C383.5 334.24 387.72 335.08 391.94 335.14 C396.16 335.2 402.49 334.59 404.6 334.48" stroke="#6a6a6a" stroke-width="0.45" fill="none"/>
<path d="M341.3 335.42 C343.41 335.31 349.74 334.93 353.96 334.74 C358.18 334.55 362.4 334.16 366.62 334.26 C370.84 334.37 375.06 335.35 379.28 335.39 C383.5 335.42 387.72 334.68 391.94 334.49 C396.16 334.3 402.49 334.28 404.6 334.23" stroke="#0a0a0a" stroke-width="0.7" fill="none"/>
<path d="M341.3 336.2 C343.41 336.36 349.74 337.27 353.96 337.18 C358.18 337.09 362.4 335.83 366.62 335.66 C370.84 335.48 375.06 335.89 379.28 336.13 C383.5 336.37 387.72 337.06 391.94 337.1 C396.16 337.15 402.49 336.51 404.6 336.4" stroke="#555" stroke-width="0.4" fill="none"/>
<path d="M341.3 336.67 C343.41 336.7 349.74 336.98 353.96 336.83 C358.18 336.68 362.4 335.97 366.62 335.76 C370.84 335.55 375.06 335.64 379.28 335.54 C383.5 335.45 387.72 335.11 391.94 335.17 C396.16 335.23 402.49 335.8 404.6 335.92" stroke="#050505" stroke-width="0.9" fill="none"/>
<path d="M341.3 337.2 C343.41 337.17 349.74 336.94 353.96 337.02 C358.18 337.11 362.4 337.9 366.62 337.71 C370.84 337.52 375.06 336.07 379.28 335.86 C383.5 335.65 387.72 336.41 391.94 336.45 C396.16 336.5 402.49 336.18 404.6 336.12" stroke="#808080" stroke-width="0.5" fill="none"/>
<path d="M341.3 338.35 C343.41 338.35 349.74 338.28 353.96 338.35 C358.18 338.42 362.4 338.96 366.62 338.77 C370.84 338.58 375.06 337.18 379.28 337.22 C383.5 337.26 387.72 338.88 391.94 339.02 C396.16 339.16 402.49 338.22 404.6 338.06" stroke="#111" stroke-width="0.7" fill="none"/>
<path d="M341.3 338.92 C343.41 339.03 349.74 339.73 353.96 339.6 C358.18 339.48 362.4 338.43 366.62 338.19 C370.84 337.94 375.06 338.12 379.28 338.16 C383.5 338.2 387.72 338.26 391.94 338.42 C396.16 338.57 402.49 338.98 404.6 339.09" stroke="#6a6a6a" stroke-width="0.45" fill="none"/>
<path d="M341.3 339.61 C343.41 339.77 349.74 340.52 353.96 340.53 C358.18 340.53 362.4 339.69 366.62 339.62 C370.84 339.56 375.06 340 379.28 340.14 C383.5 340.28 387.72 340.47 391.94 340.46 C396.16 340.46 402.49 340.14 404.6 340.08" stroke="#0a0a0a" stroke-width="0.7" fill="none"/>
<path d="M341.3 340.11 C343.41 340.27 349.74 340.99 353.96 341.1 C358.18 341.21 362.4 340.75 366.62 340.77 C370.84 340.8 375.06 341.17 379.28 341.23 C383.5 341.29 387.72 341.23 391.94 341.14 C396.16 341.04 402.49 340.72 404.6 340.64" stroke="#555" stroke-width="0.4" fill="none"/>
<path d="M341.3 340.78 C343.41 340.68 349.74 340.31 353.96 340.17 C358.18 340.02 362.4 340.04 366.62 339.9 C370.84 339.77 375.06 339.19 379.28 339.36 C383.5 339.53 387.72 340.83 391.94 340.92 C396.16 341.01 402.49 340.06 404.6 339.89" stroke="#050505" stroke-width="0.9" fill="none"/>
<path d="M341.3 341.34 C343.41 341.23 349.74 340.9 353.96 340.66 C358.18 340.43 362.4 339.99 366.62 339.93 C370.84 339.87 375.06 340.33 379.28 340.3 C383.5 340.27 387.72 339.85 391.94 339.77 C396.16 339.68 402.49 339.79 404.6 339.79" stroke="#808080" stroke-width="0.5" fill="none"/>
<path d="M341.3 342 C343.41 341.95 349.74 341.8 353.96 341.72 C358.18 341.63 362.4 341.39 366.62 341.48 C370.84 341.58 375.06 342.34 379.28 342.29 C383.5 342.24 387.72 341.31 391.94 341.17 C396.16 341.03 402.49 341.4 404.6 341.45" stroke="#111" stroke-width="0.7" fill="none"/>
<path d="M341.3 343 C343.41 343.17 349.74 344.01 353.96 343.99 C358.18 343.97 362.4 343.17 366.62 342.89 C370.84 342.6 375.06 342.07 379.28 342.28 C383.5 342.5 387.72 343.99 391.94 344.17 C396.16 344.34 402.49 343.47 404.6 343.33" stroke="#6a6a6a" stroke-width="0.45" fill="none"/>
<path d="M341.3 343.82 C343.41 343.66 349.74 343.02 353.96 342.85 C358.18 342.69 362.4 342.86 366.62 342.85 C370.84 342.84 375.06 342.88 379.28 342.77 C383.5 342.66 387.72 342.21 391.94 342.2 C396.16 342.19 402.49 342.62 404.6 342.7" stroke="#0a0a0a" stroke-width="0.7" fill="none"/>
<path d="M341.3 344.08 C343.41 344.21 349.74 344.93 353.96 344.84 C358.18 344.75 362.4 343.61 366.62 343.54 C370.84 343.47 375.06 344.12 379.28 344.39 C383.5 344.66 387.72 345.11 391.94 345.15 C396.16 345.2 402.49 344.75 404.6 344.67" stroke="#555" stroke-width="0.4" fill="none"/>
<path d="M341.3 344.86 C343.41 344.76 349.74 344.39 353.96 344.25 C358.18 344.12 362.4 343.95 366.62 344.05 C370.84 344.14 375.06 344.85 379.28 344.82 C383.5 344.79 387.72 344.11 391.94 343.87 C396.16 343.64 402.49 343.49 404.6 343.42" stroke="#050505" stroke-width="0.9" fill="none"/>
<path d="M341.3 345.67 C343.41 345.51 349.74 344.67 353.96 344.72 C358.18 344.77 362.4 345.72 366.62 345.95 C370.84 346.19 375.06 346.17 379.28 346.16 C383.5 346.14 387.72 345.96 391.94 345.84 C396.16 345.72 402.49 345.52 404.6 345.45" stroke="#808080" stroke-width="0.5" fill="none"/>
<path d="M341.3 346.34 C343.41 346.15 349.74 345.37 353.96 345.17 C358.18 344.97 362.4 345.14 366.62 345.12 C370.84 345.1 375.06 345.01 379.28 345.07 C383.5 345.13 387.72 345.42 391.94 345.47 C396.16 345.52 402.49 345.39 404.6 345.37" stroke="#111" stroke-width="0.7" fill="none"/>
<path d="M341.3 347.39 C343.41 347.35 349.74 347.14 353.96 347.11 C358.18 347.08 362.4 347.24 366.62 347.22 C370.84 347.19 375.06 347.26 379.28 346.98 C383.5 346.7 387.72 345.65 391.94 345.54 C396.16 345.42 402.49 346.15 404.6 346.27" stroke="#6a6a6a" stroke-width="0.45" fill="none"/>
<path d="M341.3 348.35 C343.41 348.27 349.74 348 353.96 347.89 C358.18 347.78 362.4 347.59 366.62 347.7 C370.84 347.81 375.06 348.33 379.28 348.54 C383.5 348.75 387.72 349.05 391.94 348.96 C396.16 348.88 402.49 348.19 404.6 348.03" stroke="#0a0a0a" stroke-width="0.7" fill="none"/>
<path d="M341.3 348.51 C343.41 348.5 349.74 348.64 353.96 348.48 C358.18 348.32 362.4 347.67 366.62 347.57 C370.84 347.47 375.06 347.69 379.28 347.89 C383.5 348.09 387.72 348.78 391.94 348.77 C396.16 348.75 402.49 347.95 404.6 347.79" stroke="#555" stroke-width="0.4" fill="none"/>
</g>
<rect x="342.3" y="318.4" width="61.3" height="21" fill="none" stroke="#000" stroke-width="1.1"/>
<line x1="336.7" y1="201.2" x2="409.2" y2="201.2" stroke="#000" stroke-width="1.2"/>
<rect x="343.6" y="335.9" width="6.7" height="3" fill="#fff"/>
<rect x="346.9" y="180.3" width="51.9" height="20.9" stroke="#000" stroke-width="1.5" fill="#fff"/>
<rect x="321.2" y="224.5" width="103.2" height="19" stroke="#000" stroke-width="1.5" fill="#fff"/>
<line x1="347.3" y1="224.5" x2="347.3" y2="243.5" stroke="#000" stroke-width="1.5"/>
<line x1="398.6" y1="224.5" x2="398.6" y2="243.5" stroke="#000" stroke-width="1.5"/>
<rect x="349.1" y="342" width="47.5" height="9" stroke="#000" stroke-width="1.2" fill="#fff"/>
<line x1="362.6" y1="342" x2="362.6" y2="351" stroke="#000" stroke-width="1.2"/>
<line x1="383.6" y1="342" x2="383.6" y2="351" stroke="#000" stroke-width="1.2"/>
<path d="M356.4 351 L360.3 365 L386.5 365 L389.7 351" stroke="#000" stroke-width="1.2" fill="#fff"/>
<rect x="360.3" y="365" width="26.2" height="47" stroke="#000" stroke-width="1.3" fill="#fff"/>
<line x1="346.9" y1="164.9" x2="361.9" y2="164.9" stroke="#555" stroke-width="0.9"/>
<line x1="383.9" y1="164.9" x2="398.8" y2="164.9" stroke="#555" stroke-width="0.9"/>
<path d="M346.9 164.9 L353.4 163.3 L353.4 166.5 Z" fill="#000"/>
<path d="M398.8 164.9 L392.3 166.5 L392.3 163.3 Z" fill="#000"/>
<text x="372.9" y="164.9" font-family="Liberation Serif" font-size="12.5" font-weight="normal" text-anchor="middle" dominant-baseline="central" textLength="17" lengthAdjust="spacingAndGlyphs" fill="#000" stroke="#000" stroke-width="0.4">ø11</text>
<line x1="439.5" y1="166.9" x2="439.5" y2="180.3" stroke="#555" stroke-width="0.9"/>
<path d="M439.5 180.3 L437.9 173.8 L441.1 173.8 Z" fill="#000"/>
<line x1="439.5" y1="201.5" x2="439.5" y2="214.7" stroke="#555" stroke-width="0.9"/>
<path d="M439.5 201.5 L441.1 208 L437.9 208 Z" fill="#000"/>
<text x="439.8" y="190.7" font-family="Liberation Sans" font-size="12.5" font-weight="normal" text-anchor="middle" dominant-baseline="central" textLength="19" lengthAdjust="spacingAndGlyphs" transform="rotate(-90 439.8 190.7)" fill="#000" stroke="#000" stroke-width="0.25">4. 5</text>
<line x1="454.7" y1="180.3" x2="454.7" y2="235" stroke="#555" stroke-width="0.9"/>
<line x1="454.7" y1="263" x2="454.7" y2="318.2" stroke="#555" stroke-width="0.9"/>
<path d="M454.7 180.3 L456.3 186.8 L453.1 186.8 Z" fill="#000"/>
<path d="M454.7 318.2 L453.1 311.7 L456.3 311.7 Z" fill="#000"/>
<text x="454.7" y="249" font-family="Liberation Sans" font-size="12.5" font-weight="normal" text-anchor="middle" dominant-baseline="central" textLength="24" lengthAdjust="spacingAndGlyphs" transform="rotate(-90 454.7 249)" fill="#000" stroke="#000" stroke-width="0.25">29. 5</text>
<line x1="474.8" y1="180.3" x2="474.8" y2="246" stroke="#555" stroke-width="0.9"/>
<line x1="474.8" y1="274" x2="474.8" y2="341.5" stroke="#555" stroke-width="0.9"/>
<path d="M474.8 180.3 L476.4 186.8 L473.2 186.8 Z" fill="#000"/>
<path d="M474.8 341.5 L473.2 335 L476.4 335 Z" fill="#000"/>
<text x="474.8" y="260" font-family="Liberation Sans" font-size="12.5" font-weight="normal" text-anchor="middle" dominant-baseline="central" textLength="24" lengthAdjust="spacingAndGlyphs" transform="rotate(-90 474.8 260)" fill="#000" stroke="#000" stroke-width="0.25">34. 5</text>
<line x1="501.8" y1="180.3" x2="501.8" y2="280.5" stroke="#555" stroke-width="0.9"/>
<line x1="501.8" y1="308.5" x2="501.8" y2="411.5" stroke="#555" stroke-width="0.9"/>
<path d="M501.8 180.3 L503.4 186.8 L500.2 186.8 Z" fill="#000"/>
<path d="M501.8 411.5 L500.2 405 L503.4 405 Z" fill="#000"/>
<text x="501.8" y="294.5" font-family="Liberation Sans" font-size="12.5" font-weight="normal" text-anchor="middle" dominant-baseline="central" textLength="24" lengthAdjust="spacingAndGlyphs" transform="rotate(-90 501.8 294.5)" fill="#000" stroke="#000" stroke-width="0.25">49. 5</text>
<line x1="307.4" y1="218.7" x2="307.4" y2="243.4" stroke="#555" stroke-width="0.9"/>
<path d="M307.4 224.5 L309 231 L305.8 231 Z" fill="#000"/>
<path d="M307.4 243.4 L305.8 236.9 L309 236.9 Z" fill="#000"/>
<text x="307.4" y="213.7" font-family="Liberation Serif" font-size="12" font-weight="normal" text-anchor="middle" dominant-baseline="central" textLength="6" lengthAdjust="spacingAndGlyphs" transform="rotate(-90 307.4 213.7)" fill="#000" stroke="#000" stroke-width="0.4">4</text>
<line x1="346.8" y1="427.4" x2="360.3" y2="427.4" stroke="#555" stroke-width="0.9"/>
<line x1="386.5" y1="427.4" x2="400" y2="427.4" stroke="#555" stroke-width="0.9"/>
<path d="M360.3 427.4 L353.8 429 L353.8 425.8 Z" fill="#000"/>
<path d="M386.5 427.4 L393 425.8 L393 429 Z" fill="#000"/>
<text x="372.7" y="428.2" font-family="Liberation Sans" font-size="11.5" font-weight="normal" text-anchor="middle" dominant-baseline="central" textLength="20.5" lengthAdjust="spacingAndGlyphs" fill="#000" stroke="#000" stroke-width="0.4">Ø5.6</text>
<line x1="349.1" y1="446.4" x2="361.85" y2="446.4" stroke="#555" stroke-width="0.9"/>
<line x1="384.35" y1="446.4" x2="396.6" y2="446.4" stroke="#555" stroke-width="0.9"/>
<path d="M349.1 446.4 L355.6 444.8 L355.6 448 Z" fill="#000"/>
<path d="M396.6 446.4 L390.1 448 L390.1 444.8 Z" fill="#000"/>
<text x="373.1" y="446.4" font-family="Liberation Serif" font-size="12.5" font-weight="normal" text-anchor="middle" dominant-baseline="central" textLength="17.5" lengthAdjust="spacingAndGlyphs" fill="#000" stroke="#000" stroke-width="0.4">ø10</text>
<line x1="342.3" y1="465.3" x2="364.55" y2="465.3" stroke="#555" stroke-width="0.9"/>
<line x1="381.05" y1="465.3" x2="403.6" y2="465.3" stroke="#555" stroke-width="0.9"/>
<path d="M342.3 465.3 L348.8 463.7 L348.8 466.9 Z" fill="#000"/>
<path d="M403.6 465.3 L397.1 466.9 L397.1 463.7 Z" fill="#000"/>
<text x="372.8" y="465.3" font-family="Liberation Serif" font-size="12.5" font-weight="normal" text-anchor="middle" dominant-baseline="central" textLength="11.5" lengthAdjust="spacingAndGlyphs" fill="#000" stroke="#000" stroke-width="0.4">13</text>
<line x1="335.6" y1="484.7" x2="355.95" y2="484.7" stroke="#555" stroke-width="0.9"/>
<line x1="390.45" y1="484.7" x2="410.5" y2="484.7" stroke="#555" stroke-width="0.9"/>
<path d="M335.6 484.7 L342.1 483.1 L342.1 486.3 Z" fill="#000"/>
<path d="M410.5 484.7 L404 486.3 L404 483.1 Z" fill="#000"/>
<text x="373.2" y="484.7" font-family="Liberation Serif" font-size="12" font-weight="normal" text-anchor="middle" dominant-baseline="central" textLength="29.5" lengthAdjust="spacingAndGlyphs" fill="#000" stroke="#000" stroke-width="0.4">M16*1</text>
<line x1="602.4" y1="172" x2="602.4" y2="196" stroke="#555" stroke-width="0.9"/>
<line x1="674.6" y1="172" x2="674.6" y2="196" stroke="#555" stroke-width="0.9"/>
<line x1="675" y1="196.3" x2="771" y2="196.3" stroke="#555" stroke-width="0.9"/>
<line x1="685.5" y1="217.2" x2="702" y2="217.2" stroke="#555" stroke-width="0.9"/>
<line x1="685" y1="322.9" x2="720.2" y2="322.9" stroke="#555" stroke-width="0.9"/>
<line x1="675.5" y1="343.9" x2="741.2" y2="343.9" stroke="#555" stroke-width="0.9"/>
<line x1="651.5" y1="406.9" x2="769.9" y2="406.9" stroke="#555" stroke-width="0.9"/>
<line x1="550.5" y1="238.5" x2="577" y2="238.5" stroke="#555" stroke-width="0.9"/>
<line x1="550.5" y1="255.6" x2="577" y2="255.6" stroke="#555" stroke-width="0.9"/>
<line x1="627.1" y1="408" x2="627.1" y2="426.5" stroke="#555" stroke-width="0.9"/>
<line x1="651" y1="408" x2="651" y2="426.5" stroke="#555" stroke-width="0.9"/>
<line x1="617.6" y1="353" x2="617.6" y2="445" stroke="#555" stroke-width="0.9"/>
<line x1="660" y1="353" x2="660" y2="445" stroke="#555" stroke-width="0.9"/>
<line x1="602.8" y1="345" x2="602.8" y2="460" stroke="#555" stroke-width="0.9"/>
<line x1="674.5" y1="345" x2="674.5" y2="460" stroke="#555" stroke-width="0.9"/>
<line x1="592.9" y1="323" x2="592.9" y2="474" stroke="#555" stroke-width="0.9"/>
<line x1="684.7" y1="323" x2="684.7" y2="474" stroke="#555" stroke-width="0.9"/>
<clipPath id="th7b"><rect x="588.2" y="217" width="101" height="21.6"/></clipPath>
<g clip-path="url(#th7b)">
<clipPath id="th7"><path d="M682.8 206.95 L594.6 206.95 L594.6 206.95 Q589.8 210 594.6 213.05 L594.6 213.05 Q589.8 216.1 594.6 219.15 L594.6 219.15 Q589.8 222.2 594.6 225.25 L594.6 225.25 Q589.8 228.3 594.6 231.35 L594.6 231.35 Q589.8 234.4 594.6 237.45 L594.6 237.45 Q589.8 240.5 594.6 243.55 L594.6 243.55 Q589.8 246.6 594.6 249.65 L594.6 249.65 Q589.8 252.7 594.6 255.75 L594.6 255.75 Q589.8 258.8 594.6 261.85 L682.8 264.9 L682.8 264.9 Q687.6 261.85 682.8 258.8 L682.8 258.8 Q687.6 255.75 682.8 252.7 L682.8 252.7 Q687.6 249.65 682.8 246.6 L682.8 246.6 Q687.6 243.55 682.8 240.5 L682.8 240.5 Q687.6 237.45 682.8 234.4 L682.8 234.4 Q687.6 231.35 682.8 228.3 L682.8 228.3 Q687.6 225.25 682.8 222.2 L682.8 222.2 Q687.6 219.15 682.8 216.1 L682.8 216.1 Q687.6 213.05 682.8 210 L682.8 210 Q687.6 206.95 682.8 203.9 Z"/></clipPath>
<g clip-path="url(#th7)">
<path d="M682.8 206.95 L594.6 206.95 L594.6 206.95 Q589.8 210 594.6 213.05 L594.6 213.05 Q589.8 216.1 594.6 219.15 L594.6 219.15 Q589.8 222.2 594.6 225.25 L594.6 225.25 Q589.8 228.3 594.6 231.35 L594.6 231.35 Q589.8 234.4 594.6 237.45 L594.6 237.45 Q589.8 240.5 594.6 243.55 L594.6 243.55 Q589.8 246.6 594.6 249.65 L594.6 249.65 Q589.8 252.7 594.6 255.75 L594.6 255.75 Q589.8 258.8 594.6 261.85 L682.8 264.9 L682.8 264.9 Q687.6 261.85 682.8 258.8 L682.8 258.8 Q687.6 255.75 682.8 252.7 L682.8 252.7 Q687.6 249.65 682.8 246.6 L682.8 246.6 Q687.6 243.55 682.8 240.5 L682.8 240.5 Q687.6 237.45 682.8 234.4 L682.8 234.4 Q687.6 231.35 682.8 228.3 L682.8 228.3 Q687.6 225.25 682.8 222.2 L682.8 222.2 Q687.6 219.15 682.8 216.1 L682.8 216.1 Q687.6 213.05 682.8 210 L682.8 210 Q687.6 206.95 682.8 203.9 Z" fill="#7c7c7c"/>
<path d="M591.2 210.03 C596.48 209.89 612.31 209.27 622.87 209.19 C633.42 209.11 643.98 209.58 654.53 209.56 C665.09 209.54 680.92 209.15 686.2 209.07" stroke="#000" stroke-width="1.3" fill="none"/>
<path d="M591.2 211.29 C596.48 211.22 612.31 210.92 622.87 210.84 C633.42 210.75 643.98 210.86 654.53 210.76 C665.09 210.66 680.92 210.34 686.2 210.26" stroke="#f6f6f6" stroke-width="1.0" fill="none"/>
<path d="M591.2 213.44 C596.48 213.5 612.31 213.76 622.87 213.79 C633.42 213.81 643.98 213.75 654.53 213.59 C665.09 213.44 680.92 212.98 686.2 212.86" stroke="#1a1a1a" stroke-width="0.9" fill="none"/>
<path d="M591.2 214.19 C596.48 214.04 612.31 213.43 622.87 213.33 C633.42 213.23 643.98 213.7 654.53 213.6 C665.09 213.5 680.92 212.89 686.2 212.75" stroke="#dcdcdc" stroke-width="0.8" fill="none"/>
<path d="M591.2 216.18 C596.48 216.29 612.31 216.76 622.87 216.84 C633.42 216.91 643.98 216.67 654.53 216.63 C665.09 216.59 680.92 216.6 686.2 216.6" stroke="#000" stroke-width="1.3" fill="none"/>
<path d="M591.2 217.65 C596.48 217.49 612.31 216.75 622.87 216.65 C633.42 216.54 643.98 217.1 654.53 217.02 C665.09 216.95 680.92 216.34 686.2 216.2" stroke="#f6f6f6" stroke-width="1.0" fill="none"/>
<path d="M591.2 219.29 C596.48 219.3 612.31 219.35 622.87 219.39 C633.42 219.43 643.98 219.53 654.53 219.53 C665.09 219.53 680.92 219.39 686.2 219.37" stroke="#1a1a1a" stroke-width="0.9" fill="none"/>
<path d="M591.2 220.6 C596.48 220.55 612.31 220.26 622.87 220.3 C633.42 220.34 643.98 220.73 654.53 220.84 C665.09 220.96 680.92 220.95 686.2 220.97" stroke="#dcdcdc" stroke-width="0.8" fill="none"/>
<path d="M591.2 222.05 C596.48 222.13 612.31 222.56 622.87 222.54 C633.42 222.52 643.98 221.97 654.53 221.92 C665.09 221.88 680.92 222.21 686.2 222.27" stroke="#000" stroke-width="1.3" fill="none"/>
<path d="M591.2 223.39 C596.48 223.3 612.31 222.9 622.87 222.83 C633.42 222.76 643.98 223.06 654.53 222.98 C665.09 222.89 680.92 222.43 686.2 222.32" stroke="#f6f6f6" stroke-width="1.0" fill="none"/>
<path d="M591.2 225.18 C596.48 225.14 612.31 224.97 622.87 224.98 C633.42 224.99 643.98 225.2 654.53 225.24 C665.09 225.28 680.92 225.23 686.2 225.23" stroke="#1a1a1a" stroke-width="0.9" fill="none"/>
<path d="M591.2 226.34 C596.48 226.33 612.31 226.25 622.87 226.3 C633.42 226.34 643.98 226.64 654.53 226.62 C665.09 226.6 680.92 226.24 686.2 226.16" stroke="#dcdcdc" stroke-width="0.8" fill="none"/>
<path d="M591.2 228.66 C596.48 228.55 612.31 228 622.87 228.03 C633.42 228.06 643.98 228.81 654.53 228.84 C665.09 228.86 680.92 228.31 686.2 228.2" stroke="#000" stroke-width="1.3" fill="none"/>
<path d="M591.2 230.18 C596.48 230.15 612.31 229.96 622.87 229.98 C633.42 230 643.98 230.34 654.53 230.29 C665.09 230.23 680.92 229.73 686.2 229.62" stroke="#f6f6f6" stroke-width="1.0" fill="none"/>
<path d="M591.2 231.15 C596.48 231.13 612.31 231.11 622.87 231.02 C633.42 230.94 643.98 230.8 654.53 230.65 C665.09 230.5 680.92 230.2 686.2 230.12" stroke="#1a1a1a" stroke-width="0.9" fill="none"/>
<path d="M591.2 232.84 C596.48 232.86 612.31 232.92 622.87 232.93 C633.42 232.94 643.98 232.88 654.53 232.9 C665.09 232.92 680.92 233.04 686.2 233.06" stroke="#dcdcdc" stroke-width="0.8" fill="none"/>
<path d="M591.2 234.18 C596.48 234.09 612.31 233.8 622.87 233.66 C633.42 233.52 643.98 233.45 654.53 233.35 C665.09 233.25 680.92 233.1 686.2 233.05" stroke="#000" stroke-width="1.3" fill="none"/>
<path d="M591.2 236.12 C596.48 236.11 612.31 236.1 622.87 236.05 C633.42 236 643.98 235.86 654.53 235.83 C665.09 235.8 680.92 235.87 686.2 235.88" stroke="#f6f6f6" stroke-width="1.0" fill="none"/>
<path d="M591.2 237.55 C596.48 237.56 612.31 237.68 622.87 237.62 C633.42 237.57 643.98 237.34 654.53 237.2 C665.09 237.06 680.92 236.86 686.2 236.79" stroke="#1a1a1a" stroke-width="0.9" fill="none"/>
<path d="M591.2 238.95 C596.48 238.91 612.31 238.75 622.87 238.71 C633.42 238.66 643.98 238.76 654.53 238.67 C665.09 238.58 680.92 238.25 686.2 238.17" stroke="#dcdcdc" stroke-width="0.8" fill="none"/>
<path d="M591.2 240.87 C596.48 240.81 612.31 240.54 622.87 240.52 C633.42 240.51 643.98 240.8 654.53 240.78 C665.09 240.77 680.92 240.49 686.2 240.43" stroke="#000" stroke-width="1.3" fill="none"/>
<path d="M591.2 241.72 C596.48 241.59 612.31 241 622.87 240.92 C633.42 240.83 643.98 241.21 654.53 241.2 C665.09 241.19 680.92 240.91 686.2 240.86" stroke="#f6f6f6" stroke-width="1.0" fill="none"/>
<path d="M591.2 243.35 C596.48 243.36 612.31 243.48 622.87 243.42 C633.42 243.37 643.98 243.14 654.53 243.01 C665.09 242.88 680.92 242.68 686.2 242.61" stroke="#1a1a1a" stroke-width="0.9" fill="none"/>
<path d="M591.2 244.52 C596.48 244.4 612.31 243.78 622.87 243.77 C633.42 243.76 643.98 244.44 654.53 244.46 C665.09 244.48 680.92 243.99 686.2 243.9" stroke="#dcdcdc" stroke-width="0.8" fill="none"/>
<path d="M591.2 246.6 C596.48 246.57 612.31 246.34 622.87 246.43 C633.42 246.52 643.98 247.06 654.53 247.13 C665.09 247.21 680.92 246.91 686.2 246.87" stroke="#000" stroke-width="1.3" fill="none"/>
<path d="M591.2 247.84 C596.48 247.83 612.31 247.86 622.87 247.82 C633.42 247.77 643.98 247.52 654.53 247.57 C665.09 247.63 680.92 248.05 686.2 248.14" stroke="#f6f6f6" stroke-width="1.0" fill="none"/>
<path d="M591.2 249.98 C596.48 249.94 612.31 249.68 622.87 249.73 C633.42 249.77 643.98 250.14 654.53 250.23 C665.09 250.31 680.92 250.22 686.2 250.22" stroke="#1a1a1a" stroke-width="0.9" fill="none"/>
<path d="M591.2 250.97 C596.48 250.89 612.31 250.52 622.87 250.46 C633.42 250.41 643.98 250.76 654.53 250.64 C665.09 250.51 680.92 249.85 686.2 249.69" stroke="#dcdcdc" stroke-width="0.8" fill="none"/>
<path d="M591.2 252.6 C596.48 252.66 612.31 252.86 622.87 252.91 C633.42 252.97 643.98 252.99 654.53 252.95 C665.09 252.91 680.92 252.72 686.2 252.67" stroke="#000" stroke-width="1.3" fill="none"/>
<path d="M591.2 254.31 C596.48 254.31 612.31 254.23 622.87 254.27 C633.42 254.31 643.98 254.48 654.53 254.55 C665.09 254.62 680.92 254.67 686.2 254.7" stroke="#f6f6f6" stroke-width="1.0" fill="none"/>
<path d="M591.2 255.71 C596.48 255.63 612.31 255.34 622.87 255.24 C633.42 255.13 643.98 255.23 654.53 255.08 C665.09 254.93 680.92 254.45 686.2 254.33" stroke="#1a1a1a" stroke-width="0.9" fill="none"/>
<path d="M591.2 257.15 C596.48 257.04 612.31 256.6 622.87 256.47 C633.42 256.33 643.98 256.41 654.53 256.33 C665.09 256.24 680.92 256.01 686.2 255.94" stroke="#dcdcdc" stroke-width="0.8" fill="none"/>
<path d="M591.2 258.48 C596.48 258.46 612.31 258.56 622.87 258.36 C633.42 258.16 643.98 257.45 654.53 257.28 C665.09 257.11 680.92 257.32 686.2 257.33" stroke="#000" stroke-width="1.3" fill="none"/>
<path d="M591.2 260.02 C596.48 259.95 612.31 259.85 622.87 259.62 C633.42 259.39 643.98 258.8 654.53 258.66 C665.09 258.51 680.92 258.75 686.2 258.77" stroke="#f6f6f6" stroke-width="1.0" fill="none"/>
<path d="M591.2 262 C596.48 262.03 612.31 262.16 622.87 262.17 C633.42 262.18 643.98 262.15 654.53 262.07 C665.09 261.98 680.92 261.72 686.2 261.65" stroke="#1a1a1a" stroke-width="0.9" fill="none"/>
<path d="M591.2 263.37 C596.48 263.31 612.31 263.03 622.87 263 C633.42 262.97 643.98 263.19 654.53 263.17 C665.09 263.16 680.92 262.95 686.2 262.91" stroke="#dcdcdc" stroke-width="0.8" fill="none"/>
<line x1="594" y1="218.6" x2="638" y2="218.6" stroke="#bbb" stroke-width="1.4"/>
</g>
<path d="M682.8 206.95 L594.6 206.95 L594.6 206.95 Q589.8 210 594.6 213.05 L594.6 213.05 Q589.8 216.1 594.6 219.15 L594.6 219.15 Q589.8 222.2 594.6 225.25 L594.6 225.25 Q589.8 228.3 594.6 231.35 L594.6 231.35 Q589.8 234.4 594.6 237.45 L594.6 237.45 Q589.8 240.5 594.6 243.55 L594.6 243.55 Q589.8 246.6 594.6 249.65 L594.6 249.65 Q589.8 252.7 594.6 255.75 L594.6 255.75 Q589.8 258.8 594.6 261.85 L682.8 264.9 L682.8 264.9 Q687.6 261.85 682.8 258.8 L682.8 258.8 Q687.6 255.75 682.8 252.7 L682.8 252.7 Q687.6 249.65 682.8 246.6 L682.8 246.6 Q687.6 243.55 682.8 240.5 L682.8 240.5 Q687.6 237.45 682.8 234.4 L682.8 234.4 Q687.6 231.35 682.8 228.3 L682.8 228.3 Q687.6 225.25 682.8 222.2 L682.8 222.2 Q687.6 219.15 682.8 216.1 L682.8 216.1 Q687.6 213.05 682.8 210 L682.8 210 Q687.6 206.95 682.8 203.9 Z" fill="none" stroke="#000" stroke-width="1.4"/>
</g>
<clipPath id="th8b"><rect x="588.4" y="255.5" width="100.4" height="67.2"/></clipPath>
<g clip-path="url(#th8b)">
<clipPath id="th8"><path d="M682.4 246.3 L594.8 246.3 L594.8 246.3 Q590 249.44 594.8 252.58 L594.8 252.58 Q590 255.72 594.8 258.86 L594.8 258.86 Q590 262 594.8 265.14 L594.8 265.14 Q590 268.28 594.8 271.42 L594.8 271.42 Q590 274.56 594.8 277.7 L594.8 277.7 Q590 280.84 594.8 283.98 L594.8 283.98 Q590 287.12 594.8 290.26 L594.8 290.26 Q590 293.4 594.8 296.54 L594.8 296.54 Q590 299.68 594.8 302.82 L594.8 302.82 Q590 305.96 594.8 309.1 L594.8 309.1 Q590 312.24 594.8 315.38 L594.8 315.38 Q590 318.52 594.8 321.66 L594.8 321.66 Q590 324.8 594.8 327.94 L594.8 327.94 Q590 331.08 594.8 334.22 L594.8 334.22 Q590 337.36 594.8 340.5 L594.8 340.5 Q590 343.64 594.8 346.78 L682.4 349.92 L682.4 349.92 Q687.2 346.78 682.4 343.64 L682.4 343.64 Q687.2 340.5 682.4 337.36 L682.4 337.36 Q687.2 334.22 682.4 331.08 L682.4 331.08 Q687.2 327.94 682.4 324.8 L682.4 324.8 Q687.2 321.66 682.4 318.52 L682.4 318.52 Q687.2 315.38 682.4 312.24 L682.4 312.24 Q687.2 309.1 682.4 305.96 L682.4 305.96 Q687.2 302.82 682.4 299.68 L682.4 299.68 Q687.2 296.54 682.4 293.4 L682.4 293.4 Q687.2 290.26 682.4 287.12 L682.4 287.12 Q687.2 283.98 682.4 280.84 L682.4 280.84 Q687.2 277.7 682.4 274.56 L682.4 274.56 Q687.2 271.42 682.4 268.28 L682.4 268.28 Q687.2 265.14 682.4 262 L682.4 262 Q687.2 258.86 682.4 255.72 L682.4 255.72 Q687.2 252.58 682.4 249.44 L682.4 249.44 Q687.2 246.3 682.4 243.16 Z"/></clipPath>
<g clip-path="url(#th8)">
<path d="M682.4 246.3 L594.8 246.3 L594.8 246.3 Q590 249.44 594.8 252.58 L594.8 252.58 Q590 255.72 594.8 258.86 L594.8 258.86 Q590 262 594.8 265.14 L594.8 265.14 Q590 268.28 594.8 271.42 L594.8 271.42 Q590 274.56 594.8 277.7 L594.8 277.7 Q590 280.84 594.8 283.98 L594.8 283.98 Q590 287.12 594.8 290.26 L594.8 290.26 Q590 293.4 594.8 296.54 L594.8 296.54 Q590 299.68 594.8 302.82 L594.8 302.82 Q590 305.96 594.8 309.1 L594.8 309.1 Q590 312.24 594.8 315.38 L594.8 315.38 Q590 318.52 594.8 321.66 L594.8 321.66 Q590 324.8 594.8 327.94 L594.8 327.94 Q590 331.08 594.8 334.22 L594.8 334.22 Q590 337.36 594.8 340.5 L594.8 340.5 Q590 343.64 594.8 346.78 L682.4 349.92 L682.4 349.92 Q687.2 346.78 682.4 343.64 L682.4 343.64 Q687.2 340.5 682.4 337.36 L682.4 337.36 Q687.2 334.22 682.4 331.08 L682.4 331.08 Q687.2 327.94 682.4 324.8 L682.4 324.8 Q687.2 321.66 682.4 318.52 L682.4 318.52 Q687.2 315.38 682.4 312.24 L682.4 312.24 Q687.2 309.1 682.4 305.96 L682.4 305.96 Q687.2 302.82 682.4 299.68 L682.4 299.68 Q687.2 296.54 682.4 293.4 L682.4 293.4 Q687.2 290.26 682.4 287.12 L682.4 287.12 Q687.2 283.98 682.4 280.84 L682.4 280.84 Q687.2 277.7 682.4 274.56 L682.4 274.56 Q687.2 271.42 682.4 268.28 L682.4 268.28 Q687.2 265.14 682.4 262 L682.4 262 Q687.2 258.86 682.4 255.72 L682.4 255.72 Q687.2 252.58 682.4 249.44 L682.4 249.44 Q687.2 246.3 682.4 243.16 Z" fill="#7c7c7c"/>
<path d="M591.4 249.05 C596.64 248.96 612.38 248.6 622.87 248.48 C633.36 248.36 643.84 248.48 654.33 248.35 C664.82 248.22 680.56 247.81 685.8 247.7" stroke="#000" stroke-width="1.3" fill="none"/>
<path d="M591.4 250.72 C596.64 250.6 612.38 250.08 622.87 249.98 C633.36 249.87 643.84 250.2 654.33 250.1 C664.82 250 680.56 249.49 685.8 249.37" stroke="#f6f6f6" stroke-width="1.0" fill="none"/>
<path d="M591.4 252.3 C596.64 252.33 612.38 252.55 622.87 252.49 C633.36 252.42 643.84 251.94 654.33 251.92 C664.82 251.89 680.56 252.26 685.8 252.33" stroke="#1a1a1a" stroke-width="0.9" fill="none"/>
<path d="M591.4 253.99 C596.64 253.94 612.38 253.67 622.87 253.69 C633.36 253.71 643.84 254.18 654.33 254.13 C664.82 254.07 680.56 253.5 685.8 253.38" stroke="#dcdcdc" stroke-width="0.8" fill="none"/>
<path d="M591.4 255.39 C596.64 255.39 612.38 255.55 622.87 255.36 C633.36 255.17 643.84 254.5 654.33 254.25 C664.82 254 680.56 253.91 685.8 253.84" stroke="#000" stroke-width="1.3" fill="none"/>
<path d="M591.4 257.05 C596.64 256.98 612.38 256.62 622.87 256.61 C633.36 256.6 643.84 257.04 654.33 256.97 C664.82 256.89 680.56 256.31 685.8 256.18" stroke="#f6f6f6" stroke-width="1.0" fill="none"/>
<path d="M591.4 258.63 C596.64 258.58 612.38 258.46 622.87 258.35 C633.36 258.23 643.84 258.07 654.33 257.93 C664.82 257.79 680.56 257.58 685.8 257.51" stroke="#1a1a1a" stroke-width="0.9" fill="none"/>
<path d="M591.4 260.6 C596.64 260.59 612.38 260.55 622.87 260.53 C633.36 260.5 643.84 260.39 654.33 260.44 C664.82 260.5 680.56 260.78 685.8 260.85" stroke="#dcdcdc" stroke-width="0.8" fill="none"/>
<path d="M591.4 262.27 C596.64 262.22 612.38 261.84 622.87 261.94 C633.36 262.05 643.84 262.76 654.33 262.91 C664.82 263.06 680.56 262.86 685.8 262.84" stroke="#000" stroke-width="1.3" fill="none"/>
<path d="M591.4 263.86 C596.64 263.8 612.38 263.46 622.87 263.5 C633.36 263.53 643.84 264.05 654.33 264.08 C664.82 264.11 680.56 263.76 685.8 263.7" stroke="#f6f6f6" stroke-width="1.0" fill="none"/>
<path d="M591.4 265.32 C596.64 265.28 612.38 265.27 622.87 265.09 C633.36 264.91 643.84 264.39 654.33 264.23 C664.82 264.08 680.56 264.16 685.8 264.15" stroke="#1a1a1a" stroke-width="0.9" fill="none"/>
<path d="M591.4 266.15 C596.64 266.08 612.38 265.8 622.87 265.69 C633.36 265.57 643.84 265.53 654.33 265.47 C664.82 265.4 680.56 265.32 685.8 265.29" stroke="#dcdcdc" stroke-width="0.8" fill="none"/>
<path d="M591.4 268.4 C596.64 268.5 612.38 268.87 622.87 268.98 C633.36 269.1 643.84 269.14 654.33 269.08 C664.82 269.02 680.56 268.71 685.8 268.64" stroke="#000" stroke-width="1.3" fill="none"/>
<path d="M591.4 270.24 C596.64 270.22 612.38 270.12 622.87 270.08 C633.36 270.03 643.84 269.93 654.33 269.98 C664.82 270.03 680.56 270.32 685.8 270.38" stroke="#f6f6f6" stroke-width="1.0" fill="none"/>
<path d="M591.4 271.52 C596.64 271.53 612.38 271.7 622.87 271.58 C633.36 271.46 643.84 270.88 654.33 270.81 C664.82 270.73 680.56 271.07 685.8 271.12" stroke="#1a1a1a" stroke-width="0.9" fill="none"/>
<path d="M591.4 272.56 C596.64 272.6 612.38 272.73 622.87 272.81 C633.36 272.89 643.84 273.03 654.33 273.05 C664.82 273.08 680.56 272.99 685.8 272.98" stroke="#dcdcdc" stroke-width="0.8" fill="none"/>
<path d="M591.4 274.24 C596.64 274.27 612.38 274.5 622.87 274.45 C633.36 274.39 643.84 274.07 654.33 273.92 C664.82 273.76 680.56 273.58 685.8 273.51" stroke="#000" stroke-width="1.3" fill="none"/>
<path d="M591.4 276.52 C596.64 276.45 612.38 276.16 622.87 276.08 C633.36 276.01 643.84 276.2 654.33 276.08 C664.82 275.95 680.56 275.48 685.8 275.36" stroke="#f6f6f6" stroke-width="1.0" fill="none"/>
<path d="M591.4 277.66 C596.64 277.67 612.38 277.82 622.87 277.77 C633.36 277.71 643.84 277.32 654.33 277.33 C664.82 277.33 680.56 277.71 685.8 277.79" stroke="#1a1a1a" stroke-width="0.9" fill="none"/>
<path d="M591.4 278.76 C596.64 278.72 612.38 278.52 622.87 278.53 C633.36 278.54 643.84 278.67 654.33 278.8 C664.82 278.93 680.56 279.24 685.8 279.32" stroke="#dcdcdc" stroke-width="0.8" fill="none"/>
<path d="M591.4 280.71 C596.64 280.77 612.38 281.1 622.87 281.09 C633.36 281.08 643.84 280.73 654.33 280.66 C664.82 280.59 680.56 280.68 685.8 280.68" stroke="#000" stroke-width="1.3" fill="none"/>
<path d="M591.4 282.41 C596.64 282.38 612.38 282.22 622.87 282.21 C633.36 282.2 643.84 282.3 654.33 282.36 C664.82 282.41 680.56 282.51 685.8 282.54" stroke="#f6f6f6" stroke-width="1.0" fill="none"/>
<path d="M591.4 284.07 C596.64 283.97 612.38 283.59 622.87 283.5 C633.36 283.4 643.84 283.45 654.33 283.51 C664.82 283.57 680.56 283.81 685.8 283.87" stroke="#1a1a1a" stroke-width="0.9" fill="none"/>
<path d="M591.4 285.07 C596.64 285.11 612.38 285.2 622.87 285.28 C633.36 285.37 643.84 285.63 654.33 285.59 C664.82 285.55 680.56 285.15 685.8 285.07" stroke="#dcdcdc" stroke-width="0.8" fill="none"/>
<path d="M591.4 287.33 C596.64 287.32 612.38 287.31 622.87 287.28 C633.36 287.25 643.84 287.34 654.33 287.17 C664.82 287.01 680.56 286.44 685.8 286.29" stroke="#000" stroke-width="1.3" fill="none"/>
<path d="M591.4 288.57 C596.64 288.46 612.38 288.12 622.87 287.91 C633.36 287.69 643.84 287.43 654.33 287.28 C664.82 287.13 680.56 287.04 685.8 286.99" stroke="#f6f6f6" stroke-width="1.0" fill="none"/>
<path d="M591.4 290 C596.64 289.85 612.38 289.19 622.87 289.09 C633.36 288.99 643.84 289.5 654.33 289.4 C664.82 289.3 680.56 288.65 685.8 288.5" stroke="#1a1a1a" stroke-width="0.9" fill="none"/>
<path d="M591.4 291.28 C596.64 291.21 612.38 290.96 622.87 290.88 C633.36 290.79 643.84 290.75 654.33 290.78 C664.82 290.8 680.56 290.99 685.8 291.03" stroke="#dcdcdc" stroke-width="0.8" fill="none"/>
<path d="M591.4 293.66 C596.64 293.55 612.38 293.11 622.87 292.99 C633.36 292.88 643.84 293.03 654.33 292.98 C664.82 292.93 680.56 292.76 685.8 292.71" stroke="#000" stroke-width="1.3" fill="none"/>
<path d="M591.4 295.13 C596.64 295.17 612.38 295.44 622.87 295.37 C633.36 295.31 643.84 294.84 654.33 294.72 C664.82 294.6 680.56 294.69 685.8 294.68" stroke="#f6f6f6" stroke-width="1.0" fill="none"/>
<path d="M591.4 296.56 C596.64 296.55 612.38 296.47 622.87 296.51 C633.36 296.55 643.84 296.78 654.33 296.78 C664.82 296.79 680.56 296.58 685.8 296.54" stroke="#1a1a1a" stroke-width="0.9" fill="none"/>
<path d="M591.4 297.9 C596.64 297.75 612.38 297.14 622.87 297.05 C633.36 296.95 643.84 297.41 654.33 297.34 C664.82 297.26 680.56 296.71 685.8 296.59" stroke="#dcdcdc" stroke-width="0.8" fill="none"/>
<path d="M591.4 299.88 C596.64 299.94 612.38 300.18 622.87 300.24 C633.36 300.31 643.84 300.26 654.33 300.28 C664.82 300.3 680.56 300.34 685.8 300.35" stroke="#000" stroke-width="1.3" fill="none"/>
<path d="M591.4 300.98 C596.64 300.93 612.38 300.64 622.87 300.66 C633.36 300.67 643.84 300.98 654.33 301.08 C664.82 301.19 680.56 301.23 685.8 301.26" stroke="#f6f6f6" stroke-width="1.0" fill="none"/>
<path d="M591.4 302.53 C596.64 302.45 612.38 302.16 622.87 302.07 C633.36 301.97 643.84 301.99 654.33 301.94 C664.82 301.89 680.56 301.8 685.8 301.77" stroke="#1a1a1a" stroke-width="0.9" fill="none"/>
<path d="M591.4 304.37 C596.64 304.3 612.38 303.95 622.87 303.95 C633.36 303.96 643.84 304.4 654.33 304.4 C664.82 304.41 680.56 304.04 685.8 303.96" stroke="#dcdcdc" stroke-width="0.8" fill="none"/>
<path d="M591.4 306.15 C596.64 306.07 612.38 305.66 622.87 305.71 C633.36 305.75 643.84 306.31 654.33 306.42 C664.82 306.53 680.56 306.38 685.8 306.37" stroke="#000" stroke-width="1.3" fill="none"/>
<path d="M591.4 307.85 C596.64 307.73 612.38 307.23 622.87 307.18 C633.36 307.12 643.84 307.56 654.33 307.5 C664.82 307.44 680.56 306.93 685.8 306.82" stroke="#f6f6f6" stroke-width="1.0" fill="none"/>
<path d="M591.4 308.99 C596.64 309.01 612.38 309.2 622.87 309.1 C633.36 309 643.84 308.52 654.33 308.39 C664.82 308.25 680.56 308.29 685.8 308.27" stroke="#1a1a1a" stroke-width="0.9" fill="none"/>
<path d="M591.4 310.24 C596.64 310.15 612.38 309.78 622.87 309.69 C633.36 309.61 643.84 309.8 654.33 309.71 C664.82 309.61 680.56 309.21 685.8 309.11" stroke="#dcdcdc" stroke-width="0.8" fill="none"/>
<path d="M591.4 312.13 C596.64 312.06 612.38 311.72 622.87 311.69 C633.36 311.65 643.84 311.83 654.33 311.92 C664.82 312.01 680.56 312.18 685.8 312.23" stroke="#000" stroke-width="1.3" fill="none"/>
<path d="M591.4 313.91 C596.64 313.88 612.38 313.71 622.87 313.73 C633.36 313.75 643.84 314.09 654.33 314.03 C664.82 313.97 680.56 313.48 685.8 313.36" stroke="#f6f6f6" stroke-width="1.0" fill="none"/>
<path d="M591.4 315.2 C596.64 315.05 612.38 314.43 622.87 314.29 C633.36 314.15 643.84 314.43 654.33 314.38 C664.82 314.33 680.56 314.06 685.8 314" stroke="#1a1a1a" stroke-width="0.9" fill="none"/>
<path d="M591.4 316.6 C596.64 316.48 612.38 316.02 622.87 315.87 C633.36 315.72 643.84 315.65 654.33 315.68 C664.82 315.71 680.56 315.98 685.8 316.04" stroke="#dcdcdc" stroke-width="0.8" fill="none"/>
<path d="M591.4 318.42 C596.64 318.39 612.38 318.14 622.87 318.23 C633.36 318.31 643.84 318.88 654.33 318.92 C664.82 318.97 680.56 318.56 685.8 318.49" stroke="#000" stroke-width="1.3" fill="none"/>
<path d="M591.4 320.15 C596.64 320.16 612.38 320.35 622.87 320.22 C633.36 320.09 643.84 319.52 654.33 319.39 C664.82 319.26 680.56 319.43 685.8 319.44" stroke="#f6f6f6" stroke-width="1.0" fill="none"/>
<path d="M591.4 321.74 C596.64 321.77 612.38 321.88 622.87 321.88 C633.36 321.87 643.84 321.7 654.33 321.72 C664.82 321.74 680.56 321.96 685.8 322.01" stroke="#1a1a1a" stroke-width="0.9" fill="none"/>
<path d="M591.4 322.72 C596.64 322.64 612.38 322.32 622.87 322.26 C633.36 322.2 643.84 322.33 654.33 322.35 C664.82 322.37 680.56 322.38 685.8 322.38" stroke="#dcdcdc" stroke-width="0.8" fill="none"/>
<path d="M591.4 324.83 C596.64 324.89 612.38 325.13 622.87 325.18 C633.36 325.24 643.84 325.15 654.33 325.17 C664.82 325.19 680.56 325.28 685.8 325.3" stroke="#000" stroke-width="1.3" fill="none"/>
<path d="M591.4 326.66 C596.64 326.58 612.38 326.3 622.87 326.23 C633.36 326.16 643.84 326.32 654.33 326.24 C664.82 326.16 680.56 325.82 685.8 325.74" stroke="#f6f6f6" stroke-width="1.0" fill="none"/>
<path d="M591.4 327.98 C596.64 327.91 612.38 327.58 622.87 327.51 C633.36 327.45 643.84 327.7 654.33 327.6 C664.82 327.49 680.56 326.99 685.8 326.87" stroke="#1a1a1a" stroke-width="0.9" fill="none"/>
<path d="M591.4 329.12 C596.64 329.03 612.38 328.52 622.87 328.6 C633.36 328.68 643.84 329.51 654.33 329.58 C664.82 329.66 680.56 329.15 685.8 329.07" stroke="#dcdcdc" stroke-width="0.8" fill="none"/>
<path d="M591.4 331.23 C596.64 331.27 612.38 331.51 622.87 331.46 C633.36 331.42 643.84 331.15 654.33 330.96 C664.82 330.77 680.56 330.44 685.8 330.34" stroke="#000" stroke-width="1.3" fill="none"/>
<path d="M591.4 332.3 C596.64 332.24 612.38 331.96 622.87 331.94 C633.36 331.91 643.84 332.26 654.33 332.14 C664.82 332.03 680.56 331.4 685.8 331.25" stroke="#f6f6f6" stroke-width="1.0" fill="none"/>
<path d="M591.4 333.93 C596.64 333.82 612.38 333.48 622.87 333.23 C633.36 332.98 643.84 332.57 654.33 332.44 C664.82 332.3 680.56 332.44 685.8 332.44" stroke="#1a1a1a" stroke-width="0.9" fill="none"/>
<path d="M591.4 335.53 C596.64 335.49 612.38 335.44 622.87 335.32 C633.36 335.21 643.84 334.89 654.33 334.86 C664.82 334.82 680.56 335.07 685.8 335.11" stroke="#dcdcdc" stroke-width="0.8" fill="none"/>
<path d="M591.4 336.98 C596.64 336.98 612.38 336.95 622.87 336.97 C633.36 336.98 643.84 337.04 654.33 337.07 C664.82 337.1 680.56 337.13 685.8 337.14" stroke="#000" stroke-width="1.3" fill="none"/>
<path d="M591.4 338.91 C596.64 338.98 612.38 339.27 622.87 339.32 C633.36 339.37 643.84 339.29 654.33 339.21 C664.82 339.13 680.56 338.89 685.8 338.82" stroke="#f6f6f6" stroke-width="1.0" fill="none"/>
<path d="M591.4 340.68 C596.64 340.57 612.38 340.2 622.87 340.03 C633.36 339.86 643.84 339.7 654.33 339.66 C664.82 339.63 680.56 339.8 685.8 339.83" stroke="#1a1a1a" stroke-width="0.9" fill="none"/>
<path d="M591.4 342.17 C596.64 342.1 612.38 341.84 622.87 341.75 C633.36 341.66 643.84 341.81 654.33 341.64 C664.82 341.46 680.56 340.85 685.8 340.69" stroke="#dcdcdc" stroke-width="0.8" fill="none"/>
<path d="M591.4 343.5 C596.64 343.44 612.38 343.16 622.87 343.16 C633.36 343.16 643.84 343.56 654.33 343.49 C664.82 343.42 680.56 342.88 685.8 342.75" stroke="#000" stroke-width="1.3" fill="none"/>
<path d="M591.4 345.36 C596.64 345.29 612.38 344.86 622.87 344.93 C633.36 345 643.84 345.66 654.33 345.77 C664.82 345.89 680.56 345.63 685.8 345.6" stroke="#f6f6f6" stroke-width="1.0" fill="none"/>
<path d="M591.4 346.74 C596.64 346.76 612.38 346.89 622.87 346.85 C633.36 346.81 643.84 346.66 654.33 346.52 C664.82 346.38 680.56 346.11 685.8 346.02" stroke="#1a1a1a" stroke-width="0.9" fill="none"/>
<path d="M591.4 348.49 C596.64 348.57 612.38 348.96 622.87 348.95 C633.36 348.94 643.84 348.5 654.33 348.43 C664.82 348.36 680.56 348.5 685.8 348.51" stroke="#dcdcdc" stroke-width="0.8" fill="none"/>
</g>
<path d="M682.4 246.3 L594.8 246.3 L594.8 246.3 Q590 249.44 594.8 252.58 L594.8 252.58 Q590 255.72 594.8 258.86 L594.8 258.86 Q590 262 594.8 265.14 L594.8 265.14 Q590 268.28 594.8 271.42 L594.8 271.42 Q590 274.56 594.8 277.7 L594.8 277.7 Q590 280.84 594.8 283.98 L594.8 283.98 Q590 287.12 594.8 290.26 L594.8 290.26 Q590 293.4 594.8 296.54 L594.8 296.54 Q590 299.68 594.8 302.82 L594.8 302.82 Q590 305.96 594.8 309.1 L594.8 309.1 Q590 312.24 594.8 315.38 L594.8 315.38 Q590 318.52 594.8 321.66 L594.8 321.66 Q590 324.8 594.8 327.94 L594.8 327.94 Q590 331.08 594.8 334.22 L594.8 334.22 Q590 337.36 594.8 340.5 L594.8 340.5 Q590 343.64 594.8 346.78 L682.4 349.92 L682.4 349.92 Q687.2 346.78 682.4 343.64 L682.4 343.64 Q687.2 340.5 682.4 337.36 L682.4 337.36 Q687.2 334.22 682.4 331.08 L682.4 331.08 Q687.2 327.94 682.4 324.8 L682.4 324.8 Q687.2 321.66 682.4 318.52 L682.4 318.52 Q687.2 315.38 682.4 312.24 L682.4 312.24 Q687.2 309.1 682.4 305.96 L682.4 305.96 Q687.2 302.82 682.4 299.68 L682.4 299.68 Q687.2 296.54 682.4 293.4 L682.4 293.4 Q687.2 290.26 682.4 287.12 L682.4 287.12 Q687.2 283.98 682.4 280.84 L682.4 280.84 Q687.2 277.7 682.4 274.56 L682.4 274.56 Q687.2 271.42 682.4 268.28 L682.4 268.28 Q687.2 265.14 682.4 262 L682.4 262 Q687.2 258.86 682.4 255.72 L682.4 255.72 Q687.2 252.58 682.4 249.44 L682.4 249.44 Q687.2 246.3 682.4 243.16 Z" fill="none" stroke="#000" stroke-width="1.4"/>
</g>
<clipPath id="th9"><rect x="601.9" y="322.7" width="73.2" height="21.7"/></clipPath>
<g clip-path="url(#th9)">
<rect x="601.9" y="322.7" width="73.2" height="21.7" fill="#7a7a7a"/>
<path d="M600.9 318.56 C605.08 318.47 617.61 318.02 625.97 317.97 C634.32 317.92 642.68 318.34 651.03 318.25 C659.39 318.16 671.92 317.57 676.1 317.43" stroke="#000" stroke-width="1.2" fill="none"/>
<path d="M600.9 320.26 C605.08 320.18 617.61 319.81 625.97 319.81 C634.32 319.81 642.68 320.18 651.03 320.26 C659.39 320.33 671.92 320.24 676.1 320.24" stroke="#f0f0f0" stroke-width="0.9" fill="none"/>
<path d="M600.9 321.89 C605.08 321.95 617.61 322.21 625.97 322.23 C634.32 322.25 642.68 322.14 651.03 322.01 C659.39 321.88 671.92 321.53 676.1 321.44" stroke="#222" stroke-width="0.9" fill="none"/>
<path d="M600.9 322.71 C605.08 322.66 617.61 322.7 625.97 322.45 C634.32 322.21 642.68 321.45 651.03 321.23 C659.39 321 671.92 321.13 676.1 321.11" stroke="#d8d8d8" stroke-width="0.7" fill="none"/>
<path d="M600.9 323.94 C605.08 324 617.61 324.25 625.97 324.31 C634.32 324.38 642.68 324.37 651.03 324.31 C659.39 324.25 671.92 324 676.1 323.94" stroke="#000" stroke-width="1.2" fill="none"/>
<path d="M600.9 326.05 C605.08 325.91 617.61 325.4 625.97 325.2 C634.32 325 642.68 324.91 651.03 324.86 C659.39 324.81 671.92 324.88 676.1 324.89" stroke="#f0f0f0" stroke-width="0.9" fill="none"/>
<path d="M600.9 327.42 C605.08 327.28 617.61 326.83 625.97 326.6 C634.32 326.36 642.68 326.08 651.03 325.99 C659.39 325.9 671.92 326.06 676.1 326.07" stroke="#222" stroke-width="0.9" fill="none"/>
<path d="M600.9 327.87 C605.08 327.76 617.61 327.44 625.97 327.21 C634.32 326.98 642.68 326.63 651.03 326.49 C659.39 326.35 671.92 326.38 676.1 326.36" stroke="#d8d8d8" stroke-width="0.7" fill="none"/>
<path d="M600.9 329.6 C605.08 329.56 617.61 329.28 625.97 329.38 C634.32 329.49 642.68 330.13 651.03 330.24 C659.39 330.35 671.92 330.08 676.1 330.04" stroke="#000" stroke-width="1.2" fill="none"/>
<path d="M600.9 331.3 C605.08 331.29 617.61 331.26 625.97 331.27 C634.32 331.28 642.68 331.42 651.03 331.36 C659.39 331.31 671.92 331.02 676.1 330.95" stroke="#f0f0f0" stroke-width="0.9" fill="none"/>
<path d="M600.9 332.53 C605.08 332.44 617.61 332.15 625.97 331.98 C634.32 331.81 642.68 331.61 651.03 331.52 C659.39 331.43 671.92 331.45 676.1 331.44" stroke="#222" stroke-width="0.9" fill="none"/>
<path d="M600.9 333.58 C605.08 333.6 617.61 333.7 625.97 333.69 C634.32 333.67 642.68 333.41 651.03 333.49 C659.39 333.56 671.92 334.04 676.1 334.15" stroke="#d8d8d8" stroke-width="0.7" fill="none"/>
<path d="M600.9 335.16 C605.08 335.16 617.61 335.1 625.97 335.16 C634.32 335.22 642.68 335.48 651.03 335.51 C659.39 335.54 671.92 335.37 676.1 335.35" stroke="#000" stroke-width="1.2" fill="none"/>
<path d="M600.9 336.21 C605.08 336.15 617.61 336.14 625.97 335.9 C634.32 335.65 642.68 334.93 651.03 334.73 C659.39 334.54 671.92 334.74 676.1 334.74" stroke="#f0f0f0" stroke-width="0.9" fill="none"/>
<path d="M600.9 337.73 C605.08 337.63 617.61 337.31 625.97 337.14 C634.32 336.97 642.68 336.75 651.03 336.72 C659.39 336.69 671.92 336.93 676.1 336.98" stroke="#222" stroke-width="0.9" fill="none"/>
<path d="M600.9 338.69 C605.08 338.75 617.61 338.92 625.97 339.06 C634.32 339.2 642.68 339.49 651.03 339.51 C659.39 339.54 671.92 339.24 676.1 339.18" stroke="#d8d8d8" stroke-width="0.7" fill="none"/>
<path d="M600.9 340.6 C605.08 340.69 617.61 341.08 625.97 341.16 C634.32 341.24 642.68 341.07 651.03 341.06 C659.39 341.05 671.92 341.09 676.1 341.1" stroke="#000" stroke-width="1.2" fill="none"/>
<path d="M600.9 341.98 C605.08 341.9 617.61 341.59 625.97 341.52 C634.32 341.44 642.68 341.53 651.03 341.52 C659.39 341.52 671.92 341.5 676.1 341.5" stroke="#f0f0f0" stroke-width="0.9" fill="none"/>
<path d="M600.9 343.49 C605.08 343.49 617.61 343.62 625.97 343.49 C634.32 343.36 642.68 342.92 651.03 342.72 C659.39 342.53 671.92 342.39 676.1 342.32" stroke="#222" stroke-width="0.9" fill="none"/>
<path d="M600.9 344.59 C605.08 344.63 617.61 344.87 625.97 344.82 C634.32 344.78 642.68 344.34 651.03 344.33 C659.39 344.33 671.92 344.72 676.1 344.8" stroke="#d8d8d8" stroke-width="0.7" fill="none"/>
<path d="M600.9 345.83 C605.08 345.65 617.61 344.87 625.97 344.77 C634.32 344.68 642.68 345.35 651.03 345.26 C659.39 345.17 671.92 344.4 676.1 344.23" stroke="#000" stroke-width="1.2" fill="none"/>
<path d="M600.9 347.46 C605.08 347.54 617.61 347.92 625.97 347.94 C634.32 347.97 642.68 347.6 651.03 347.61 C659.39 347.62 671.92 347.93 676.1 347.99" stroke="#f0f0f0" stroke-width="0.9" fill="none"/>
<path d="M600.9 349.11 C605.08 349.13 617.61 349.24 625.97 349.21 C634.32 349.18 642.68 348.89 651.03 348.94 C659.39 349 671.92 349.44 676.1 349.54" stroke="#222" stroke-width="0.9" fill="none"/>
<path d="M600.9 349.79 C605.08 349.7 617.61 349.44 625.97 349.23 C634.32 349.02 642.68 348.62 651.03 348.51 C659.39 348.39 671.92 348.55 676.1 348.55" stroke="#d8d8d8" stroke-width="0.7" fill="none"/>
<path d="M600.9 351.62 C605.08 351.6 617.61 351.38 625.97 351.49 C634.32 351.6 642.68 352.19 651.03 352.3 C659.39 352.42 671.92 352.2 676.1 352.18" stroke="#000" stroke-width="1.2" fill="none"/>
<path d="M600.9 352.88 C605.08 352.92 617.61 353.23 625.97 353.14 C634.32 353.06 642.68 352.52 651.03 352.38 C659.39 352.25 671.92 352.35 676.1 352.34" stroke="#f0f0f0" stroke-width="0.9" fill="none"/>
<path d="M600.9 354.42 C605.08 354.42 617.61 354.65 625.97 354.43 C634.32 354.2 642.68 353.31 651.03 353.06 C659.39 352.8 671.92 352.92 676.1 352.9" stroke="#222" stroke-width="0.9" fill="none"/>
<path d="M600.9 354.96 C605.08 355.02 617.61 355.25 625.97 355.32 C634.32 355.39 642.68 355.38 651.03 355.38 C659.39 355.38 671.92 355.31 676.1 355.3" stroke="#d8d8d8" stroke-width="0.7" fill="none"/>
</g>
<rect x="601.9" y="322.7" width="73.2" height="21.7" fill="none" stroke="#000" stroke-width="1.1"/>
<line x1="593.2" y1="217" x2="684.2" y2="217" stroke="#000" stroke-width="1.2"/>
<rect x="0" y="0" width="0" height="0" fill="#fff"/>
<rect x="602.4" y="196.5" width="72.2" height="20.5" stroke="#000" stroke-width="1.5" fill="#fff"/>
<rect x="577" y="238.6" width="122.2" height="16.9" stroke="#000" stroke-width="1.5" fill="#fff"/>
<line x1="608.5" y1="238.6" x2="608.5" y2="255.5" stroke="#000" stroke-width="1.5"/>
<line x1="669.1" y1="238.6" x2="669.1" y2="255.5" stroke="#000" stroke-width="1.5"/>
<rect x="617.3" y="344.4" width="42.4" height="7.7" stroke="#000" stroke-width="1.2" fill="#fff"/>
<line x1="629.3" y1="344.4" x2="629.3" y2="352.1" stroke="#000" stroke-width="1.2"/>
<line x1="648.5" y1="344.4" x2="648.5" y2="352.1" stroke="#000" stroke-width="1.2"/>
<path d="M623.6 352.1 L627.3 365 L650.2 365 L654.2 352.1" stroke="#000" stroke-width="1.2" fill="#fff"/>
<rect x="627.1" y="365" width="23.9" height="42.1" stroke="#000" stroke-width="1.3" fill="#fff"/>
<line x1="602.4" y1="173.5" x2="627.95" y2="173.5" stroke="#555" stroke-width="0.9"/>
<line x1="649.45" y1="173.5" x2="674.6" y2="173.5" stroke="#555" stroke-width="0.9"/>
<path d="M602.4 173.5 L608.9 171.9 L608.9 175.1 Z" fill="#000"/>
<path d="M674.6 173.5 L668.1 175.1 L668.1 171.9 Z" fill="#000"/>
<text x="638.7" y="172.7" font-family="Liberation Serif" font-size="12" font-weight="normal" text-anchor="middle" dominant-baseline="central" textLength="16.5" lengthAdjust="spacingAndGlyphs" fill="#000" stroke="#000" stroke-width="0.4">ø17</text>
<line x1="699.7" y1="196.3" x2="699.7" y2="222.25" stroke="#555" stroke-width="0.9"/>
<path d="M699.7 196.3 L701.3 202.8 L698.1 202.8 Z" fill="#000"/>
<path d="M699.7 217.2 L698.1 210.7 L701.3 210.7 Z" fill="#000"/>
<text x="699.7" y="227" font-family="Liberation Sans" font-size="9" font-weight="normal" text-anchor="middle" dominant-baseline="central" textLength="5.5" lengthAdjust="spacingAndGlyphs" transform="rotate(-90 699.7 227)" fill="#000" stroke="#000" stroke-width="0.25">5</text>
<line x1="718.4" y1="196.3" x2="718.4" y2="250.7" stroke="#555" stroke-width="0.9"/>
<line x1="718.4" y1="268.7" x2="718.4" y2="322.9" stroke="#555" stroke-width="0.9"/>
<path d="M718.4 196.3 L720 202.8 L716.8 202.8 Z" fill="#000"/>
<path d="M718.4 322.9 L716.8 316.4 L720 316.4 Z" fill="#000"/>
<text x="718.4" y="259.7" font-family="Liberation Sans" font-size="15" font-weight="normal" text-anchor="middle" dominant-baseline="central" textLength="14" lengthAdjust="spacingAndGlyphs" transform="rotate(-90 718.4 259.7)" fill="#000" stroke="#000" stroke-width="0.25">30</text>
<line x1="739.1" y1="196.3" x2="739.1" y2="261" stroke="#555" stroke-width="0.9"/>
<line x1="739.1" y1="279" x2="739.1" y2="343.9" stroke="#555" stroke-width="0.9"/>
<path d="M739.1 196.3 L740.7 202.8 L737.5 202.8 Z" fill="#000"/>
<path d="M739.1 343.9 L737.5 337.4 L740.7 337.4 Z" fill="#000"/>
<text x="739.1" y="270" font-family="Liberation Sans" font-size="15" font-weight="normal" text-anchor="middle" dominant-baseline="central" textLength="14" lengthAdjust="spacingAndGlyphs" transform="rotate(-90 739.1 270)" fill="#000" stroke="#000" stroke-width="0.25">35</text>
<line x1="767" y1="196.3" x2="767" y2="293" stroke="#555" stroke-width="0.9"/>
<line x1="767" y1="311" x2="767" y2="406.9" stroke="#555" stroke-width="0.9"/>
<path d="M767 196.3 L768.6 202.8 L765.4 202.8 Z" fill="#000"/>
<path d="M767 406.9 L765.4 400.4 L768.6 400.4 Z" fill="#000"/>
<text x="767" y="302" font-family="Liberation Sans" font-size="15" font-weight="normal" text-anchor="middle" dominant-baseline="central" textLength="14" lengthAdjust="spacingAndGlyphs" transform="rotate(-90 767 302)" fill="#000" stroke="#000" stroke-width="0.25">50</text>
<line x1="551.4" y1="238.5" x2="551.4" y2="260.8" stroke="#555" stroke-width="0.9"/>
<path d="M551.4 238.5 L553 245 L549.8 245 Z" fill="#000"/>
<path d="M551.4 255.6 L549.8 249.1 L553 249.1 Z" fill="#000"/>
<text x="551.4" y="265.8" font-family="Liberation Serif" font-size="12" font-weight="normal" text-anchor="middle" dominant-baseline="central" textLength="6" lengthAdjust="spacingAndGlyphs" transform="rotate(-90 551.4 265.8)" fill="#000" stroke="#000" stroke-width="0.4">4</text>
<line x1="613.6" y1="424" x2="627.1" y2="424" stroke="#555" stroke-width="0.9"/>
<line x1="651" y1="424" x2="664.5" y2="424" stroke="#555" stroke-width="0.9"/>
<path d="M627.1 424 L620.6 425.6 L620.6 422.4 Z" fill="#000"/>
<path d="M651 424 L657.5 422.4 L657.5 425.6 Z" fill="#000"/>
<text x="638.4" y="424" font-family="Liberation Sans" font-size="11" font-weight="normal" text-anchor="middle" dominant-baseline="central" textLength="17.5" lengthAdjust="spacingAndGlyphs" fill="#000" stroke="#000" stroke-width="0.4">Ø5.6</text>
<line x1="617.6" y1="442.5" x2="627.95" y2="442.5" stroke="#555" stroke-width="0.9"/>
<line x1="648.45" y1="442.5" x2="660" y2="442.5" stroke="#555" stroke-width="0.9"/>
<path d="M617.6 442.5 L624.1 440.9 L624.1 444.1 Z" fill="#000"/>
<path d="M660 442.5 L653.5 444.1 L653.5 440.9 Z" fill="#000"/>
<text x="638.2" y="442.5" font-family="Liberation Serif" font-size="11" font-weight="normal" text-anchor="middle" dominant-baseline="central" textLength="15.5" lengthAdjust="spacingAndGlyphs" fill="#000" stroke="#000" stroke-width="0.4">ø10</text>
<line x1="602.8" y1="457.3" x2="630.85" y2="457.3" stroke="#555" stroke-width="0.9"/>
<line x1="646.35" y1="457.3" x2="674.5" y2="457.3" stroke="#555" stroke-width="0.9"/>
<path d="M602.8 457.3 L609.3 455.7 L609.3 458.9 Z" fill="#000"/>
<path d="M674.5 457.3 L668 458.9 L668 455.7 Z" fill="#000"/>
<text x="638.6" y="457.3" font-family="Liberation Serif" font-size="11" font-weight="normal" text-anchor="middle" dominant-baseline="central" textLength="10.5" lengthAdjust="spacingAndGlyphs" fill="#000" stroke="#000" stroke-width="0.4">17</text>
<line x1="592.9" y1="471" x2="617.3" y2="471" stroke="#555" stroke-width="0.9"/>
<line x1="660.3" y1="471" x2="684.7" y2="471" stroke="#555" stroke-width="0.9"/>
<path d="M592.9 471 L599.4 469.4 L599.4 472.6 Z" fill="#000"/>
<path d="M684.7 471 L678.2 472.6 L678.2 469.4 Z" fill="#000"/>
<text x="638.8" y="471" font-family="Liberation Serif" font-size="11" font-weight="normal" text-anchor="middle" dominant-baseline="central" textLength="38" lengthAdjust="spacingAndGlyphs" fill="#000" stroke="#000" stroke-width="0.4">M22*1.5</text>
<path d="M69.9 496.9 Q60.7 504.15 69.9 511.4" stroke="#000" stroke-width="1.3" fill="none"/>
<path d="M76.4 498.8 L76.4 510.5 M76.4 499.2 Q75.3 500.9 73.4 501.6" stroke="#000" stroke-width="1.5" fill="none"/>
<path d="M82 505.5 C86 499.8 90 505.3 90.8 505.5 S94.8 508.8 98 502.7" stroke="#000" stroke-width="1.3" fill="none"/>
<text x="99.4" y="510.5" font-family="Liberation Sans" font-size="16" fill="#000" stroke="#000" stroke-width="0.35">2</text>
<text x="107.6" y="510.5" font-family="Liberation Sans" font-size="16" textLength="19.5" lengthAdjust="spacingAndGlyphs" fill="#000" stroke="#000" stroke-width="0.3">mm</text>
<path d="M129.8 497.5 L140.5 497.5 M129.8 499 L140.5 499 M129.8 500.5 L140.5 500.5 M129.8 497.5 L129.8 500.5 M140.5 497.5 L140.5 500.5 M127.2 502.5 L143 502.5 M129.8 504.5 L140.5 504.5 M129.8 506 L140.5 506 M129.8 507.5 L140.5 507.5 M129.8 504.5 L129.8 507.5 M140.5 504.5 L140.5 507.5 M135.2 504.5 L135.2 511.5 M129.8 509.5 L140.5 509.5 M127.2 511.5 L143 511.5" stroke="#000" stroke-width="1.05" fill="none"/>
<path d="M150.9 497.2 L146.3 498.8 M145.6 501.5 L151 501.5 M148.5 498.2 L148.5 512.4 M148.3 502.2 Q147.5 505.8 145.5 508.6 M149 503.8 L150.8 506.2 M153.1 497.5 L159.9 497.5 L159.9 501.5 L153.1 501.5 Z M152.3 504.3 L160.5 504.3 M153.3 507.7 L159.7 507.7 M156.7 504.3 L156.7 511.5 M151.5 511.5 L161.1 511.5" stroke="#000" stroke-width="1.1" fill="none"/>
<path d="M165.2 496.9 Q173 504.15 165.2 511.4" stroke="#000" stroke-width="1.3" fill="none"/>
<path d="M321 496.9 Q311.8 504.15 321 511.4" stroke="#000" stroke-width="1.3" fill="none"/>
<text x="324.5" y="510.5" font-family="Liberation Sans" font-size="16" fill="#000" stroke="#000" stroke-width="0.35">4</text>
<text x="332.6" y="510.5" font-family="Liberation Sans" font-size="16" textLength="19.5" lengthAdjust="spacingAndGlyphs" fill="#000" stroke="#000" stroke-width="0.3">mm</text>
<path d="M354.7 497.5 L365.4 497.5 M354.7 499 L365.4 499 M354.7 500.5 L365.4 500.5 M354.7 497.5 L354.7 500.5 M365.4 497.5 L365.4 500.5 M352.1 502.5 L367.9 502.5 M354.7 504.5 L365.4 504.5 M354.7 506 L365.4 506 M354.7 507.5 L365.4 507.5 M354.7 504.5 L354.7 507.5 M365.4 504.5 L365.4 507.5 M360.1 504.5 L360.1 511.5 M354.7 509.5 L365.4 509.5 M352.1 511.5 L367.9 511.5" stroke="#000" stroke-width="1.05" fill="none"/>
<path d="M375.9 497.2 L371.3 498.8 M370.6 501.5 L376 501.5 M373.5 498.2 L373.5 512.4 M373.3 502.2 Q372.5 505.8 370.5 508.6 M374 503.8 L375.8 506.2 M378.1 497.5 L384.9 497.5 L384.9 501.5 L378.1 501.5 Z M377.3 504.3 L385.5 504.3 M378.3 507.7 L384.7 507.7 M381.7 504.3 L381.7 511.5 M376.5 511.5 L386.1 511.5" stroke="#000" stroke-width="1.1" fill="none"/>
<path d="M388.6 496.9 Q396.8 504.15 388.6 511.4" stroke="#000" stroke-width="1.3" fill="none"/>
<path d="M600.9 496.9 Q591.7 504.15 600.9 511.4" stroke="#000" stroke-width="1.3" fill="none"/>
<text x="602.3" y="510.5" font-family="Liberation Sans" font-size="16" fill="#000" stroke="#000" stroke-width="0.35">5</text>
<text x="610.8" y="510.5" font-family="Liberation Sans" font-size="16" textLength="19.5" lengthAdjust="spacingAndGlyphs" fill="#000" stroke="#000" stroke-width="0.3">mm</text>
<path d="M633.1 497.5 L643.8 497.5 M633.1 499 L643.8 499 M633.1 500.5 L643.8 500.5 M633.1 497.5 L633.1 500.5 M643.8 497.5 L643.8 500.5 M630.5 502.5 L646.3 502.5 M633.1 504.5 L643.8 504.5 M633.1 506 L643.8 506 M633.1 507.5 L643.8 507.5 M633.1 504.5 L633.1 507.5 M643.8 504.5 L643.8 507.5 M638.5 504.5 L638.5 511.5 M633.1 509.5 L643.8 509.5 M630.5 511.5 L646.3 511.5" stroke="#000" stroke-width="1.05" fill="none"/>
<path d="M653.9 497.2 L649.3 498.8 M648.6 501.5 L654 501.5 M651.5 498.2 L651.5 512.4 M651.3 502.2 Q650.5 505.8 648.5 508.6 M652 503.8 L653.8 506.2 M656.1 497.5 L662.9 497.5 L662.9 501.5 L656.1 501.5 Z M655.3 504.3 L663.5 504.3 M656.3 507.7 L662.7 507.7 M659.7 504.3 L659.7 511.5 M654.5 511.5 L664.1 511.5" stroke="#000" stroke-width="1.1" fill="none"/>
<path d="M669.2 496.9 Q677.6 504.15 669.2 511.4" stroke="#000" stroke-width="1.3" fill="none"/>
</svg>
</body></html>
